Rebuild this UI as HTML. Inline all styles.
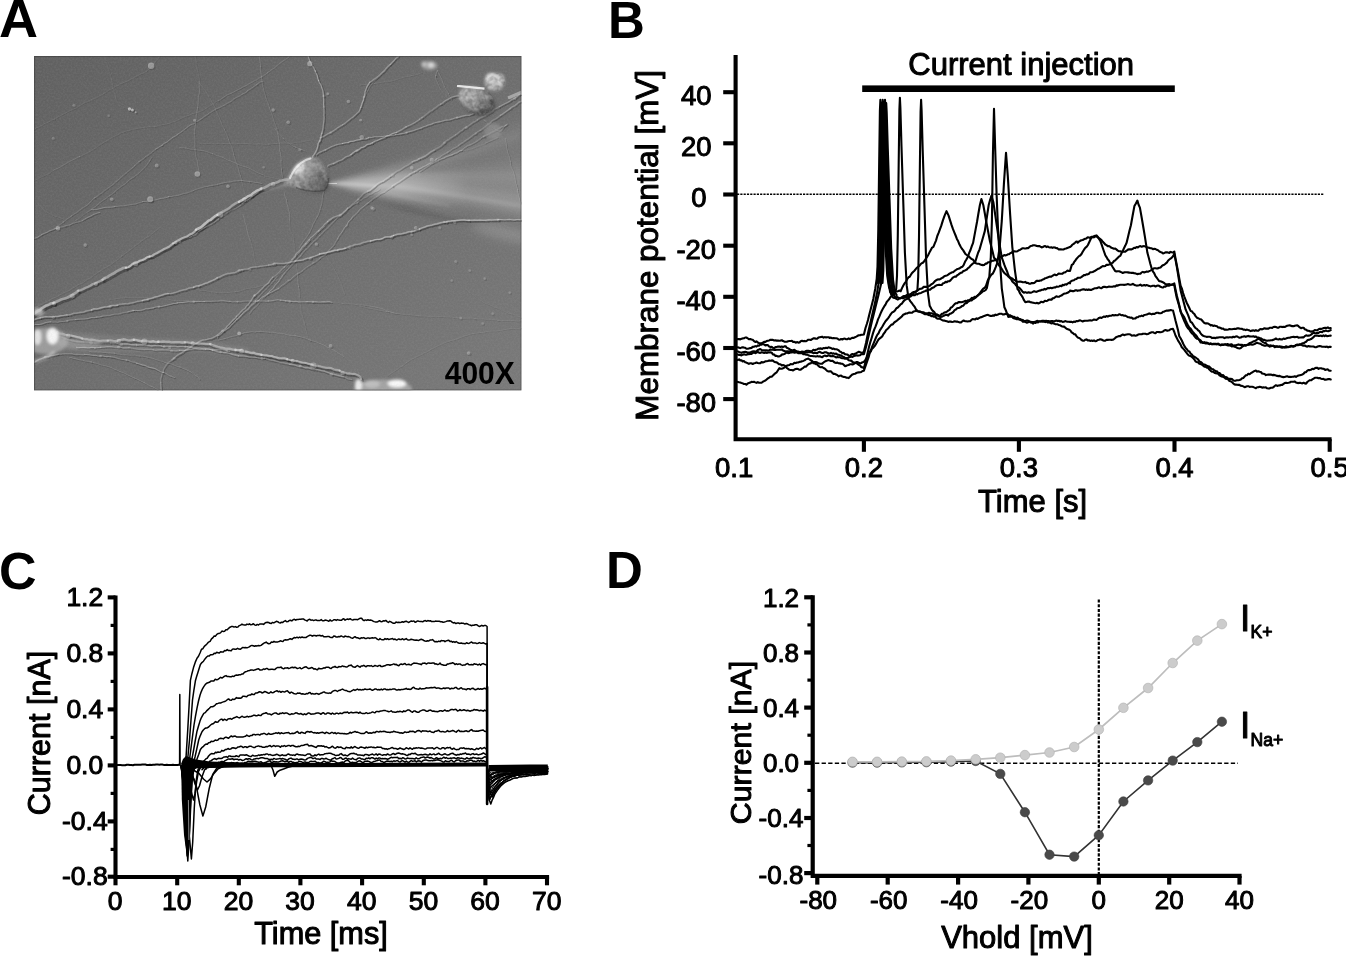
<!DOCTYPE html>
<html><head><meta charset="utf-8"><title>Figure</title>
<style>
html,body{margin:0;padding:0;background:#fff;overflow:hidden}
svg{display:block}
text{font-family:"Liberation Sans",sans-serif;fill:#000;stroke:#000;stroke-width:1.0px;stroke-linejoin:round;opacity:0.999}
.b{font-weight:bold;stroke-width:0}
.ax{stroke:#000;fill:none;stroke-linecap:butt}
.tr{stroke:#000;fill:none;stroke-linejoin:round;stroke-linecap:round}
</style></head><body>
<svg width="1346" height="956" viewBox="0 0 1346 956">
<rect x="0" y="0" width="1346" height="956" fill="#fff"/>
<text class="b" x="-1" y="37" font-size="54">A</text>
<defs>
<linearGradient id="abg" gradientUnits="userSpaceOnUse" x1="34" y1="56" x2="383" y2="544"><stop offset="0" stop-color="#606060"/><stop offset="1" stop-color="#7b7b7b"/></linearGradient>
<filter id="bl05" x="-5%" y="-5%" width="110%" height="110%"><feGaussianBlur stdDeviation="0.45"/></filter>
<filter id="bl1" x="-5%" y="-5%" width="110%" height="110%"><feGaussianBlur stdDeviation="0.7"/></filter>
<filter id="bl2" x="-20%" y="-20%" width="140%" height="140%"><feGaussianBlur stdDeviation="1.5"/></filter>
<filter id="bl3" x="-30%" y="-30%" width="160%" height="160%"><feGaussianBlur stdDeviation="2.6"/></filter>
<filter id="bl5" x="-30%" y="-30%" width="160%" height="160%"><feGaussianBlur stdDeviation="5"/></filter>
<filter id="grain" x="0" y="0" width="100%" height="100%"><feTurbulence type="fractalNoise" baseFrequency="0.55" numOctaves="2" seed="7" result="n"/><feColorMatrix in="n" type="matrix" values="0 0 0 0 0.5  0 0 0 0 0.5  0 0 0 0 0.5  1.4 0 0 0 -0.45"/></filter>
<filter id="wob" x="-2%" y="-2%" width="104%" height="104%"><feTurbulence type="fractalNoise" baseFrequency="0.09" numOctaves="2" seed="3" result="t"/><feDisplacementMap in="SourceGraphic" in2="t" scale="3.2" xChannelSelector="R" yChannelSelector="G" result="d"/><feGaussianBlur in="d" stdDeviation="0.65"/></filter>
<linearGradient id="somag" gradientUnits="userSpaceOnUse" x1="292" y1="162" x2="326" y2="192"><stop offset="0" stop-color="#c4c4c4"/><stop offset="0.35" stop-color="#9a9a9a"/><stop offset="0.7" stop-color="#7c7c7c"/><stop offset="1" stop-color="#505050"/></linearGradient>
<linearGradient id="fadeR" gradientUnits="userSpaceOnUse" x1="330" y1="0" x2="470" y2="0"><stop offset="0" stop-color="#fff" stop-opacity="1"/><stop offset="0.5" stop-color="#fff" stop-opacity="0.75"/><stop offset="1" stop-color="#fff" stop-opacity="0"/></linearGradient>
<linearGradient id="fadeK" gradientUnits="userSpaceOnUse" x1="350" y1="0" x2="490" y2="0"><stop offset="0" stop-color="#000" stop-opacity="0.6"/><stop offset="0.4" stop-color="#000" stop-opacity="1"/><stop offset="1" stop-color="#000" stop-opacity="0"/></linearGradient>
<filter id="texw" x="0" y="0" width="100%" height="100%"><feTurbulence type="fractalNoise" baseFrequency="0.22" numOctaves="2" seed="23" result="n"/><feColorMatrix in="n" type="matrix" values="0 0 0 0 1  0 0 0 0 1  0 0 0 0 1  2.6 0 0 0 -0.95"/></filter>
<filter id="texk" x="0" y="0" width="100%" height="100%"><feTurbulence type="fractalNoise" baseFrequency="0.22" numOctaves="2" seed="5" result="n"/><feColorMatrix in="n" type="matrix" values="0 0 0 0 0  0 0 0 0 0  0 0 0 0 0  2.6 0 0 0 -0.95"/></filter>
<clipPath id="somaclip"><path d="M284 183.5 Q289 176 293 169 Q299 160.5 309 157.5 Q315 156.5 320 161 Q326 167 327.5 176 Q328.5 184 326 188 Q320 192.5 311 191.5 Q298 189.5 284 183.5 Z"/></clipPath>
<clipPath id="cellclip"><ellipse cx="476" cy="100" rx="18" ry="14" transform="rotate(20 476 100)"/><ellipse cx="494.5" cy="82" rx="10.5" ry="9.5"/></clipPath>
<clipPath id="aclip"><rect x="34" y="56" width="487.6" height="334.6"/></clipPath>
</defs>
<g clip-path="url(#aclip)">
<rect x="34" y="56" width="487.6" height="334.6" fill="url(#abg)"/>
<g filter="url(#bl5)">
<polygon points="338,183 530,118 530,178" fill="#fff" opacity="0.05"/>
<polygon points="345,184 530,162 530,222" fill="#fff" opacity="0.09"/>
<ellipse cx="506" cy="233" rx="36" ry="7" fill="#fff" opacity="0.16" transform="rotate(13 506 233)"/>
</g>
<g filter="url(#bl3)">
<polygon points="332,183 440,172 530,172 530,216 440,199" fill="#fff" opacity="0.07"/>
<polygon points="330,183 450,184 530,197 530,212 450,197" fill="#fff" opacity="0.08"/>
<polygon points="330,183 390,178 470,182 470,196 390,192" fill="url(#fadeR)" opacity="0.16"/>
<polygon points="330,182 400,167 470,148 520,130 520,139 470,157 400,174" fill="#fff" opacity="0.06"/>
<polygon points="352,190 400,201 445,212 490,223 490,229 445,221 400,209 352,193" fill="url(#fadeK)" opacity="0.16"/>
<polygon points="331,183 391,164 470,146 470,220 391,203 340,186.5" fill="url(#fadeR)" opacity="0.12"/>
<polygon points="328,183 354,176.5 391,172 470,172 470,206 391,198 354,191.5" fill="url(#fadeR)" opacity="0.22"/>
</g>
<g filter="url(#bl2)">
<polygon points="327,183 400,184 470,195 530,205 530,209 470,199.5 400,188.5" fill="#fff" opacity="0.10"/>
<polygon points="327,183.5 380,190 420,198 450,204 450,207 420,202 380,193.5" fill="#fff" opacity="0.10"/>
<polygon points="327,183 370,178.5 420,171 420,175.5 370,182" fill="#fff" opacity="0.08"/>
<path d="M327 183.3 L348 184 L376 186" stroke="#fff" stroke-width="2.4" opacity="0.30" fill="none"/>
</g>
<g filter="url(#bl1)" fill="none" stroke="#fff"><path d="M326.5 183.2 L337 183.5" stroke-width="2" opacity="0.5"/></g>
<g fill="none" stroke-linecap="round" stroke-linejoin="round" filter="url(#bl1)">
<g stroke="#181818"><path d="M290.1 181.7 L288.3 181.8 L283.8 182.8 L281.9 183.1 L279.8 184.3 L277.4 185.2 L274.7 185.8 L271.9 186.8 L269.2 188.5 L266.4 190 L263.3 190.7" stroke-width="2.6" opacity="0.3"/><path d="M263.2 190.6 L261.2 191.7 L258.9 192.7 L256.8 194.1 L254.7 195.5 L252.7 197.3 L250.2 198.3 L248 199.8 L245.6 201.1 L243.3 202.5 L240.9 203.9" stroke-width="2.4" opacity="0.5"/><path d="M240.9 203.9 L238.4 205 L236.2 206.2 L234.1 207.5 L232.2 209.2 L230.3 210.7 L228.1 212 L225.9 213.2 L223.5 214.3 L221.6 216 L219.1 217" stroke-width="2.3" opacity="0.3"/><path d="M219.2 217.1 L216.9 218.4 L214.8 220.2 L212.7 222 L210.4 223 L208.5 224.6 L206.6 226.2 L204.6 227.9 L202.7 229.7 L200.3 230.7 L198 231.9" stroke-width="2.5" opacity="0.5"/><path d="M197.8 231.7 L195.9 233.6 L193.8 235.4 L191.3 236.4 L189.1 238.1 L186.4 239 L183.8 240.1 L181.3 241.4 L179.1 242.5 L177 244 L174.8 245.3" stroke-width="2" opacity="0.5"/><path d="M174.8 245.3 L172.7 247 L170.7 248.7 L168.3 249.9 L165.8 251 L163.4 252.2 L161.1 253.6 L158.7 255 L156.2 256.1 L154 257.7 L151.4 258.5" stroke-width="2.1" opacity="0.5"/><path d="M151.3 258.4 L148.7 259.2 L146.5 260.8 L144.1 261.9 L141.5 262.6 L139.3 264 L136.8 264.9 L134.3 265.6 L132.2 267.4 L130.1 268.9 L127.5 269.6" stroke-width="2" opacity="0.5"/><path d="M127.7 269.9 L125.1 270.4 L122.8 271.6 L120.4 272.7 L118.1 273.9 L116 275.5 L113.7 276.6 L111.4 277.9 L109.2 279.4 L106.8 280.4 L104.6 281.9" stroke-width="2.6" opacity="0.4"/><path d="M104.4 281.7 L102.1 283 L99.6 284 L97.2 285.2 L94.6 286.1 L92.3 287.5 L89.9 288.8 L87.3 289.7 L85 291 L82.6 292.2 L79.9 292.8" stroke-width="2.2" opacity="0.4"/><path d="M80.1 292.9 L78.1 294.9 L75.9 296.2 L73.8 297.6 L71.6 298.6 L69.5 299.8 L66.7 300.7 L63.7 301.5 L61 302.8 L58.3 304 L55.6 305.2" stroke-width="2.6" opacity="0.4"/><path d="M55.6 305.2 L52.7 305.9 L50.3 307.3 L47.7 308.1 L45.6 309.5 L43.5 310.6 L42 312.4 L40.2 313.1 L38.9 314 L35 316.6 L34.1 316.2" stroke-width="2.6" opacity="0.5"/><path d="M262.6 191.2 L261 191.6 L259.4 192.7 L257.7 194.4 L255.6 195.9 L253.2 197.5 L251.1 199.6 L248.6 201.4 L246 203.1 L243.5 204.8 L241.3 206.5" stroke-width="1.1" opacity="0.3"/><path d="M241.2 206.4 L239 207.8 L236.7 209.2 L234.3 210.3 L232 211.4 L230 212.8 L227.8 213.9 L225.9 215.5 L223.7 216.8 L221.5 218.3 L219.4 219.9" stroke-width="0.9" opacity="0.2"/><path d="M219.5 220 L217.3 221.8 L215.3 223.3 L213 224.7 L210.4 226.1 L207.7 227.6 L205 229.1 L202.4 230.8 L199.9 232.4 L198 234.5 L196 236.2" stroke-width="1.1" opacity="0.3"/><path d="M196 236.2 L193.7 236.9 L192 238 L190.6 238.6" stroke-width="1" opacity="0.3"/><path d="M522.6 220.7 L521.2 221.1 L519.5 221.1 L517.6 220.9 L515.4 221.3 L513.1 221.1 L510.6 220.7 L507.9 221 L505.1 221.1 L502.2 220.9 L499.3 221" stroke-width="1.2" opacity="0.4"/><path d="M499.4 221.2 L496.3 221.4 L493.3 221.6 L490.2 221.4 L487.2 221.9 L484.2 221.8 L481.2 221.7 L478.4 221.8 L475.6 221.7 L473 221.9 L470.5 221.9" stroke-width="1.5" opacity="0.4"/><path d="M470.5 221.9 L468.2 221.9 L466.1 221.6 L462.7 221.6 L459.6 221.8 L456.9 222.2 L454.4 222.3 L452 222.7 L449.8 222.9 L447.7 223.4 L445.5 223.6" stroke-width="1.5" opacity="0.4"/><path d="M445.5 223.6 L443.3 224 L441 224.6 L438.6 225.3 L435.9 225.8 L433.6 226.5 L431.1 227 L428.6 227.5 L426 228.5 L423.4 229.5 L420.7 230.6" stroke-width="1.5" opacity="0.4"/><path d="M420.7 230.6 L418 231.4 L415.4 232.4 L412.6 233 L409.9 233.4 L407.4 234.3 L405 234.7 L402.7 235.5 L400.4 235.5 L398.5 235.9 L395 236.9" stroke-width="1.5" opacity="0.4"/><path d="M395 236.9 L392.4 238.1 L390.1 238.3 L388 238.3 L385.9 238.6 L383.7 239.9 L380.7 240.8 L378.6 240.9 L376.3 241.1 L374.1 241.8 L371.7 242.4" stroke-width="1.3" opacity="0.4"/><path d="M371.7 242.5 L369.2 242.8 L366.7 243.5 L364.1 244.2 L361.6 245.3 L359 245.9 L356.2 246.1 L353.8 247.3 L351.2 247.6 L348.8 248.8 L346.4 249.7" stroke-width="1.5" opacity="0.3"/><path d="M346.4 249.7 L344 250.5 L341.4 250.9 L338.8 251.5 L336.2 251.9 L333.7 252.6 L331.1 253.3 L328.6 254 L326.1 254.7 L323.5 255.1 L321 255.6" stroke-width="1.5" opacity="0.4"/><path d="M320.9 255.5 L318.5 256.5 L316.1 257.5 L313.7 258.2 L311.4 259.3 L308.9 259.7 L306.4 260.3 L304 261.3 L301.6 261.8 L299 262 L296.4 262.6" stroke-width="1.3" opacity="0.3"/><path d="M296.5 262.6 L293.9 263.2 L291.2 263.8 L288.7 264.2 L286.2 264.8 L283.5 265 L280.8 265 L278.1 264.9 L275.3 265.2 L272.7 266.2 L270 266.5" stroke-width="1.5" opacity="0.3"/><path d="M269.9 266.3 L267.3 266.9 L264.6 267.2 L262 267.5 L259.5 268 L257 268.2 L254.2 268.6 L251.3 269.1 L248.7 270.4 L245.8 270.6 L243.1 271.3" stroke-width="1.2" opacity="0.3"/><path d="M243.2 271.4 L240.5 271.8 L238.2 273.2 L235.8 274.3 L233.3 274.6 L230.9 275 L228.6 275.2 L225.6 276.2 L223.1 277.4 L220.8 278.6 L218.6 279.4" stroke-width="1.5" opacity="0.3"/><path d="M218.6 279.3 L216.4 280.7 L213.9 281.9 L210.9 283.3 L208.9 284.3 L206.7 284.8 L204.5 285.6 L202.4 286.7 L199.9 287.3 L197.3 287.6 L194.9 288.8" stroke-width="1.5" opacity="0.3"/><path d="M194.9 288.7 L192.2 289.2 L189.5 289.8 L186.9 291 L184.1 291.5 L181.3 292.2 L179.1 293.1 L176.8 293.8 L174.4 294.5 L171.9 295.1 L169.3 295.1" stroke-width="1.4" opacity="0.3"/><path d="M169.3 295.1 L166.7 295.4 L164.2 296.3 L161.7 297.1 L159.1 297.9 L156.5 298.5 L154 299.4 L151.4 300.1 L148.9 300.9 L146.3 301.4 L143.8 302.1" stroke-width="1.5" opacity="0.4"/><path d="M143.8 302 L141.2 302.4 L138.6 302.8 L136.2 303.6 L133.7 304.1 L131.2 304.6 L128.7 305.3 L126 305.1 L123.5 305.5 L120.9 305.6 L118.5 306.7" stroke-width="1.4" opacity="0.3"/><path d="M118.6 306.8 L116.1 307.1 L113.4 307 L111 307.9 L108.4 308.3 L105.9 308.6 L103.4 309.1 L100.8 309.9 L98.2 310.5 L95.4 310.4 L92.9 311.6" stroke-width="1.5" opacity="0.4"/><path d="M92.8 311.5 L90.1 312 L87.5 312.5 L84.9 313.5 L82.3 313.7 L79.8 314.2 L77.3 314.6 L74.8 314.8 L72.6 315.7 L70.5 316.2 L68.3 316.4" stroke-width="1.4" opacity="0.3"/><path d="M68.4 316.4 L65.1 316.9 L62.1 317.2 L59.3 318 L56.7 318 L54.2 318.4 L51.9 318.3 L49.7 318.4 L47.5 318.3 L45.5 318.4 L41.5 319.3" stroke-width="1.4" opacity="0.4"/><path d="M41.5 319.2 L38.1 320.1 L35.5 321 L33.7 321.7" stroke-width="1.3" opacity="0.4"/><path d="M522.4 322.2 L521 321.6 L519.3 322 L517.3 321.9 L515.2 321.6 L512.8 321.4 L510.2 321.6 L507.5 321.4 L504.7 321.4 L501.8 321.3 L498.8 321.3" stroke-width="0.7" opacity="0.1"/><path d="M498.8 321.2 L495.8 320.7 L492.7 320.4 L489.7 320.1 L486.7 320.2 L483.9 319.8 L481 319.7 L478.3 319.8 L475.8 319.6 L473.4 319.1 L470.6 318.9" stroke-width="0.7" opacity="0.1"/><path d="M470.6 319 L467.8 319.1 L465.2 319.2 L462.5 319.4 L460 319 L457.5 318.5 L455.1 318.7 L452.7 318 L450.3 317.8 L447.9 317.8 L445.5 317.7" stroke-width="0.7" opacity="0.1"/><path d="M445.5 317.7 L443.1 317.6 L440.7 317.5 L438.2 317.7 L435.7 317.8 L433.2 317.4 L430.6 317.2 L427.9 317.2 L425.2 316.9 L422.4 316.9 L419.7 316.8" stroke-width="0.7" opacity="0.1"/><path d="M419.7 316.8 L417 316.6 L414.4 316.1 L411.8 315.7 L409.2 315.6 L406.7 315.8 L404.4 315.6 L402.2 315 L400.1 314.5 L398.2 314.5 L394.6 313.9" stroke-width="0.7" opacity="0.1"/><path d="M394.5 313.8 L391.6 313.1 L389.1 312.3 L386.9 311.5 L384.9 310.4 L382.9 309.3 L380.4 308.9 L378 308.4 L375.6 307.9 L373.4 307.3 L371 307.1" stroke-width="0.7" opacity="0.1"/><path d="M371 307.1 L368.5 306.5 L365.7 306.1 L362.5 305.8 L360.3 305.8 L357.8 305.7 L355 305.2 L352.2 304.8 L349.2 304.6 L346.2 304.2 L343.3 304.5" stroke-width="0.7" opacity="0.1"/><path d="M343.3 304.5 L340.5 303.9 L338 303.3 L335.7 302.9 L333.7 303.1 L332.2 303.3" stroke-width="0.7" opacity="0.1"/><path d="M332.4 303.5 L331 303.1 L329.2 303.1 L327.2 303.1 L324.9 303.1 L322.4 303.3 L319.7 303.3 L316.9 303 L314 303.2 L311.1 302.9 L308.1 303" stroke-width="1.2" opacity="0.3"/><path d="M308.1 302.9 L305.2 303 L302.4 303 L299.6 303.2 L297.1 302.6 L294.7 302.9 L291.9 302.5 L289.2 302.2 L286.6 302.1 L284 301.6 L281.5 301.4" stroke-width="1.1" opacity="0.2"/><path d="M281.4 301.4 L278.9 300.8 L276.5 301.2 L274 301.7 L271.6 302.1 L269.3 302 L266.9 302.4 L264.6 302 L261.8 302.2 L259.1 302 L256.4 302.1" stroke-width="0.9" opacity="0.2"/><path d="M256.5 302.2 L253.9 302.4 L251.2 302.2 L248.6 302.1 L246.1 302.2 L243.5 302.4 L240.9 303 L238.3 302.9 L235.8 302.8 L233.4 303 L230.9 302.6" stroke-width="1" opacity="0.2"/><path d="M231 302.7 L228.5 302.6 L226 302.1 L223.5 301.8 L220.9 302 L218.3 302.3 L215.8 302.4 L213.2 302.6 L210.6 302.7 L208 302.4 L205.4 302.7" stroke-width="1.2" opacity="0.2"/><path d="M205.4 302.6 L202.7 302.6 L200.1 302.5 L197.4 302.7 L194.7 302.8 L192 303 L189.3 302.8 L186.6 303.2 L183.9 303.7 L181.2 303.7 L178.8 303.9" stroke-width="1" opacity="0.2"/><path d="M178.7 303.9 L176.4 304.7 L174 304.6 L171.8 305.4 L169.5 305.7 L167.2 306.6 L164.8 306.9 L162.4 307.6 L159.7 307.8 L156.9 308 L154.2 308.9" stroke-width="0.9" opacity="0.3"/><path d="M154.2 309 L151.2 309.6 L149 310 L146.7 309.9 L144.4 310.9 L142 311.4 L139.5 311.8 L136.9 311.6 L134.2 311.7 L131.6 312.4 L129 313" stroke-width="1" opacity="0.3"/><path d="M129 313 L126.3 313.5 L123.6 314 L121.1 314.9 L118.4 315.2 L115.7 315.3 L113.2 315.9 L110.8 316.6 L108.3 316.7 L105.9 317 L103.2 317.3" stroke-width="1" opacity="0.2"/><path d="M103.1 317.3 L100.4 318.1 L97.6 318.2 L94.8 318.7 L92 318.7 L89.4 319.5 L86.8 319.9 L84.1 320.1 L81.6 320.2 L79.1 320.4 L76.7 320.7" stroke-width="0.9" opacity="0.3"/><path d="M76.7 320.7 L74.4 320.9 L72.2 321 L70.1 321.2 L68.2 321.9 L64.5 322.6 L61.4 322.6 L58.7 323.4 L56.2 323.1 L53.9 323.2 L51.6 323" stroke-width="1" opacity="0.2"/><path d="M51.6 323 L49.2 323.2 L46.3 323.9 L43.3 325 L40.3 325.7 L37.5 325.7 L35.1 325.7 L33.6 326.6" stroke-width="1" opacity="0.3"/><path d="M59.2 334.1 L60.4 335.5 L62.1 335.9 L64.4 336 L66.8 336.9 L69.6 337.5 L72.8 337.8 L76.2 338.5 L80.1 339.5 L81.9 339.9 L84 340.7" stroke-width="2.3" opacity="0.5"/><path d="M83.9 340.6 L86.1 341.4 L88.5 341.1 L90.9 342 L93.4 341.6 L96 342.1 L98.7 342.7 L101.4 343.1 L104.1 342.6 L106.9 342.6 L109.6 342.7" stroke-width="2.2" opacity="0.4"/><path d="M109.7 342.8 L112.4 342.6 L115.1 343.1 L117.7 343.4 L120.3 342.6 L122.8 342.1 L125.1 341.5 L127.9 341.9 L130.5 342.8 L133.1 342.4 L135.7 341.8" stroke-width="2.4" opacity="0.4"/><path d="M135.7 341.8 L138.2 342.4 L140.7 342.8 L143.2 343.4 L145.7 343.1 L148.1 343.3 L150.5 343.8 L152.9 343.9 L155.4 343.5 L157.8 344.3 L160.3 343.9" stroke-width="2.4" opacity="0.4"/><path d="M160.4 344 L162.9 344.4 L165.5 343.9 L168.1 344.3 L170.8 344 L173.4 344.8 L176.2 344.5 L178.9 344.6 L181.6 344.6 L184.2 345 L186.9 344.6" stroke-width="2.6" opacity="0.4"/><path d="M186.8 344.4 L189.3 344.5 L191.8 344.9 L194.2 344.8 L196.4 345.5 L198.5 345.8 L200.5 345.6 L204.2 345.7 L207.1 346.2 L209.7 346.2 L212.1 346.3" stroke-width="2.3" opacity="0.4"/><path d="M212.2 346.4 L214.4 347.7 L216.9 348.3 L219.9 349.3 L222.1 349.9 L224.5 350.2 L226.9 350.9 L229.5 351.2 L232.2 351.2 L234.8 352 L237.5 352.2" stroke-width="2.6" opacity="0.4"/><path d="M237.5 352.2 L240.2 352.5 L243 352.5 L245.6 353.7 L248.2 354.1 L250.7 354.7 L253.2 355.3 L255.8 355.1 L258.3 356.3 L260.8 356.5 L263.3 357" stroke-width="2.5" opacity="0.4"/><path d="M263.3 356.9 L265.8 357.4 L268.4 357.4 L270.9 358.2 L273.6 358.2 L276.2 359.3 L278.6 359.7 L281.1 360.4 L283.7 360.4 L286.4 360.4 L288.9 361.3" stroke-width="2.3" opacity="0.5"/><path d="M288.8 361.2 L291.3 362 L294 362.1 L296.5 362.9 L299.1 363.1 L301.5 364.1 L303.9 364.5 L306.4 364.8 L309.2 365.5 L312 366.2 L314.6 367" stroke-width="2.1" opacity="0.5"/><path d="M314.7 367.1 L317.4 367.8 L320.2 368.2 L322.8 368.8 L325.4 369.4 L328 370 L330.6 370.1 L333.2 370.4 L335.7 371.7 L338.6 372.1 L341.4 372.7" stroke-width="2.3" opacity="0.4"/><path d="M341.4 372.6 L343.9 374.3 L346.6 374.7 L349.1 375.6 L351.6 375.4 L353.7 376 L355.9 375.9 L360 377.4 L362.2 379.1 L363 381.1" stroke-width="2.1" opacity="0.4"/><path d="M60.7 337.8 L62 338.4 L63.7 338.8 L65.5 340 L67.8 340.7 L70.6 341.3 L73.5 342.2 L76.9 342.9 L80.7 343.2 L82.7 343.3 L84.9 343.2" stroke-width="1.4" opacity="0.2"/><path d="M84.9 343.2 L87.2 343.6 L89.6 343.5 L92.2 343.9 L94.8 344.1 L97.5 344.2 L100.3 344.4 L103.1 344.3 L106 344 L108.8 344 L111.6 344.4" stroke-width="1.6" opacity="0.2"/><path d="M111.6 344.3 L114.4 344.2 L117.1 344.4 L119.8 345 L122.3 345.5 L124.8 345.4 L127.5 345.5 L130.1 345.6 L132.7 346.1 L135.3 346.1 L137.8 346.4" stroke-width="1.4" opacity="0.3"/><path d="M137.8 346.4 L140.3 346.2 L142.8 346.1 L145.2 346.4 L147.7 346.7 L150.1 346.9 L152.5 347.5 L155 347 L157.5 347.1 L160 347 L162.5 347.3" stroke-width="1.3" opacity="0.3"/><path d="M162.4 347.3 L165 347.6 L167.6 347.3 L170.3 347.5 L173 347.4 L175.7 347.2 L178.4 347.9 L181.1 347.7 L183.8 347.8 L186.4 347.9 L188.9 348.2" stroke-width="1.2" opacity="0.2"/><path d="M189 348.2 L191.4 348.5 L193.8 349.1 L196 349.4 L198.1 349.4 L200.1 349.3 L203.7 349.9 L206.7 349.9 L209.3 350.2 L211.5 350.9 L213.8 351.8" stroke-width="1.2" opacity="0.2"/><path d="M213.8 351.9 L216.4 352.4 L219.4 353.2 L221.7 353.4 L224.1 353.8 L226.6 354 L229.1 354.4 L231.7 355.1 L234.3 356.1 L237 356.5 L239.7 357.3" stroke-width="1.4" opacity="0.2"/><path d="M239.6 357.2 L242.4 357.2 L245.1 357.3 L247.7 357.7 L250.2 358.3 L252.8 358.3 L255.4 358.4 L258 358.8 L260.5 359.1 L263.1 359.4 L265.7 359.5" stroke-width="1.2" opacity="0.3"/><path d="M265.7 359.6 L268.3 360.3 L270.8 361.2 L273.4 361.6 L276 362.2 L278.5 362.7 L280.8 364 L283.4 364 L285.9 364.7 L288.6 365 L291.1 365.8" stroke-width="1.4" opacity="0.2"/><path d="M291.1 365.8 L293.7 366 L296.3 366.6 L298.7 367.6 L301.3 367.5 L303.7 368.3 L306 369.2 L309 369.2 L311.7 370 L314.5 370.8 L317.4 370.9" stroke-width="1.4" opacity="0.3"/><path d="M317.4 370.9 L320.1 371.5 L322.8 372.2 L325.5 372.5 L327.8 373.8 L330.3 374.5 L332.5 375.4 L335.6 376 L338.5 376.8 L341.5 377.5 L344.4 378.1" stroke-width="1.5" opacity="0.3"/><path d="M344.3 377.9 L346.8 379.1 L349 380.2 L351.1 380.5 L352.6 380.7" stroke-width="1.2" opacity="0.2"/><path d="M77.6 348.7 L79.1 349 L80.8 348.8 L82.9 348.8 L85.1 348.7 L87.6 348.9 L90.2 349 L93 348.6 L95.8 349 L98.8 348.8 L101.9 348.5" stroke-width="1.1" opacity="0.3"/><path d="M101.9 348.5 L104.9 348.4 L108 348 L111 347.9 L114 348.2 L116.9 348.4 L119.7 348.2 L122.3 348.8 L124.7 349.2 L127.5 349.2 L130.1 349" stroke-width="1.2" opacity="0.3"/><path d="M130.2 349.1 L132.7 349.4 L135.2 349.9 L137.6 350.3 L139.9 350.5 L142.3 350.6 L144.6 350.8 L147 350.6 L149.4 350.7 L151.9 350.7 L154.4 351.1" stroke-width="1.2" opacity="0.2"/><path d="M154.4 351.1 L157 351.7 L159.7 351.1 L162.5 351.3 L164.8 351.2 L167.3 351.3 L169.8 351.5 L172.4 351.9 L175.2 352.1 L177.9 352.3 L180.7 351.8" stroke-width="1.4" opacity="0.2"/><path d="M180.6 351.7 L183.4 351.6 L186.2 351.8 L189 351.2 L191.8 350.6 L194.5 350.1 L197.1 350.1 L199.7 350.5 L202.1 350.5 L204.5 350.8 L206.7 350.7" stroke-width="1.1" opacity="0.3"/><path d="M206.7 350.7 L208.7 350.5 L210.6 350.6 L214.6 351.2 L218 351.1 L221.1 351.1 L223.7 351.1 L225.9 351.4 L227.7 351.9 L229.2 352.7 L230.6 352.7" stroke-width="1.1" opacity="0.3"/><path d="M34.6 363.7 L36.2 363.1 L38.2 361.9 L40.6 360.6 L43.5 359.6 L46.3 358.3 L49.4 358.1 L51.7 357 L54.2 356.6 L56.8 356.2 L59.3 355.4" stroke-width="1.2" opacity="0.3"/><path d="M59.4 355.5 L62.2 355.4 L65.1 354.8 L68.4 355 L70.6 354.9 L72.9 355.1 L75.3 355.7 L77.9 355.8 L80.5 355.7 L83.1 356 L85.9 355.7" stroke-width="1.2" opacity="0.2"/><path d="M85.8 355.7 L88.5 355.8 L91.2 356.1 L93.8 356.5 L96.4 356.6 L99 357.2 L101.6 357.1 L104.2 357.2 L106.7 357.8 L109.3 357.7 L111.9 358" stroke-width="1" opacity="0.3"/><path d="M111.9 358.1 L114.5 358.4 L117.1 359.1 L119.6 359.7 L122.1 360.4 L124.7 360.8 L127.4 361.2 L130 361.8 L132.6 363 L135.3 363.4 L137.9 364.5" stroke-width="1.1" opacity="0.2"/><path d="M137.9 364.5 L140.5 365.4 L143.1 366.2 L145.8 366.6 L148.2 368 L150.7 368.6 L153.1 369.2 L156.1 370 L158.9 371.5 L161.7 373 L164.7 373.9" stroke-width="1.2" opacity="0.3"/><path d="M164.7 373.9 L167.5 375.1 L169.8 376.7 L172.2 377.4 L174.1 378.2 L175.6 378.7" stroke-width="1.1" opacity="0.2"/><path d="M70.5 358.6 L72 358.6 L73.7 359.3 L75.8 359.7 L78.1 360.3 L80.6 360.8 L83.3 361.3 L86.1 362 L89 362.4 L92 363 L94.8 363.9" stroke-width="0.8" opacity="0.2"/><path d="M94.8 363.8 L97.7 364.3 L100.3 365.5 L103 366.1 L105.5 366.5 L108.2 367.4 L110.9 368.1 L113.4 369.3 L115.9 370.5 L118.4 371.5 L120.9 372.7" stroke-width="0.7" opacity="0.2"/><path d="M120.9 372.7 L123.5 373.5 L125.9 374.6 L128.2 375.9 L130.6 377 L133 378.1 L135.3 379.1 L137.9 380.2 L140.5 381.4 L143.1 382.9 L145.8 384.1" stroke-width="0.8" opacity="0.2"/><path d="M145.8 384.1 L148.3 385.7 L150.8 387 L153.4 387.8 L155.6 389 L157.4 390.2 L159 391.2 L160.5 391.6" stroke-width="0.8" opacity="0.2"/><path d="M90.5 352.6 L91.9 353 L93.8 352.9 L95.9 352.9 L98.3 353 L100.9 353.1 L103.6 353.3 L106.5 353.7 L109.4 353.8 L112.3 354 L115.1 354.2" stroke-width="0.8" opacity="0.2"/><path d="M115.1 354.1 L117.8 354.9 L120.4 355.1 L122.9 355.8 L125.4 355.9 L127.9 355.8 L130.4 356.2 L132.9 356.2 L135.5 356 L137.9 356.8 L140.4 357.1" stroke-width="0.7" opacity="0.2"/><path d="M140.4 357.1 L143 357.2 L145.5 357.5 L148 358.1 L150.4 358.8 L153 359.2 L155.5 360.2 L158.1 361.1 L160.7 361.8 L163.4 362.4 L165.9 363.7" stroke-width="0.7" opacity="0.2"/><path d="M165.9 363.7 L168.6 364.4 L171.3 364.8 L173.8 365.7 L176.1 366.7 L178.4 367.6 L180.7 368.1 L183.5 369.4 L186.5 370.5 L189.2 371.9 L191.9 373.3" stroke-width="0.8" opacity="0.2"/><path d="M191.9 373.3 L194.3 374.8 L196.1 376.8 L198.2 377.7 L199.8 378.9 L200.5 380.6" stroke-width="0.8" opacity="0.2"/><path d="M522.6 95.2 L521.1 95.5 L519.5 96.5 L517.9 98.1 L515.8 99.5 L513.4 100.6 L511 102.2 L508.5 103.7 L505.8 105.1 L503.1 106.5 L500.4 108" stroke-width="1.1" opacity="0.3"/><path d="M500.5 108 L498 109.5 L495.3 110.5 L493.6 112.4 L491.5 113.8 L489.4 114.9 L487.3 116.2 L485.3 117.7 L482.9 118.4 L480.7 119.6 L478.6 121.1" stroke-width="1.2" opacity="0.2"/><path d="M478.6 121.1 L476.5 122.5 L474.1 123.7 L471.9 125.4 L469.6 127 L467.2 128.6 L465.1 129.7 L463.3 131.5 L461 132.7 L459.1 134.4 L456.9 136.1" stroke-width="1.2" opacity="0.2"/><path d="M457 136.1 L454.6 137.6 L452.3 139.1 L450.1 140.8 L447.6 142 L445.6 144 L443.7 146 L441.7 147.8 L439.5 149.1 L437.2 150.1 L435.3 151.4" stroke-width="1.3" opacity="0.2"/><path d="M435.3 151.5 L433.4 152.5 L431.6 153.5 L428.9 155.7 L426.5 157.4 L424.2 158.5 L422.1 159.5 L420.1 160.2 L418.2 161.5 L415.9 162.1 L413.4 163.3" stroke-width="1.4" opacity="0.3"/><path d="M413.3 163.2 L410.7 165 L408.9 166.2 L406.8 167.2 L404.7 168.5 L402.5 170 L400.2 171.4 L397.6 172.5 L395.4 174.2 L393.1 176 L390.8 177.5" stroke-width="1.1" opacity="0.2"/><path d="M390.9 177.6 L388.7 179.3 L386.4 180.7 L384.3 182.3 L382 183.2 L380 184.3 L378.2 185.5 L375.6 187.8 L373.2 189.8 L371.1 191.6 L368.7 192.5" stroke-width="1.3" opacity="0.3"/><path d="M368.6 192.5 L366.5 193.6 L364.4 194.8 L362.7 196.6 L360.9 198.6 L359.2 200.5 L357.1 202.3 L355.1 204.2 L353 206 L350.9 207.8 L348.7 209.4" stroke-width="1.1" opacity="0.2"/><path d="M348.8 209.6 L347.3 211.7 L345.6 213.4 L344 214.8 L341.4 216.5 L339.2 217.1 L337.2 217.8 L334.9 218.6 L332.2 220.3 L330.4 221.4 L328.9 222.9" stroke-width="1.4" opacity="0.3"/><path d="M328.8 222.8 L327 224.2 L325.3 225.9 L323.8 228.1 L321.6 229.7 L319.9 231.8 L317.7 233.6 L315.7 235.7 L313.6 237.6 L311.7 239.1 L310.3 241.1" stroke-width="1.1" opacity="0.3"/><path d="M310.4 241.2 L308.7 243 L307 245 L305.2 246.9 L303.2 248.7 L301.7 251 L300 253.1 L297.9 254.8 L296.5 257.1 L294.9 259.1 L293.2 260.9" stroke-width="1.3" opacity="0.3"/><path d="M293.1 260.8 L291.6 262.6 L289.3 264.4 L287.4 266.4 L285.4 268.1 L283.5 269.7 L281.8 271.5 L280.3 273.5 L278.3 275.2 L276.2 276.9 L273.8 278.4" stroke-width="1.1" opacity="0.2"/><path d="M273.8 278.4 L271.8 280.6 L270.5 282.6 L269.2 284.6 L267.1 286 L265.1 287.6 L263.4 289.5 L261.5 291.3 L259.7 293.3 L257.7 295 L255.5 296.7" stroke-width="1.1" opacity="0.3"/><path d="M255.5 296.7 L253.9 298.8 L252.6 301.2 L251 303.3 L249.6 305.6 L247.6 307.2 L246.1 309.5 L243.7 311.2 L241.7 313.2 L239.8 315.5 L237.7 317.5" stroke-width="1.1" opacity="0.3"/><path d="M237.7 317.5 L235.9 319.8 L233.7 321.6 L231.9 323.7 L230.1 325.7 L228.3 327.5 L226.8 329.4 L225.2 330.9 L223.5 332.1 L220.7 334.6 L218.4 336.6" stroke-width="1.2" opacity="0.3"/><path d="M218.4 336.6 L216.3 337.9 L214.4 339 L212.5 339.8 L210.4 340.1 L208.3 340.7 L206.5 341.1 L204.1 341.3 L200.1 343 L198.6 344.2 L196.6 345.1" stroke-width="1.3" opacity="0.3"/><path d="M196.6 345.1 L194.6 346.5 L192.3 347.9 L190 349.6 L187.3 351 L184.9 352.8 L182.4 354.6 L179.7 355.9 L177.3 357.6 L175.2 359.5 L173.3 361.2" stroke-width="1.3" opacity="0.3"/><path d="M173.2 361.1 L171.3 362.3 L169.7 363.5 L167.3 366.4 L165.6 368.8 L164.4 370.8 L164.3 373 L163.1 374.8 L162.7 377 L161.8 380 L161.9 383.4" stroke-width="1.1" opacity="0.2"/><path d="M161.9 383.4 L162 386.8 L162.2 389.6 L162.4 391.7" stroke-width="1.1" opacity="0.3"/><path d="M522.6 102.3 L521.3 103 L519.5 103.7 L518 105.4 L516 106.9 L513.5 108 L511.2 109.8 L508.9 111.6 L506.3 113.2 L503.9 115 L501.5 116.6" stroke-width="1.2" opacity="0.2"/><path d="M501.5 116.6 L499.3 118.3 L497.4 119.8 L495.2 120.9 L493 122 L491.4 123.9 L489.3 125.3 L487.4 126.9 L485.4 128.4 L483.4 130 L481.3 131.6" stroke-width="1.1" opacity="0.2"/><path d="M481.3 131.6 L478.9 132.7 L476.8 134.6 L474.3 136 L472.6 137.6 L470.6 139 L468.6 140.5 L466.4 141.8 L464.4 143.4 L462.1 144.7 L460 146.3" stroke-width="1.1" opacity="0.2"/><path d="M459.9 146.3 L457.8 147.9 L455.4 149.1 L453 150.3 L450.9 151.9 L448.6 153.2 L446.5 154.6 L444.2 155.7 L442.2 157 L440.1 158.9 L437.7 160.1" stroke-width="1" opacity="0.2"/><path d="M437.7 160.2 L435.7 161.9 L433.6 163.6 L431.1 164.6 L428.8 165.7 L426.6 167.1 L424.2 168 L422.1 169.5 L419.8 170.4 L417.8 171.9 L415.5 173" stroke-width="1.2" opacity="0.2"/><path d="M415.5 173 L413.2 174.1 L410.9 175.4 L408.8 177 L406.5 178.5 L404.3 180.1 L402.1 181.6 L400 183.1 L397.7 184.3 L395.5 185.7 L393.4 187.2" stroke-width="1.2" opacity="0.2"/><path d="M393.4 187.1 L391.4 188.7 L389.3 190 L387.3 191.2 L385.3 193.2 L382.7 194.2 L380.3 195.4 L378.5 197.3 L376.3 198.6 L374.2 199.8 L372.3 201.4" stroke-width="1" opacity="0.2"/><path d="M372.2 201.3 L370.5 203 L368.5 204.3 L366.7 205.8 L364.6 207.6 L362.5 209.1 L360.6 210.7 L359.2 212.7 L357.4 214.4 L355.4 216.1 L353.4 218.3" stroke-width="0.9" opacity="0.2"/><path d="M353.4 218.3 L351.5 220.9 L349.7 222.3 L348.6 224.4 L347.7 226.7 L345.7 228.5 L344.3 230.7 L343 233.1 L341.3 235.3 L339.6 237.5 L338.5 240" stroke-width="0.9" opacity="0.2"/><path d="M338.5 240 L336.9 242.2 L335.7 244.7 L334.2 247 L332.3 248.8 L330.5 250.6 L328.9 252.7 L327.2 254.8 L325.2 256.5 L322.7 257.7 L320.6 259.4" stroke-width="0.9" opacity="0.2"/><path d="M320.6 259.4 L318.6 261.1 L316.6 262.8 L314.2 263.9 L312.1 265.4 L309.9 266.8 L307.8 268.1 L305.8 269.4 L303.9 271.5 L301.7 273 L299.4 274.2" stroke-width="0.9" opacity="0.2"/><path d="M299.5 274.3 L297.2 275.5 L295.5 277.3 L293.5 278.8 L291.8 280.7 L289.4 281.6 L287.5 283.2 L285.5 285 L283.3 286.4 L281.2 287.8 L279.4 289.8" stroke-width="1" opacity="0.2"/><path d="M279.4 289.8 L277 290.8 L274.6 292 L272.3 293.4 L269.9 294.5 L267.6 295.9 L265.3 297.3 L263 298.6 L261.2 300.5 L259.1 302 L256.8 303.1" stroke-width="1" opacity="0.2"/><path d="M256.8 303.1 L254.8 304.9 L252.7 306.6 L250.9 308.4 L249.3 310.6 L247.1 312.1 L245.1 313.7 L243.3 315.5 L241.6 317.4 L239.9 319.1 L238 320.6" stroke-width="1.2" opacity="0.2"/><path d="M237.9 320.6 L236.2 322.3 L234.2 324.4 L232 326.6 L229.9 329 L227.2 330.6 L224.8 332.3 L223 334.4 L221 335.9 L219.2 336.9 L218.6 338.6" stroke-width="1" opacity="0.3"/><path d="M508.2 125.4 L507 126.4 L505.2 127.3 L502.9 127.9 L500.7 129.2 L498.2 130.7 L495.6 132.2 L492.8 133.4 L490.2 135 L487.5 136.3 L485 137.5" stroke-width="1.1" opacity="0.2"/><path d="M484.9 137.4 L482.6 138.6 L480.5 140.3 L478.3 142 L475.9 143.4 L473.5 144.7 L471 145.9 L468.4 146.9 L466.2 148.3 L464.2 149.9 L462.4 151.5" stroke-width="1" opacity="0.2"/><path d="M462.4 151.5 L460.2 152.2 L457.7 153.9 L455.3 154.7 L453.2 155.7 L451.3 156.5 L449.1 157.1 L446.8 158 L444.3 159.4 L441.9 160.1 L439.4 161.3" stroke-width="0.9" opacity="0.3"/><path d="M439.3 161.3 L436.7 162.8 L433.9 164.3 L431.1 165.9 L428.5 167.6 L426 169.1 L423.8 170.6 L422 171.9 L420.5 172.6" stroke-width="0.9" opacity="0.2"/><path d="M380.5 189.9 L379.3 190.9 L377.4 192 L374.9 192.9 L372.7 194.7 L369.9 195.9 L367.5 197.9 L364.6 199 L362.3 200.9 L360 202 L358.1 203.7" stroke-width="0.8" opacity="0.2"/><path d="M358.1 203.7 L355.7 204.8 L353.5 206.2 L351.4 207.8 L349.1 209.1 L347.3 211 L345 212.1 L343.5 214.2 L341.5 215.9 L339.8 217.8 L337.8 219.1" stroke-width="0.8" opacity="0.2"/><path d="M337.8 219.1 L336.2 220.9 L334.6 222.7 L332.9 224.5 L331.1 226.3 L329.2 228.3 L327.6 229.9 L325.7 231.4 L324 233.2 L322.4 235.2 L320.4 236.8" stroke-width="0.9" opacity="0.2"/><path d="M320.4 236.8 L318.7 238.7 L317 240.8 L314.7 242.2 L312.9 244.2 L311.1 246.1 L309.5 247.9 L308 249.7 L305.9 251.1 L304.4 253 L302.8 254.9" stroke-width="0.9" opacity="0.2"/><path d="M302.8 254.9 L301.5 256.9 L299.5 258.5 L297.7 260.4 L296.1 262.4 L294.2 264.4 L292.4 266.5 L290.5 268.1 L289 270.1 L287.2 271.9 L285.6 274" stroke-width="0.9" opacity="0.2"/><path d="M285.6 274 L283.9 276.1 L282.4 278.4 L280.8 280.6 L279.4 283 L277.4 284.9 L275.7 286.9 L274.4 289.3 L272.4 290.9 L270.5 292.6 L268.7 294.9" stroke-width="0.9" opacity="0.2"/><path d="M268.6 294.9 L266.3 296.9 L264.2 299.3 L261.9 301.4 L260 303.9 L258.1 306.2 L256.1 308.2 L254.1 309.9 L252.5 311.6 L251.4 313.2 L250.5 314.5" stroke-width="0.8" opacity="0.2"/><path d="M313.7 159.2 L314 157.6 L315.3 155.8 L316.7 153.6 L317.9 150.9 L318.9 148 L319.4 144.9 L320.8 142.1 L322 139.4 L322.3 137 L323 134.6" stroke-width="1.3" opacity="0.3"/><path d="M323 134.6 L323.7 132.1 L324.2 129.6 L324.4 127.1 L324.7 124.5 L325.1 121.9 L325.4 119.3 L325.1 116.7 L325.2 114 L325.3 111.2 L325.1 108.3" stroke-width="1.3" opacity="0.3"/><path d="M325.1 108.3 L324.8 105.4 L324.9 102.6 L324.9 99.7 L324.6 97 L324.3 94.4 L324.1 91.9 L323 89.2 L322.3 86.5 L320.8 84.2 L319.8 81.9" stroke-width="1.2" opacity="0.3"/><path d="M319.8 81.9 L319 79.6 L318.7 77.2 L317.8 75.1 L316.5 72.2 L315.2 69.3 L313.4 66.9 L312.2 64.4 L311.1 62.4 L309.6 58.2 L308.7 55.8" stroke-width="1.3" opacity="0.4"/><path d="M321.1 139.2 L322.6 138.5 L324.5 137.8 L326.6 136.6 L328.9 135 L331.5 133.8 L334.2 132.3 L336.8 130.7 L339.1 128.7 L341.5 127.4 L343.8 126.1" stroke-width="1.2" opacity="0.2"/><path d="M343.8 126.1 L346 124.6 L348 122.9 L350 121.3 L352 119.7 L354.1 118.3 L355.9 116.6 L357.6 114.9 L359.5 113.2 L360.8 111.1 L361.9 108.7" stroke-width="1.1" opacity="0.3"/><path d="M361.9 108.7 L362.8 106.2 L363.6 103.5 L364.8 100.9 L365 98 L365.9 95.4 L366.2 92.7 L367.1 90.4 L367.9 88.2 L369.4 85.6 L370.8 83.5" stroke-width="1.1" opacity="0.3"/><path d="M370.8 83.5 L372.9 82.3 L374.8 80.8 L377.1 79.3 L379.7 77.3 L381.3 75.7 L383 73.9 L385.2 72.1 L387 69.8 L389 67.6 L391.3 65.6" stroke-width="1.2" opacity="0.3"/><path d="M391.3 65.6 L393.3 63.5 L395.3 61.7 L396.8 59.8 L398.6 58.8 L399.6 57.7" stroke-width="1.2" opacity="0.3"/><path d="M317.3 156.1 L318.7 154.8 L320.8 153.5 L323.5 152.4 L326.4 151 L329.4 149.5 L332.2 148 L334.8 147 L337.5 146 L340.5 145.3 L343.6 144.8" stroke-width="1.1" opacity="0.3"/><path d="M343.6 144.8 L346.3 144 L349 143.8 L351.1 142.7 L354.7 142.3 L357.1 141.5 L360.5 140.9 L362.5 140.3 L364.8 140.2 L367.2 140.1 L369.6 138.9" stroke-width="1.1" opacity="0.3"/><path d="M369.6 138.9 L372.4 138.7 L375.2 137.9 L378.4 138 L380.7 137.8 L383.2 137.7 L385.8 137.4 L388.5 137.2 L391.2 136.9 L394 136.5 L396.8 135.7" stroke-width="1" opacity="0.3"/><path d="M396.8 135.7 L399.7 135.6 L402.4 134.9 L405.2 134.6 L407.6 133.8 L410 133.1 L412.4 132.4 L414.9 131.8 L417.2 130.8 L419.6 130 L422.1 129.2" stroke-width="1.1" opacity="0.3"/><path d="M422.1 129.2 L424.4 128 L426.9 127.3 L429.3 126.3 L431.8 125.7 L434.2 124.4 L436.9 123.8 L439.7 123.2 L442.5 122.5 L445.3 121.7 L448.1 121.3" stroke-width="1.1" opacity="0.3"/><path d="M448.1 121.3 L450.9 121 L453.5 120.1 L455.9 119.3 L458.1 118.7 L460.2 118.4 L464.2 117.2 L467.6 116.6 L470.6 116.3 L472.8 115.6 L474.4 114.7" stroke-width="1.1" opacity="0.3"/><path d="M328.6 167.4 L330 166.4 L332.1 165.6 L334.7 164.8 L337.4 163.5 L340.2 162.1 L343.1 161 L345.4 159.4 L347.5 157.9 L350.2 157.1 L352.2 155.8" stroke-width="1.2" opacity="0.3"/><path d="M352.2 155.8 L353.9 154.4 L355.7 153 L358 151.9 L360.7 150.5 L362.3 149 L364.5 148.5 L366.5 147.2 L368.5 145.7 L371.1 145.3 L373.5 144.2" stroke-width="1.2" opacity="0.4"/><path d="M373.4 144.2 L375.7 142.6 L378.3 141.6 L380.9 140.5 L383.6 139.4 L385.9 138.7 L387.9 137.2 L390.3 136.5 L392.7 135.3 L395.2 134.3 L397.8 133.5" stroke-width="1.1" opacity="0.4"/><path d="M397.8 133.6 L400.2 132.2 L402.7 131.1 L404.9 129.6 L407.1 128.1 L409.4 127.1 L411.7 126.1 L413.7 125 L416.2 123.6 L418.6 122.1 L420.9 120.5" stroke-width="1.2" opacity="0.2"/><path d="M420.9 120.5 L423.1 118.9 L425.2 117.5 L427.1 115.8 L429.2 114.4 L430.9 112.7 L433.1 111.9 L434.7 110.3 L437.2 108.7 L439.3 106.8 L441.7 105.5" stroke-width="1.3" opacity="0.2"/><path d="M441.7 105.5 L443.9 104.2 L445.7 102.6 L447.6 101.4 L449.5 100.4 L452.6 98.7 L455.7 97.7 L458.3 97.1 L460.2 96.9" stroke-width="1.2" opacity="0.3"/><path d="M275.8 129.6 L276.7 131.1 L278 132.9 L280.1 134.7 L282 137 L284.1 139.3 L286.3 141.5 L288.5 143.4 L290.7 144.9 L293.2 146.9 L296.3 148.2" stroke-width="0.7" opacity="0.2"/><path d="M296.3 148.2 L299.3 149.5 L302 150.6 L304.3 151.3 L305.9 152.2" stroke-width="0.7" opacity="0.2"/><path d="M260.7 55.5 L260.5 57.1 L260.4 59.2 L260.7 61.6 L261.2 64.4 L261.3 67.3 L261.1 70.4 L261.7 73.6 L262.2 76.7 L262.4 79.7 L263.1 82.4" stroke-width="0.7" opacity="0.1"/><path d="M263.1 82.4 L263.2 85.2 L263.9 87.9 L264.7 90.6 L265.2 93.4 L266.1 96.1 L266.8 98.8 L267.7 101.4 L268.9 103.9 L269.6 106.4 L270.5 108.8" stroke-width="0.7" opacity="0.2"/><path d="M270.5 108.8 L271.4 111.6 L272.4 114.2 L273.3 116.7 L274 119.3 L274.8 121.8 L275.7 124.3 L276.7 126.8 L277.7 129.6 L278.1 132 L278.7 134.6" stroke-width="0.7" opacity="0.2"/><path d="M278.7 134.6 L279.2 137.2 L279.6 139.9 L279.9 142.6 L280.5 145.4 L280.6 148.1 L280.5 150.8 L281.1 153.4 L281.3 155.9 L281.8 158.7 L281.9 161.6" stroke-width="0.7" opacity="0.1"/><path d="M281.9 161.6 L281.9 164.6 L281.9 167.5 L282.5 170.2 L282.4 172.8 L282.8 175.1 L283.2 177 L283.3 178.5" stroke-width="0.7" opacity="0.2"/><path d="M200.5 84.4 L201.5 85.6 L202.9 87.2 L204.4 89.3 L206.1 91.6 L207.7 94.3 L209.5 97 L211.3 99.7 L212.3 101.7 L213.3 103.9 L214.6 106.1" stroke-width="0.7" opacity="0.2"/><path d="M214.6 106 L215.8 108.4 L216.5 111 L217.7 113.5 L218.9 116 L220.2 118.5 L221.1 121 L222.1 123.4 L223 125.7 L224.5 128.2 L225.5 130.7" stroke-width="0.7" opacity="0.2"/><path d="M225.5 130.8 L226.6 133.2 L227.7 135.5 L228.6 138 L229.5 140.4 L230.2 143 L231.6 145.5 L232.9 148.2 L233.3 150.7 L234.1 153.1 L234.6 155.7" stroke-width="0.7" opacity="0.2"/><path d="M234.6 155.6 L235.4 158.2 L236.2 160.9 L237.1 163.5 L238 166.1 L239 168.7 L239.7 171.3 L240.1 173.9 L241.1 176.2 L241.8 178.5 L242.5 181.5" stroke-width="0.7" opacity="0.2"/><path d="M242.5 181.4 L243.1 184.5 L243.6 187.5 L244.6 190.3 L245.5 193 L246.1 195.5 L246.6 197.7 L247.1 199.6 L247.5 201" stroke-width="0.7" opacity="0.1"/><path d="M200.4 112.5 L201.7 111.9 L203.3 111.1 L205.1 110 L207.2 108.8 L209.2 107.2 L211.7 106 L214.1 104.4 L216.4 102.6 L219 101.3 L221.6 99.9" stroke-width="0.7" opacity="0.1"/><path d="M221.6 99.9 L224 98.4 L226.3 96.8 L228.5 95.4 L231.1 94.4 L233.6 93.2 L236.1 92 L238.5 90.6 L241 89.4 L243.4 87.9 L245.9 86.8" stroke-width="0.7" opacity="0.2"/><path d="M245.9 86.8 L248.2 85.5 L250.5 84.1 L252.8 83 L254.9 81.7 L257 80.8 L259.4 79 L262 77.7 L264.3 76.4 L266.5 75 L268.4 73.4" stroke-width="0.7" opacity="0.1"/><path d="M268.4 73.4 L270.4 72 L272.2 70.5 L274.3 69.4 L276.1 68 L278.3 65.9 L280.7 63.9 L283.2 62.2 L285.6 60.6 L287.7 59.2 L289.4 57.8" stroke-width="0.7" opacity="0.1"/><path d="M289.5 57.9 L290.4 56.5" stroke-width="0.7" opacity="0.1"/><path d="M200.4 144.5 L201.8 144 L203.5 144.2 L205.5 144.3 L207.7 144.5 L210 144.4 L212.6 144.2 L215.3 144.1 L218.1 144.2 L220.9 144.2 L223.9 144.4" stroke-width="0.7" opacity="0.1"/><path d="M223.9 144.4 L226.8 144.4 L229.7 144.3 L232.6 144.3 L235.4 144.6 L238.1 144.6 L240.6 144.4 L243.2 144.6 L245.8 144.4 L248.4 144.6 L251 144.8" stroke-width="0.7" opacity="0.1"/><path d="M251 144.8 L253.7 145.1 L256.4 145 L259.1 144.7 L261.7 144.8 L264.4 145.2 L267 145.1 L269.6 144.9 L272.2 144.7 L274.7 144.6 L277.1 144.2" stroke-width="0.7" opacity="0.1"/><path d="M277.1 144.2 L279.5 144.2 L282.4 144 L285.5 144 L288.6 144.1 L291.7 144.2 L294.7 143.7 L297.6 143.1 L300.5 143.1 L303.3 142.6 L305.8 142" stroke-width="0.7" opacity="0.1"/><path d="M305.7 141.9 L308 141.5 L310.1 141.1 L311.9 140.7 L313.4 140.8" stroke-width="0.7" opacity="0.1"/><path d="M285.1 193.5 L285.3 195.3 L286 197.8 L287.2 200.6 L287.5 204 L288.6 207.2 L289.3 210.4 L289.8 212.8 L290.3 215.4 L290.2 218.2 L290.4 220.9" stroke-width="0.7" opacity="0.1"/><path d="M290.4 220.9 L290.5 223.6 L290.6 226.1 L290.7 228.4 L290.9 230.4 L291.8 233.2 L293.3 234.5 L294.4 239.3 L294.4 241 L294.6 242.9 L295 245" stroke-width="0.7" opacity="0.1"/><path d="M295 245 L295 247.3 L295.1 249.8 L295.7 252.3 L296.1 255 L296.7 257.7 L296.8 260.5 L297.1 263.3 L297.3 266.2 L297.4 269 L297.9 271.7" stroke-width="0.7" opacity="0.1"/><path d="M298 271.7 L298.5 274.4 L298.4 277 L298.8 279.5 L298.7 282.1 L299 284.7 L299.4 287.3 L299.9 289.9 L300.1 292.6 L300.2 295.2 L300.2 297.8" stroke-width="0.7" opacity="0.2"/><path d="M300.1 297.8 L300.8 300.3 L301 302.8 L300.9 305.3 L301.6 307.7 L301.6 310.1 L301.8 312.4 L302.7 314.5 L303.5 317.6 L304.3 320.8 L305.1 323.9" stroke-width="0.7" opacity="0.1"/><path d="M305.1 323.9 L306 327 L306.4 330 L307.2 332.8 L307.8 335.3 L308.3 337.6 L309.1 339.5 L309.6 341" stroke-width="0.7" opacity="0.1"/><path d="M324.7 191.7 L324.2 193.3 L323.7 195.6 L323.2 198.3 L322.9 201.3 L322.6 204.5 L321.6 207.5 L320.7 210.4 L320 212.9 L319.1 215.5 L317.7 217.9" stroke-width="0.7" opacity="0.2"/><path d="M317.7 217.9 L316.4 220.4 L315 222.9 L313.7 225.4 L312.8 228.1 L311.6 230.5 L310.4 233.1 L308.8 235.6 L307.1 238.2 L305.3 240.7 L303.6 243" stroke-width="0.7" opacity="0.2"/><path d="M303.6 242.9 L302.1 245.1 L300.9 246.8 L300.4 248.5" stroke-width="0.7" opacity="0.2"/><path d="M399.6 55.5 L398.4 56.8 L397 58.6 L395.6 60.9 L393.7 63.2 L391.4 65.5 L389.2 67.8 L387.3 70.2 L385.5 71.8 L383.8 73.7 L381.9 75.3" stroke-width="0.7" opacity="0.2"/><path d="M381.9 75.3 L380 77.1 L378.2 79 L376.4 80.9 L374.4 82.5 L372.9 84.4 L371.3 86.2 L369.8 88.8 L368.5 91.6 L366.9 94.2 L365.9 97.1" stroke-width="0.7" opacity="0.2"/><path d="M366 97.1 L364.5 99.6 L363.7 102 L362.7 104 L361.4 107.9 L360.9 110.8 L360.5 112.8" stroke-width="0.8" opacity="0.2"/><path d="M360.4 86 L362 85.6 L364.2 85.5 L367.1 85.2 L371.1 85 L373 84.8 L375.1 84.4 L377.4 83.9 L379.9 83.6 L382.5 83 L385.2 82.7" stroke-width="0.7" opacity="0.1"/><path d="M385.2 82.7 L388 82.7 L390.8 82.2 L393.4 81.4 L396 80.8 L398.4 79.9 L401.1 79.2 L403.7 78.2 L406.6 77.6 L409.5 77.2 L412.2 76.4" stroke-width="0.7" opacity="0.1"/><path d="M412.2 76.4 L414.9 75.9 L417.3 75.4 L419.4 74.5 L421.2 74 L422.6 73.5" stroke-width="0.7" opacity="0.1"/><path d="M34.4 130.5 L35.7 129.8 L37 128.7 L38.8 127.9 L40.8 127.2 L42.8 126 L44.9 124.6 L47.3 123.6 L49.8 122.4 L52.2 120.9 L55 119.9" stroke-width="0.7" opacity="0.1"/><path d="M55 119.9 L57.5 118.3 L60.2 116.9 L62.9 115.6 L65.5 114 L68.2 112.6 L70.8 111.4 L73.4 110.2 L76 109.1 L78.4 107.9 L80.4 106.5" stroke-width="0.7" opacity="0.1"/><path d="M80.5 106.5 L82.7 105 L85 103.6 L87.6 102.8 L90.1 101.7 L92.5 100.6 L94.9 99.4 L97.4 98.4 L99.6 97 L102 96 L104.1 94.6" stroke-width="0.7" opacity="0.1"/><path d="M104.1 94.6 L106.3 93.4 L108.3 91.8 L110.3 90.5 L112.6 89.8 L114.5 88.4 L116.3 87 L118.5 86.3 L120.2 85.1 L123.1 84 L125.8 82.8" stroke-width="0.7" opacity="0.1"/><path d="M125.8 82.7 L128.5 81.7 L130.9 80.4 L133.2 79.1 L135.3 77.7 L137.6 76.8 L139.7 75.7 L141.7 74.6 L143.8 73.9 L145.8 72.9 L147.5 71.6" stroke-width="0.7" opacity="0.1"/><path d="M147.5 71.6 L150.3 69.5 L152.9 67.2 L154.8 64.4 L156.5 61.9 L158.4 59.9 L159.7 58.1 L160.4 56.5" stroke-width="0.7" opacity="0.1"/><path d="M34.4 181.4 L35.7 180.9 L37.3 180.4 L38.9 179.4 L40.8 178.4 L42.8 177.2 L45 176.3 L47.3 175.1 L49.9 174.2 L52.1 172.4 L54.6 170.8" stroke-width="0.7" opacity="0.1"/><path d="M54.6 170.8 L57.2 169.5 L60 168.4 L62.6 166.8 L65.2 165.2 L67.8 163.7 L70.3 162.1 L73 160.9 L75.5 159.7 L77.9 158.4 L80.4 157.4" stroke-width="0.7" opacity="0.1"/><path d="M80.4 157.4 L82.7 156.3 L85 155.1 L87.3 154 L89.7 152.8 L91.9 151.4 L94.1 150 L96.5 148.8 L98.4 147 L100.7 145.7 L102.8 144.2" stroke-width="0.7" opacity="0.1"/><path d="M102.9 144.2 L105.1 142.9 L107.3 141.7 L109.4 140.3 L111.5 138.9 L113.7 137.8 L115.8 136.6 L118.1 135.8 L120.1 134.6 L122.1 133.5 L124.3 132.9" stroke-width="0.7" opacity="0.1"/><path d="M124.3 132.9 L126.9 131.8 L129.7 131.3 L132.2 130.3 L134.9 130.1 L137.4 129.5 L139.9 128.8 L142.4 128.6 L144.9 128.2 L147.3 127.7 L149.8 127.6" stroke-width="0.7" opacity="0.1"/><path d="M149.7 127.6 L152.2 127.6 L154.7 127.5 L157.2 127 L159.7 126.3 L162.2 125.7 L164.7 125.2 L167.3 124.6 L170.1 124 L172.8 123 L175.6 122.2" stroke-width="0.7" opacity="0.1"/><path d="M175.6 122.2 L178.3 120.9 L181 119.7 L183.5 118.3 L186.1 117.2 L188.7 116.3 L191.1 115.4 L193.3 114.4 L195.5 114 L197.4 113.3 L199 112.9" stroke-width="0.7" opacity="0.1"/><path d="M199 112.9 L200.4 112.4" stroke-width="0.7" opacity="0.1"/><path d="M55 229.4 L56.2 228.8 L57.4 227.7 L58.7 226.4 L60.6 225.6 L62.4 224.4 L64.2 222.8 L66.1 221.2 L68.1 219.6 L70.5 218.2 L72.6 216.4" stroke-width="0.7" opacity="0.2"/><path d="M72.7 216.5 L75 214.9 L77.6 213.4 L79.9 211.5 L82.3 209.7 L84.8 208 L87.4 206.5 L89.6 204.5 L91.5 202.3 L93.6 200.3 L95.8 198.5" stroke-width="0.7" opacity="0.2"/><path d="M95.8 198.5 L98.1 197.2 L100 195.5 L102.2 194.3 L103.8 192.7 L105.5 191.4 L108.3 189.5 L110.7 187.5 L113.4 185.9 L115.4 183.8 L117.6 182" stroke-width="0.7" opacity="0.2"/><path d="M117.6 182 L119.7 180.4 L121.6 178.6 L123.5 176.9 L125.4 175.4 L127 173.7 L128.9 172.3 L130.5 170.8 L132.3 169.6 L133.9 168.1 L135.4 166.7" stroke-width="0.8" opacity="0.2"/><path d="M135.5 166.7 L137.9 164.5 L140 162.5 L142.3 161.1 L144.3 159.7 L146 158 L148 156.7 L150.2 155.5 L152 153.5 L154.5 151.8 L156.3 150.2" stroke-width="0.8" opacity="0.2"/><path d="M156.3 150.2 L158.4 148.9 L160.6 147.5 L162.9 146.3 L164.9 144.4 L167.4 143.2 L169.6 141.5 L171.8 139.7 L174.1 138.1 L176.6 136.7 L178.8 135" stroke-width="0.8" opacity="0.2"/><path d="M178.8 135 L181.2 133.5 L183.2 131.9 L185.3 130.3 L187.4 128.6 L189.6 127 L191.8 125.6 L194.4 124.6 L196.6 123 L199 121.8 L201.2 120.2" stroke-width="0.7" opacity="0.2"/><path d="M201.3 120.3 L203.6 118.8 L205.7 117 L208.1 115.8 L210.2 114 L212.5 112.6 L214.8 111.1 L217.3 109.8 L219.9 108.8 L222.4 107.4 L225 106.3" stroke-width="0.8" opacity="0.2"/><path d="M225 106.3 L227.3 104.8 L229.7 103.5 L232.1 102.2 L234.2 100.5 L236.2 99 L238.5 97.8 L240.6 96.8 L243.2 95.1 L246.2 93.9 L248.5 91.8" stroke-width="0.8" opacity="0.2"/><path d="M248.5 91.7 L251 90 L253.5 88.6 L255.6 86.9 L257.6 85.4 L259.4 84 L261 83 L262.5 82.6" stroke-width="0.8" opacity="0.2"/><path d="M70.4 226.5 L71.3 225.3 L72.7 224.5 L74.2 223.3 L75.6 221.7 L77.6 220.6 L79.7 219.3 L81.7 217.7 L83.7 215.8 L85.9 214.2 L88.3 212.7" stroke-width="0.7" opacity="0.1"/><path d="M88.4 212.7 L90.9 211.2 L93.1 209.3 L95.7 207.8 L97.9 205.9 L100 203.9 L102.2 202.3 L104.4 200.7 L106.7 199.5 L108.4 197.7 L110.5 196.5" stroke-width="0.7" opacity="0.2"/><path d="M110.5 196.5 L112.9 194.8 L115.1 192.9 L117.1 190.8 L119.5 189.2 L121.6 187.4 L124 185.9 L126.3 184.5 L128 182.4 L130 180.8 L132 179.3" stroke-width="0.7" opacity="0.2"/><path d="M132 179.3 L134.2 178.3 L135.9 176.7 L137.7 175.5 L139.3 174.2 L140.8 172.9 L143.4 170.1 L145.9 167.6 L147.9 165.4 L149.3 163.2 L150.6 161.3" stroke-width="0.7" opacity="0.2"/><path d="M150.6 161.3 L151.4 159.6 L152.4 158.5" stroke-width="0.7" opacity="0.2"/><path d="M92.5 210.6 L94 210.7 L95.6 210.4 L97.6 210.5 L99.7 209.9 L102 209.4 L104.5 208.7 L107.1 208.3 L109.9 208.2 L112.8 208.1 L115.7 207.6" stroke-width="0.8" opacity="0.2"/><path d="M115.7 207.6 L118.7 207.3 L121.7 206.9 L124.7 206.9 L127.7 206.2 L130.6 205.7 L133.4 205.4 L136.2 205.1 L138.7 204 L141.2 203.4 L143.4 202.6" stroke-width="0.8" opacity="0.2"/><path d="M143.4 202.6 L146.3 202.4 L149.2 202.1 L152 201.9 L154.7 201.2 L157.3 200.6 L159.8 199.8 L162.3 199.3 L164.8 198.9 L167.2 198.5 L169.5 197.6" stroke-width="0.7" opacity="0.2"/><path d="M169.5 197.6 L171.9 197.5 L174.2 196.8 L176.6 196.6 L178.9 196.3 L181.1 195.6 L183.8 194.7 L186.5 194.2 L189.1 193.5 L191.5 192.5 L193.9 191.6" stroke-width="0.7" opacity="0.2"/><path d="M193.9 191.6 L196.1 190.4 L198.6 189.7 L200.9 189 L203.3 188.2 L205.7 187.6 L208.2 187.4 L210.6 186.6 L213.1 186.2 L215.7 185.8 L218.3 185.3" stroke-width="0.7" opacity="0.2"/><path d="M218.3 185.4 L220.9 184.7 L223.5 184.1 L226.1 183.5 L228.6 183.1 L231.2 182.9 L233.6 182.3 L236 181.9 L238.3 181.9 L240.5 181.5 L243.8 181.7" stroke-width="0.8" opacity="0.2"/><path d="M243.7 181.7 L247 182.2 L250.2 182.6 L253.3 182.8 L256.1 183.4 L258.8 183.5 L260.8 184.4 L262.5 184.5" stroke-width="0.7" opacity="0.2"/><path d="M196.1 56.4 L196 58 L196.5 59.8 L196.7 62 L196.8 64.5 L197.1 67.2 L197.9 70 L198.7 72.9 L199.4 75.9 L200.1 79 L200 82.1" stroke-width="0.7" opacity="0.1"/><path d="M200.1 82.1 L199.8 85.2 L200 88.1 L200.4 90.5 L200.2 93 L199.7 95.5 L198.9 98 L199 100.7 L198.9 103.3 L198.7 106 L198.4 108.6" stroke-width="0.7" opacity="0.1"/><path d="M198.4 108.7 L197.8 111.3 L197.6 113.9 L197 116.4 L196.8 118.9 L196.6 121.3 L196.2 123.6 L196.2 125.8 L195.7 128.9 L195.2 131.8 L195.1 134.6" stroke-width="0.7" opacity="0.1"/><path d="M195 134.6 L195.6 137.3 L195.7 139.8 L195.7 142.4 L195.7 144.8 L195.7 147.3 L196 149.7 L196 152.2 L196.2 155 L196.9 158 L197.9 160.9" stroke-width="0.7" opacity="0.2"/><path d="M197.9 160.9 L198.2 163.9 L198.6 166.8 L199.2 169.5 L199.6 171.9 L199.9 173.9 L200.4 175.4" stroke-width="0.7" opacity="0.1"/><path d="M34.5 239.4 L36.2 239.2 L38.1 238.6 L40.1 237.3 L42.4 235.8 L45 234.5 L47.8 233.4 L50.5 231.8 L53.4 230.9 L56.1 229.9 L58.8 229.3" stroke-width="0.9" opacity="0.3"/><path d="M58.8 229.3 L61.3 228.3 L64 227.9 L66.5 226.9 L69.2 226.3 L71.7 225.5 L74.1 224.3 L76.6 223.5 L79.1 223 L81.4 222.4 L83.5 221.4" stroke-width="0.9" opacity="0.2"/><path d="M83.5 221.4 L86.3 219.7 L89.1 218.2 L92 217 L94.5 215.5 L96.9 214.6 L98.9 213.8 L100.5 213.6" stroke-width="0.8" opacity="0.3"/><path d="M34.4 309 L35.7 308.5 L37.3 307.7 L39 306.8 L40.9 305.7 L43 304.8 L45.3 303.6 L47.7 302.5 L50 301 L52.5 299.6 L55.3 298.6" stroke-width="0.7" opacity="0.1"/><path d="M55.3 298.6 L57.9 297.2 L60.4 295.7 L63 294.4 L65.6 293.2 L68.2 292.1 L70.3 290.9 L72.4 289.6 L74.6 288.3 L76.8 287 L79 285.6" stroke-width="0.7" opacity="0.1"/><path d="M79 285.5 L81.5 284.6 L83.8 283.4 L86 281.7 L88.1 280.1 L90.6 279.1 L92.8 277.5 L94.8 275.8 L97 274.4 L99.1 272.9 L101.2 271.5" stroke-width="0.7" opacity="0.1"/><path d="M101.1 271.4 L103.3 270.2 L105.3 268.9 L107.7 267.6 L110 266.2 L112.3 264.9 L114.1 263 L116.5 261.7 L118.5 260.1 L120.4 258.5 L122.3 256.8" stroke-width="0.7" opacity="0.1"/><path d="M122.3 256.8 L124.4 255.4 L126.3 253.9 L128.3 252.5 L130.1 250.9 L132.2 249.7 L133.9 248.1 L135.7 246.6 L138.1 245 L140.4 243.2 L142.8 241.3" stroke-width="0.7" opacity="0.1"/><path d="M142.7 241.3 L145.1 239.4 L147.8 238.1 L150.3 236.6 L152.3 234.8 L154.2 233.1 L156.1 231.6 L157.7 230.3 L159.1 229.2 L160.4 228.4" stroke-width="0.7" opacity="0.1"/><path d="M243.7 215.5 L244 217 L244.8 218.8 L245.6 221.1 L245.8 223.7 L247 226.3 L247.4 229.4 L248.3 232.4 L248.9 235.5 L250 238.4 L251 241.2" stroke-width="0.7" opacity="0.1"/><path d="M250.9 241.2 L251.9 243.8 L252.7 246.3 L253 248.6 L254.1 251.9 L254.5 255.2 L254.8 258.3 L255.4 261.1 L256.2 263.7 L256.7 265.9 L256.8 267.9" stroke-width="0.7" opacity="0.1"/><path d="M256.8 267.9 L256.9 269.4" stroke-width="0.7" opacity="0.1"/><path d="M506.2 139.4 L506.6 141 L506.9 143.2 L507.2 145.8 L507.3 148.7 L508.2 151.6 L508.9 154.5 L510.1 157.1 L510.5 159.7 L511.1 162.3 L511.5 165" stroke-width="0.7" opacity="0.2"/><path d="M511.5 165 L512 167.7 L513.3 170 L514.3 172.5 L515 175 L515.7 177.6 L516 180.3 L516.4 183 L517.1 185.6 L517.9 188.1 L518.5 190.5" stroke-width="0.7" opacity="0.2"/><path d="M518.5 190.5 L518.6 192.9 L519.4 195.9 L520.3 198.9 L520.8 201.7 L521.7 204 L522.5 205.5" stroke-width="0.7" opacity="0.2"/><path d="M438.5 71.6 L439.4 73.1 L440.3 75.3 L441.6 77.8 L442.9 80.7 L443.8 83.7 L445.1 86.4 L446 88.8 L447.8 91.5 L449.2 94.3 L450.4 97" stroke-width="0.8" opacity="0.2"/><path d="M450.4 96.9 L451.7 98.9 L452.5 100.5" stroke-width="0.7" opacity="0.2"/><path d="M219.2 341 L220.7 340.5 L222.7 340.2 L225 339.6 L227.6 338.9 L230.3 338 L233.2 337.2 L236.3 336.7 L239.2 335.5 L242.1 334.7 L244.8 333.8" stroke-width="0.7" opacity="0.2"/><path d="M244.9 333.8 L247.6 333.5 L250.1 333 L252.6 332.5 L255.2 333 L257.7 332.5 L260.3 332.4 L262.8 332.4 L265.4 332.7 L267.9 333 L270.5 333.2" stroke-width="0.7" opacity="0.2"/><path d="M270.5 333.1 L273.1 333.2 L275.7 333.4 L278.1 334.1 L280.7 334.1 L283.2 334.3 L285.7 335 L288.2 335.8 L290.8 336 L293.4 336.4 L296 336.6" stroke-width="0.7" opacity="0.1"/><path d="M296 336.7 L298.5 337.2 L301.1 337.6 L303.4 338.6 L305.9 339 L308.4 340 L310.9 341.1 L313.5 341.9 L316.1 342.6 L318.6 343.7 L321 344.8" stroke-width="0.7" opacity="0.2"/><path d="M321 344.7 L323.5 345.5 L325.8 346.7 L327.9 348.1 L330.3 348.9 L332.4 350.1 L334.9 351.4 L337.4 352.8 L339.6 354.5 L342 355.7 L344 357.3" stroke-width="0.7" opacity="0.1"/><path d="M344.1 357.4 L346.2 358.8 L348.1 360.3 L349.8 361.8 L351.4 363.2 L354 365.8 L356.3 368.4 L358.3 370.7 L359.7 372.8 L360.5 374.5" stroke-width="0.7" opacity="0.1"/><path d="M200.4 291.4 L201.9 291.5 L203.8 291.6 L206.1 291.4 L208.6 292.1 L211.2 292.6 L214.1 292.9 L217.1 293.1 L220 293.6 L222.9 293.4 L225.7 293.3" stroke-width="0.7" opacity="0.1"/><path d="M225.8 293.3 L228.4 293.4 L231 293.1 L233.6 292.9 L236.2 292.5 L238.9 292.3 L241.4 291.5 L243.9 290.6 L246.5 289.8 L249 289.2 L251.6 288.8" stroke-width="0.7" opacity="0.1"/><path d="M251.5 288.7 L254.1 288.5 L256.6 288.2 L259.2 287.3 L262 286.5 L264.8 285.4 L267.6 284.6 L270.4 283.7 L272.8 282.4 L275.2 281.5 L277.3 280.8" stroke-width="0.7" opacity="0.1"/><path d="M277.3 280.8 L279.1 280.1 L280.4 279.5" stroke-width="0.7" opacity="0.1"/><path d="M360.4 307 L361.9 307.3 L363.8 307.6 L366.1 308.1 L368.7 309 L371.5 309.3 L374.5 309.9 L377.6 310.6 L380.8 311.3 L383.9 311.9 L386.9 312.3" stroke-width="0.7" opacity="0.1"/><path d="M386.9 312.3 L389.8 312.6 L392.4 313.1 L394.7 313.9 L396.6 314.3 L398.1 314.5" stroke-width="0.7" opacity="0.1"/><path d="M420.4 240.4 L421.3 241.6 L422.3 242.9 L423.9 244.2 L425.3 245.8 L426.6 247.8 L428.5 249.6 L430.4 251.5 L432 253.9 L433.7 256.2 L435.7 258.4" stroke-width="0.7" opacity="0.1"/><path d="M435.7 258.4 L437.5 260.8 L439.7 262.8 L441.6 265.2 L443.2 267.6 L445 269.8 L447 271.7 L449.1 273.3 L450.9 274.9 L452.7 277.1 L454.8 278.9" stroke-width="0.7" opacity="0.1"/><path d="M454.8 278.8 L456.8 280.5 L458.6 282.4 L460.5 284.2 L462.1 286.2 L463.6 288.2 L465.6 289.7 L467.8 291.1 L469.6 292.9 L471.7 294.3 L473.8 295.8" stroke-width="0.7" opacity="0.1"/><path d="M473.8 295.8 L476 297.3 L478.1 299 L480.2 300.7 L482.2 302.1 L484.4 303.5 L487 304.5 L489.6 305.4 L492.3 306.6 L494.8 308.1 L497.8 308.8" stroke-width="0.7" opacity="0.1"/><path d="M497.8 308.8 L500.4 310.1 L503 311.5 L505.7 312.6 L508.3 313.7 L510.8 314.6 L513.4 315 L515.6 315.7 L517.5 316.9 L519.5 317.3 L521 318" stroke-width="0.7" opacity="0.1"/><path d="M521 318 L522.4 318.4" stroke-width="0.7" opacity="0.1"/><path d="M388.4 376.4 L389.5 375.5 L390.8 374.6 L392.4 373.5 L394.2 372.3 L396 371 L398.2 369.8 L400.2 368.1 L402.7 366.9 L404.9 365 L407.2 363.2" stroke-width="0.7" opacity="0.1"/><path d="M407.2 363.2 L409.8 361.6 L412.3 359.9 L415.1 358.5 L417.9 357.2 L420.6 355.9 L422.6 354.9 L424.5 353.7 L426.8 352.9 L428.8 351.6 L431 350.3" stroke-width="0.7" opacity="0.1"/><path d="M431 350.4 L433.3 349.1 L435.6 348 L438 347 L440.3 345.7 L442.7 344.7 L445.2 343.5 L447.7 342.7 L450.3 341.8 L452.9 341 L455.5 340.3" stroke-width="0.7" opacity="0.1"/><path d="M455.5 340.3 L458.1 339.6 L460.5 338.4 L463 337.6 L465.4 336.5 L467.9 336 L470.3 335.1 L472.9 334.5 L475.7 334 L478.6 333.8 L481.5 333.3" stroke-width="0.7" opacity="0.1"/><path d="M481.5 333.3 L484.5 333.1 L487.5 332.3 L490.5 332 L493.6 332 L496.6 331.9 L499.6 331.5 L502.5 330.9 L505.3 330.5 L507.9 329.9 L510.5 329.6" stroke-width="0.7" opacity="0.1"/><path d="M510.5 329.6 L513 329.4 L515.3 329.6 L517.4 329.5 L519.3 329.2 L521 329 L522.4 328.4" stroke-width="0.7" opacity="0.1"/><path d="M332.3 220.6 L330.8 221.5 L329.3 223.2 L327.4 225.2 L325.4 227.5 L323.1 229.8 L320.4 231.8 L318.2 234.3 L316.8 236.2 L315.4 238.1 L313.5 239.7" stroke-width="0.8" opacity="0.2"/><path d="M313.5 239.7 L311.6 241.3 L309.7 243.1 L308.2 245.3 L306.2 247.1 L304.4 249 L302.8 251.1 L301 253 L299.3 255.1 L297.2 256.7 L295.5 258.7" stroke-width="0.9" opacity="0.1"/><path d="M295.5 258.7 L293.7 260.7 L292 262.7 L290.4 264.8 L288.8 267.1 L286.8 268.9 L284.8 270.9 L282.9 272.9 L280.7 274.3 L279.2 276.5 L277.1 278.1" stroke-width="0.7" opacity="0.2"/><path d="M277.2 278.1 L275.6 280.2 L274.1 282.3 L272.3 284.3 L270.3 286 L268.7 288.2 L266.7 290 L264.8 292 L262.9 294 L261.2 295.9 L259.5 298" stroke-width="0.8" opacity="0.2"/><path d="M259.5 298 L257.7 300.1 L255.8 302.2 L253.4 303.7 L251.6 305.8 L249.8 308 L247.9 310 L245.8 311.6 L244 313.4 L242.5 315.3 L240.9 316.9" stroke-width="0.8" opacity="0.2"/><path d="M240.9 316.9 L238.4 319.1 L236.5 321.6 L234.3 323.6 L232.4 325.7 L230.5 327.5 L229 329.2 L227.3 330.2 L226.5 331.6" stroke-width="0.8" opacity="0.2"/><path d="M200.4 302.4 L199 302 L197.2 302.2 L195.1 301.8 L192.7 301.2 L190.1 301.2 L187.3 301.3 L184.4 301.5 L181.5 301.3 L178.6 301.3 L175.7 301.3" stroke-width="0.7" opacity="0.1"/><path d="M175.7 301.3 L173 301.2 L170.4 300.5 L167.9 300 L165.4 300.1 L162.9 299.8 L160.4 299.7 L157.9 299.3 L155.4 299.1 L152.9 299.1 L150.4 299" stroke-width="0.7" opacity="0.1"/><path d="M150.4 298.9 L147.9 298.5 L145.4 298.3 L142.9 298.4 L140.4 298.4 L137.8 298.2 L135 298.3 L132.2 298.3 L129.2 298.4 L126.3 298.5 L123.5 298.7" stroke-width="0.7" opacity="0.1"/><path d="M123.5 298.7 L120.7 298.8 L118.1 299.3 L115.8 299.7 L113.6 299.9 L111.8 300.1 L110.4 300.4" stroke-width="0.7" opacity="0.1"/><path d="M289.4 181.4 L287.7 181.4 L285.4 180.8 L282.6 180.9 L279.6 180.1 L276.5 179.4 L273.4 178.7 L270.5 178 L268.1 177.4 L265.5 176.9 L263.2 175.5" stroke-width="0.7" opacity="0.1"/><path d="M263.2 175.6 L260.8 174.6 L258.2 173.6 L255.8 172.3 L253.3 171.1 L250.8 169.6 L248.5 168.6 L246 167.7 L243.4 167.1 L240.8 166.1 L238.3 165.2" stroke-width="0.7" opacity="0.2"/><path d="M238.2 165.1 L235.9 163.7 L233.3 162.7 L230.8 161.8 L228.2 160.9 L225.8 159.7 L223.4 158.4 L220.9 157.3 L218.4 156.5 L215.7 155.8 L213.3 154.5" stroke-width="0.7" opacity="0.2"/><path d="M213.3 154.6 L210.7 153.8 L208.2 152.8 L205.5 152 L203 151.4 L200.2 151.2 L197.3 150.8 L194.4 150.2 L191.5 150.2 L188.7 149.5 L186.2 148.9" stroke-width="0.7" opacity="0.2"/><path d="M186.2 149 L183.9 148.6 L181.9 148.8 L180.4 148.5" stroke-width="0.7" opacity="0.2"/><path d="M345.4 295.5 L345 293.9 L344.3 291.9 L343.7 289.5 L342.8 286.9 L341.9 284 L340.5 281.2 L339.2 278.3 L338 275.5 L336.5 272.9 L335.3 270.5" stroke-width="0.7" opacity="0.1"/><path d="M335.3 270.5 L334.2 267.8 L332.6 265.4 L331 262.9 L329.3 260.5 L327.8 258.1 L326.3 255.8 L324.7 253.9 L323.1 252.3 L322 250.8 L319.4 247.8" stroke-width="0.7" opacity="0.1"/><path d="M319.4 247.8 L318.1 246 L317.1 245" stroke-width="0.7" opacity="0.1"/><path d="M449.3 100.3 L448.1 98.6 L446.5 96.1 L444.1 93.8 L441.9 91.1 L440.4 88.5 L439.4 85.9 L438.2 83.4 L437 80.9 L436.4 78.5 L436.6 76.5" stroke-width="0.7" opacity="0.2"/><path d="M436.6 76.5 L437.4 73.3 L438.5 71.5" stroke-width="0.7" opacity="0.2"/><path d="M485 121.6 L486.9 122.4 L488.5 124.6 L490.8 126.5 L492.7 128.3 L495.4 130.2 L498.1 131.6 L500.5 132.3 L502.5 131.2 L504.4 128.8 L506.5 126.6" stroke-width="0.9" opacity="0.2"/><path d="M506.4 126.6 L508.1 125.3" stroke-width="0.8" opacity="0.2"/><path d="M460.1 151.9 L461.8 151.8 L464.3 151.5 L467.2 151 L470.4 150.3 L472.9 149.7 L475.5 148.5 L478.4 147.3 L481.4 146.2 L484.3 145.3 L486.6 143.9" stroke-width="0.7" opacity="0.1"/><path d="M486.6 143.9 L489.4 142.6 L492.2 141.3 L494.8 140.1 L496.9 139.2 L498.5 138.5" stroke-width="0.7" opacity="0.2"/><path d="M34.4 200.4 L35.3 201.9 L37 203.4 L38.9 205.4 L41.2 207.4 L43.5 209.5 L45.8 211.5 L48.1 213.3 L50.4 214.5 L53.1 216 L56 217" stroke-width="0.7" opacity="0.1"/><path d="M56 217 L58.8 218 L61.3 218.9 L63.5 219.5 L64.9 220.4" stroke-width="0.7" opacity="0.1"/><path d="M105.4 56.4 L105.6 57.9 L106 59.8 L106.5 62 L107.5 64.3 L108.1 67 L109 69.7 L110 72.5 L111 75.2 L111.7 77.9 L112.5 80.4" stroke-width="0.7" opacity="0.1"/><path d="M112.6 80.4 L112.8 83.3 L113.4 86.2 L113.6 89.2 L114.8 92.1 L115.7 95 L116.3 97.7 L116.9 100.3 L117.7 102.5 L118.7 104.2 L120.8 106.5" stroke-width="0.7" opacity="0.1"/><path d="M120.8 106.5 L123.4 107.8 L126.1 108.6 L128.5 109.3 L130.2 109.7" stroke-width="0.7" opacity="0.1"/></g>
<g stroke="#f2f2f2"><path d="M288.1 179.4 L286.2 179.5 L281.8 180.5 L279.8 180.8 L277.8 182 L275.4 182.9 L272.6 183.5 L269.8 184.5 L267.2 186.2 L264.4 187.7 L261.3 188.4" stroke-width="2.6" opacity="0.4"/><path d="M261.3 188.5 L259.3 189.5 L257 190.5 L254.9 191.9 L252.8 193.3 L250.8 195.1 L248.3 196.1 L246.1 197.6 L243.7 198.9 L241.4 200.4 L239 201.8" stroke-width="2.4" opacity="0.6"/><path d="M239 201.8 L236.5 202.8 L234.4 204.1 L232.2 205.4 L230.4 207 L228.4 208.6 L226.2 209.8 L224 211.1 L221.7 212.1 L219.7 213.9 L217.2 214.9" stroke-width="2.3" opacity="0.4"/><path d="M217.2 214.8 L214.9 216.2 L212.8 217.9 L210.7 219.8 L208.4 220.7 L206.5 222.4 L204.6 224 L202.7 225.7 L200.7 227.4 L198.4 228.5 L196 229.6" stroke-width="2.5" opacity="0.6"/><path d="M196.1 229.8 L194.2 231.7 L192.2 233.5 L189.6 234.5 L187.4 236.2 L184.8 237.1 L182.2 238.2 L179.7 239.5 L177.4 240.6 L175.3 242 L173.1 243.4" stroke-width="2" opacity="0.5"/><path d="M173.1 243.3 L171 245 L168.9 246.7 L166.5 247.9 L164 249 L161.7 250.3 L159.3 251.6 L157 253 L154.5 254.1 L152.3 255.7 L149.6 256.5" stroke-width="2.1" opacity="0.5"/><path d="M149.6 256.5 L147 257.3 L144.8 258.9 L142.4 260 L139.8 260.7 L137.6 262.1 L135.2 263 L132.6 263.7 L130.6 265.6 L128.4 267.1 L125.9 267.8" stroke-width="2" opacity="0.6"/><path d="M125.7 267.6 L123.1 268 L120.8 269.3 L118.4 270.4 L116.1 271.6 L114 273.2 L111.6 274.3 L109.3 275.6 L107.2 277.1 L104.7 278 L102.5 279.5" stroke-width="2.6" opacity="0.4"/><path d="M102.7 279.7 L100.3 281 L97.8 282 L95.4 283.2 L92.8 284 L90.5 285.5 L88.1 286.8 L85.6 287.7 L83.2 289 L80.8 290.1 L78.2 290.8" stroke-width="2.2" opacity="0.4"/><path d="M78.1 290.6 L76.1 292.5 L73.9 293.9 L71.8 295.3 L69.6 296.3 L67.5 297.5 L64.6 298.4 L61.7 299.2 L59 300.5 L56.2 301.7 L53.5 302.9" stroke-width="2.6" opacity="0.4"/><path d="M53.5 302.9 L50.6 303.5 L48.2 305 L45.6 305.8 L43.5 307.2 L41.5 308.3 L40 310.1 L38.2 310.7 L36.8 311.6 L32.9 314.3 L32.1 313.9" stroke-width="2.6" opacity="0.5"/><path d="M261.5 189.9 L259.9 190.3 L258.3 191.5 L256.6 193.2 L254.5 194.7 L252.1 196.2 L249.9 198.4 L247.4 200.1 L244.9 201.9 L242.4 203.5 L240.2 205.2" stroke-width="1.1" opacity="0.3"/><path d="M240.2 205.3 L238 206.7 L235.7 208.1 L233.3 209.2 L231.1 210.3 L229 211.6 L226.8 212.8 L224.9 214.4 L222.7 215.7 L220.6 217.1 L218.4 218.8" stroke-width="0.9" opacity="0.2"/><path d="M218.4 218.7 L216.2 220.5 L214.3 222.1 L211.9 223.5 L209.3 224.9 L206.6 226.4 L203.9 227.9 L201.3 229.6 L198.8 231.1 L196.9 233.2 L194.9 235" stroke-width="1.1" opacity="0.3"/><path d="M194.9 235 L192.6 235.7 L191 236.8 L189.5 237.4" stroke-width="1" opacity="0.3"/><path d="M521.5 219.4 L520 219.7 L518.3 219.7 L516.4 219.6 L514.3 219.9 L511.9 219.8 L509.4 219.3 L506.7 219.7 L503.9 219.8 L501 219.6 L498.1 219.7" stroke-width="1.2" opacity="0.4"/><path d="M498 219.6 L494.9 219.8 L491.9 220 L488.8 219.8 L485.8 220.3 L482.8 220.2 L479.8 220.1 L477 220.3 L474.2 220.1 L471.6 220.3 L469.1 220.3" stroke-width="1.5" opacity="0.4"/><path d="M469.1 220.3 L466.9 220.3 L464.7 220 L461.3 220 L458.2 220.2 L455.5 220.6 L453 220.7 L450.6 221.1 L448.4 221.3 L446.3 221.8 L444.1 222" stroke-width="1.5" opacity="0.5"/><path d="M444.1 222 L441.9 222.4 L439.6 223 L437.2 223.7 L434.5 224.2 L432.2 224.9 L429.8 225.4 L427.2 226 L424.6 227 L422 227.9 L419.4 229" stroke-width="1.5" opacity="0.4"/><path d="M419.4 229 L416.6 229.9 L414 230.9 L411.3 231.5 L408.5 231.8 L406.1 232.7 L403.6 233.2 L401.3 233.9 L399.1 234 L397.1 234.3 L393.7 235.4" stroke-width="1.5" opacity="0.4"/><path d="M393.7 235.4 L391.1 236.6 L388.9 236.9 L386.7 236.8 L384.6 237.2 L382.4 238.5 L379.5 239.3 L377.3 239.4 L375.1 239.7 L372.8 240.4 L370.4 241" stroke-width="1.3" opacity="0.5"/><path d="M370.4 240.9 L367.8 241.2 L365.3 242 L362.7 242.6 L360.2 243.7 L357.6 244.4 L354.9 244.5 L352.4 245.7 L349.9 246.1 L347.5 247.2 L345.1 248.2" stroke-width="1.5" opacity="0.3"/><path d="M345.1 248.2 L342.6 248.9 L340 249.3 L337.4 250 L334.8 250.3 L332.3 251 L329.7 251.7 L327.2 252.4 L324.7 253.1 L322.1 253.5 L319.6 254" stroke-width="1.5" opacity="0.5"/><path d="M319.6 254 L317.3 255.1 L314.9 256 L312.4 256.8 L310.1 257.9 L307.6 258.2 L305.2 258.8 L302.8 259.8 L300.3 260.4 L297.7 260.5 L295.1 261.1" stroke-width="1.3" opacity="0.4"/><path d="M295.1 261.1 L292.5 261.6 L289.9 262.2 L287.4 262.7 L284.8 263.2 L282.2 263.4 L279.4 263.4 L276.7 263.3 L274 263.6 L271.4 264.6 L268.7 264.9" stroke-width="1.5" opacity="0.3"/><path d="M268.7 265 L266.1 265.5 L263.5 265.9 L260.9 266.2 L258.3 266.6 L255.8 266.8 L253 267.2 L250.1 267.7 L247.5 269 L244.6 269.2 L241.9 269.9" stroke-width="1.2" opacity="0.3"/><path d="M241.9 269.8 L239.1 270.2 L236.8 271.6 L234.4 272.8 L231.9 273 L229.5 273.4 L227.2 273.6 L224.2 274.7 L221.7 275.8 L219.4 277 L217.2 277.8" stroke-width="1.5" opacity="0.3"/><path d="M217.2 277.8 L215 279.2 L212.5 280.4 L209.5 281.7 L207.6 282.7 L205.4 283.2 L203.2 284.1 L201 285.1 L198.6 285.7 L196 286.1 L193.5 287.2" stroke-width="1.5" opacity="0.4"/><path d="M193.6 287.3 L190.9 287.8 L188.2 288.3 L185.6 289.5 L182.8 290 L180 290.7 L177.8 291.6 L175.5 292.3 L173.1 293 L170.6 293.6 L168 293.6" stroke-width="1.4" opacity="0.3"/><path d="M168 293.6 L165.3 293.9 L162.8 294.8 L160.3 295.6 L157.8 296.4 L155.1 296.9 L152.6 297.9 L150.1 298.6 L147.5 299.3 L144.9 299.8 L142.4 300.5" stroke-width="1.5" opacity="0.4"/><path d="M142.5 300.6 L139.9 301 L137.4 301.3 L134.9 302.1 L132.4 302.7 L129.9 303.1 L127.4 303.9 L124.8 303.7 L122.2 304 L119.6 304.1 L117.3 305.2" stroke-width="1.4" opacity="0.3"/><path d="M117.2 305.2 L114.7 305.5 L112 305.5 L109.6 306.3 L107.1 306.7 L104.5 307 L102 307.5 L99.4 308.3 L96.8 308.9 L94 308.8 L91.5 310" stroke-width="1.5" opacity="0.4"/><path d="M91.5 310 L88.8 310.5 L86.2 311 L83.6 312 L81 312.2 L78.4 312.7 L76 313.1 L73.5 313.3 L71.3 314.2 L69.1 314.7 L67 314.9" stroke-width="1.4" opacity="0.3"/><path d="M67 314.9 L63.8 315.4 L60.8 315.7 L58 316.5 L55.4 316.5 L52.9 316.9 L50.6 316.8 L48.4 316.9 L46.2 316.8 L44.2 316.9 L40.2 317.8" stroke-width="1.4" opacity="0.4"/><path d="M40.2 317.8 L36.9 318.7 L34.3 319.6 L32.4 320.3" stroke-width="1.3" opacity="0.4"/><path d="M521.6 321.3 L520.2 320.7 L518.5 321.1 L516.5 321 L514.3 320.7 L512 320.5 L509.4 320.7 L506.7 320.5 L503.9 320.5 L500.9 320.4 L498 320.3" stroke-width="0.7" opacity="0.1"/><path d="M498 320.3 L495 319.8 L492 319.5 L489 319.2 L486 319.4 L483.1 318.9 L480.3 318.8 L477.6 318.9 L475 318.7 L472.7 318.2 L469.8 318" stroke-width="0.7" opacity="0.1"/><path d="M469.8 318 L467 318.1 L464.4 318.3 L461.7 318.5 L459.2 318.1 L456.7 317.6 L454.3 317.7 L451.9 317.1 L449.5 316.9 L447.1 316.9 L444.7 316.8" stroke-width="0.7" opacity="0.1"/><path d="M444.7 316.8 L442.3 316.7 L439.9 316.6 L437.4 316.8 L434.9 316.9 L432.4 316.5 L429.8 316.3 L427.1 316.4 L424.4 316 L421.7 316 L418.9 315.9" stroke-width="0.7" opacity="0.1"/><path d="M418.9 315.8 L416.2 315.6 L413.5 315.1 L410.9 314.8 L408.4 314.6 L405.9 314.8 L403.5 314.6 L401.3 314.1 L399.3 313.5 L397.3 313.5 L393.8 312.9" stroke-width="0.7" opacity="0.1"/><path d="M393.8 313 L390.9 312.2 L388.4 311.5 L386.1 310.6 L384.2 309.6 L382.1 308.5 L379.7 308.1 L377.2 307.5 L374.9 307 L372.6 306.5 L370.3 306.2" stroke-width="0.7" opacity="0.2"/><path d="M370.2 306.2 L367.7 305.6 L364.9 305.1 L361.7 304.9 L359.5 304.9 L357 304.7 L354.3 304.3 L351.4 303.9 L348.4 303.7 L345.4 303.3 L342.5 303.6" stroke-width="0.7" opacity="0.1"/><path d="M342.5 303.6 L339.7 303 L337.2 302.4 L334.9 302 L333 302.3 L331.5 302.4" stroke-width="0.7" opacity="0.1"/><path d="M331.3 302.2 L329.8 301.7 L328.1 301.7 L326 301.8 L323.7 301.7 L321.2 301.9 L318.5 302 L315.7 301.6 L312.8 301.8 L309.9 301.6 L307 301.6" stroke-width="1.2" opacity="0.3"/><path d="M307 301.6 L304.1 301.7 L301.2 301.7 L298.5 301.9 L296 301.3 L293.6 301.6 L290.8 301.2 L288.1 300.9 L285.4 300.8 L282.9 300.3 L280.3 300.1" stroke-width="1.1" opacity="0.3"/><path d="M280.4 300.2 L277.9 299.6 L275.4 300 L273 300.5 L270.6 300.9 L268.2 300.9 L265.9 301.2 L263.5 300.9 L260.8 301 L258.1 300.8 L255.4 301" stroke-width="0.9" opacity="0.3"/><path d="M255.4 301 L252.8 301.1 L250.2 301 L247.6 300.9 L245 301 L242.5 301.2 L239.9 301.7 L237.2 301.6 L234.8 301.6 L232.3 301.8 L229.8 301.4" stroke-width="1" opacity="0.2"/><path d="M229.8 301.4 L227.3 301.3 L224.8 300.8 L222.3 300.4 L219.7 300.7 L217.2 301 L214.6 301 L212 301.2 L209.5 301.3 L206.9 301.1 L204.3 301.4" stroke-width="1.2" opacity="0.2"/><path d="M204.3 301.5 L201.7 301.4 L199 301.4 L196.4 301.5 L193.7 301.6 L191 301.8 L188.3 301.6 L185.6 302 L182.9 302.5 L180.2 302.5 L177.7 302.8" stroke-width="1" opacity="0.3"/><path d="M177.7 302.8 L175.4 303.5 L173 303.5 L170.8 304.3 L168.5 304.6 L166.2 305.4 L163.8 305.8 L161.4 306.5 L158.7 306.7 L155.9 306.9 L153.2 307.8" stroke-width="0.9" opacity="0.3"/><path d="M153.1 307.7 L150.1 308.3 L147.9 308.8 L145.6 308.7 L143.4 309.7 L140.9 310.2 L138.4 310.5 L135.8 310.4 L133.1 310.5 L130.5 311.1 L127.9 311.8" stroke-width="1" opacity="0.3"/><path d="M127.9 311.8 L125.2 312.3 L122.6 312.7 L120 313.6 L117.3 314 L114.7 314 L112.1 314.6 L109.7 315.4 L107.2 315.5 L104.9 315.8 L102.1 316.1" stroke-width="1" opacity="0.2"/><path d="M102.1 316.1 L99.4 316.9 L96.6 317 L93.8 317.6 L91 317.5 L88.4 318.4 L85.8 318.8 L83.1 319 L80.5 319.1 L78.1 319.2 L75.7 319.5" stroke-width="0.9" opacity="0.3"/><path d="M75.7 319.5 L73.4 319.7 L71.1 319.8 L69.1 320.1 L67.2 320.8 L63.5 321.4 L60.3 321.4 L57.7 322.2 L55.2 321.9 L52.9 322.1 L50.6 321.8" stroke-width="1" opacity="0.2"/><path d="M50.6 321.8 L48.2 322 L45.2 322.7 L42.2 323.8 L39.3 324.5 L36.5 324.5 L34.1 324.6 L32.5 325.4" stroke-width="1" opacity="0.3"/><path d="M57.3 332 L58.5 333.3 L60.3 333.7 L62.5 333.9 L64.9 334.8 L67.7 335.3 L70.9 335.7 L74.3 336.4 L78.2 337.3 L80.1 337.7 L82.1 338.5" stroke-width="2.3" opacity="0.5"/><path d="M82.1 338.6 L84.3 339.4 L86.7 339.1 L89.1 340 L91.7 339.6 L94.3 340.1 L96.9 340.7 L99.6 341 L102.4 340.6 L105.1 340.5 L107.9 340.7" stroke-width="2.2" opacity="0.4"/><path d="M107.8 340.6 L110.5 340.4 L113.2 340.9 L115.8 341.2 L118.4 340.4 L120.8 339.9 L123.2 339.3 L125.9 339.8 L128.6 340.6 L131.2 340.2 L133.8 339.7" stroke-width="2.4" opacity="0.4"/><path d="M133.8 339.7 L136.3 340.2 L138.8 340.7 L141.3 341.2 L143.7 341 L146.2 341.1 L148.6 341.6 L151 341.8 L153.5 341.3 L155.9 342.1 L158.4 341.7" stroke-width="2.4" opacity="0.5"/><path d="M158.3 341.7 L160.8 342 L163.4 341.5 L166 342 L168.7 341.7 L171.4 342.5 L174.1 342.2 L176.8 342.2 L179.5 342.3 L182.2 342.6 L184.8 342.2" stroke-width="2.6" opacity="0.4"/><path d="M184.9 342.3 L187.5 342.3 L189.9 342.8 L192.3 342.6 L194.5 343.4 L196.6 343.7 L198.6 343.4 L202.3 343.6 L205.3 344.1 L207.9 344.1 L210.3 344.1" stroke-width="2.3" opacity="0.4"/><path d="M210.2 344 L212.3 345.3 L214.9 346 L217.8 347 L220 347.6 L222.4 347.9 L224.9 348.6 L227.4 348.9 L230.1 348.9 L232.8 349.7 L235.5 349.9" stroke-width="2.6" opacity="0.4"/><path d="M235.5 349.9 L238.2 350.2 L241 350.2 L243.5 351.4 L246.2 351.8 L248.7 352.4 L251.2 353 L253.8 352.8 L256.2 354 L258.8 354.2 L261.3 354.7" stroke-width="2.5" opacity="0.5"/><path d="M261.4 354.8 L263.9 355.3 L266.6 355.3 L269.1 356.1 L271.8 356.1 L274.3 357.2 L276.8 357.6 L279.2 358.3 L281.9 358.3 L284.5 358.3 L287 359.2" stroke-width="2.3" opacity="0.5"/><path d="M287.1 359.3 L289.6 360 L292.2 360.2 L294.7 361 L297.4 361.1 L299.7 362.1 L302.2 362.6 L304.7 362.8 L307.5 363.6 L310.2 364.2 L312.9 365.1" stroke-width="2.1" opacity="0.5"/><path d="M312.8 365 L315.6 365.6 L318.3 366 L320.9 366.7 L323.5 367.3 L326.1 367.9 L328.7 367.9 L331.3 368.2 L333.9 369.6 L336.7 370 L339.6 370.6" stroke-width="2.3" opacity="0.4"/><path d="M339.6 370.6 L342.1 372.3 L344.9 372.7 L347.3 373.6 L349.9 373.4 L352 374 L354.1 373.8 L358.2 375.4 L360.4 377.1 L361.2 379" stroke-width="2.1" opacity="0.4"/><path d="M59.4 336.3 L60.7 336.9 L62.4 337.3 L64.2 338.5 L66.5 339.2 L69.2 339.8 L72.2 340.7 L75.6 341.4 L79.4 341.7 L81.4 341.8 L83.6 341.7" stroke-width="1.4" opacity="0.2"/><path d="M83.5 341.6 L85.8 342 L88.2 341.9 L90.8 342.2 L93.4 342.5 L96.1 342.6 L98.9 342.8 L101.7 342.7 L104.6 342.4 L107.4 342.4 L110.2 342.8" stroke-width="1.6" opacity="0.2"/><path d="M110.3 342.9 L113.1 342.7 L115.8 342.9 L118.5 343.6 L121 344 L123.5 343.9 L126.2 344 L128.9 344.1 L131.4 344.7 L134 344.6 L136.5 344.9" stroke-width="1.4" opacity="0.3"/><path d="M136.5 345 L139.1 344.8 L141.6 344.6 L144 345 L146.4 345.3 L148.9 345.5 L151.3 346 L153.8 345.5 L156.2 345.7 L158.7 345.6 L161.2 345.9" stroke-width="1.3" opacity="0.3"/><path d="M161.3 345.9 L163.8 346.3 L166.4 346 L169.1 346.1 L171.8 346.1 L174.5 345.9 L177.2 346.6 L179.9 346.4 L182.6 346.4 L185.2 346.5 L187.8 346.9" stroke-width="1.2" opacity="0.3"/><path d="M187.7 346.9 L190.2 347.2 L192.6 347.7 L194.8 348 L196.9 348 L198.9 348 L202.5 348.5 L205.5 348.5 L208.1 348.8 L210.3 349.5 L212.6 350.4" stroke-width="1.2" opacity="0.3"/><path d="M212.5 350.3 L215.1 350.9 L218.1 351.7 L220.4 351.9 L222.8 352.3 L225.3 352.5 L227.8 352.9 L230.4 353.6 L233 354.6 L235.7 355 L238.4 355.7" stroke-width="1.4" opacity="0.3"/><path d="M238.4 355.8 L241.2 355.9 L243.9 356 L246.5 356.3 L249 357 L251.7 357 L254.2 357.1 L256.8 357.5 L259.3 357.8 L261.9 358 L264.5 358.2" stroke-width="1.2" opacity="0.3"/><path d="M264.4 358.1 L267 358.8 L269.5 359.7 L272.1 360.1 L274.7 360.7 L277.1 361.2 L279.5 362.5 L282.1 362.5 L284.6 363.2 L287.2 363.5 L289.8 364.3" stroke-width="1.4" opacity="0.2"/><path d="M289.8 364.3 L292.4 364.5 L295 365.1 L297.4 366.1 L300 366 L302.4 366.8 L304.7 367.7 L307.7 367.7 L310.4 368.5 L313.2 369.3 L316.1 369.4" stroke-width="1.4" opacity="0.3"/><path d="M316 369.4 L318.8 369.9 L321.4 370.7 L324.1 371 L326.5 372.2 L328.9 372.9 L331.2 373.9 L334.2 374.4 L337.2 375.3 L340.2 375.9 L343.1 376.5" stroke-width="1.5" opacity="0.3"/><path d="M343.2 376.6 L345.7 377.8 L347.9 378.9 L349.9 379.2 L351.5 379.4" stroke-width="1.2" opacity="0.2"/><path d="M76.5 347.4 L77.9 347.7 L79.7 347.5 L81.7 347.5 L84 347.4 L86.4 347.6 L89 347.7 L91.8 347.3 L94.7 347.7 L97.7 347.5 L100.7 347.2" stroke-width="1.1" opacity="0.4"/><path d="M100.7 347.2 L103.8 347 L106.8 346.7 L109.9 346.6 L112.8 346.9 L115.7 347.1 L118.5 346.9 L121.1 347.5 L123.6 347.9 L126.3 347.8 L129 347.7" stroke-width="1.2" opacity="0.3"/><path d="M129 347.7 L131.5 348 L134 348.5 L136.4 348.9 L138.7 349.2 L141.1 349.2 L143.4 349.4 L145.8 349.2 L148.2 349.4 L150.7 349.3 L153.2 349.7" stroke-width="1.2" opacity="0.2"/><path d="M153.1 349.7 L155.7 350.2 L158.4 349.6 L161.2 349.8 L163.5 349.7 L166 349.8 L168.5 350 L171.2 350.4 L173.9 350.6 L176.6 350.8 L179.4 350.3" stroke-width="1.4" opacity="0.2"/><path d="M179.5 350.4 L182.3 350.3 L185.1 350.5 L187.9 349.9 L190.6 349.3 L193.3 348.8 L196 348.8 L198.5 349.1 L201 349.2 L203.3 349.5 L205.5 349.4" stroke-width="1.1" opacity="0.3"/><path d="M205.6 349.4 L207.6 349.3 L209.5 349.3 L213.5 349.9 L216.9 349.8 L220 349.8 L222.6 349.8 L224.8 350.1 L226.6 350.7 L228.1 351.4 L229.5 351.4" stroke-width="1.1" opacity="0.3"/><path d="M33.5 362.4 L35.1 361.8 L37 360.6 L39.4 359.2 L42.3 358.3 L45.1 356.9 L48.2 356.7 L50.5 355.6 L53 355.3 L55.6 354.9 L58.2 354.1" stroke-width="1.2" opacity="0.3"/><path d="M58.2 354.1 L61 354 L63.9 353.4 L67.2 353.6 L69.4 353.6 L71.7 353.7 L74.1 354.3 L76.7 354.4 L79.3 354.3 L81.9 354.6 L84.6 354.4" stroke-width="1.2" opacity="0.2"/><path d="M84.7 354.4 L87.4 354.6 L90.1 354.9 L92.8 355.3 L95.4 355.3 L97.9 356 L100.5 355.9 L103.1 356 L105.6 356.6 L108.3 356.5 L110.8 356.8" stroke-width="1" opacity="0.3"/><path d="M110.8 356.8 L113.4 357.1 L115.9 357.8 L118.5 358.5 L121 359.2 L123.6 359.5 L126.3 359.9 L128.9 360.5 L131.5 361.7 L134.2 362.1 L136.8 363.2" stroke-width="1.1" opacity="0.2"/><path d="M136.7 363.2 L139.4 364 L142 364.9 L144.7 365.3 L147 366.6 L149.5 367.3 L151.9 367.9 L154.9 368.6 L157.7 370.2 L160.6 371.7 L163.6 372.6" stroke-width="1.2" opacity="0.3"/><path d="M163.6 372.6 L166.3 373.8 L168.6 375.4 L171 376.1 L172.9 376.9 L174.5 377.4" stroke-width="1.1" opacity="0.2"/><path d="M69.6 357.5 L71.1 357.5 L72.8 358.2 L74.8 358.6 L77.1 359.2 L79.7 359.8 L82.4 360.2 L85.1 361 L88.1 361.3 L91 361.9 L93.9 362.8" stroke-width="0.8" opacity="0.2"/><path d="M93.9 362.8 L96.8 363.3 L99.5 364.5 L102.1 365.1 L104.6 365.6 L107.3 366.4 L110 367.1 L112.6 368.3 L115 369.5 L117.6 370.6 L120 371.7" stroke-width="0.7" opacity="0.2"/><path d="M120 371.7 L122.6 372.5 L125 373.5 L127.3 374.9 L129.7 375.9 L132 377 L134.3 378 L136.9 379.1 L139.6 380.4 L142.2 381.8 L144.9 383" stroke-width="0.8" opacity="0.2"/><path d="M144.9 383 L147.4 384.7 L149.9 385.9 L152.5 386.8 L154.6 388 L156.5 389.2 L158.1 390.1 L159.6 390.5" stroke-width="0.8" opacity="0.2"/><path d="M89.6 351.5 L91 351.9 L92.8 351.9 L95 351.9 L97.4 352 L100 352 L102.7 352.3 L105.5 352.6 L108.5 352.8 L111.4 353 L114.2 353.1" stroke-width="0.8" opacity="0.2"/><path d="M114.2 353.1 L117 353.9 L119.5 354.2 L122 354.8 L124.5 354.9 L127 354.8 L129.5 355.2 L132.1 355.2 L134.6 355 L137 355.8 L139.5 356.1" stroke-width="0.7" opacity="0.2"/><path d="M139.5 356.1 L142.1 356.1 L144.6 356.5 L147.1 357 L149.5 357.7 L152.1 358.1 L154.6 359.1 L157.2 360 L159.8 360.8 L162.5 361.3 L165 362.7" stroke-width="0.7" opacity="0.2"/><path d="M165 362.6 L167.6 363.3 L170.3 363.7 L172.8 364.6 L175.2 365.6 L177.4 366.5 L179.8 367 L182.6 368.3 L185.5 369.4 L188.3 370.8 L190.9 372.2" stroke-width="0.8" opacity="0.2"/><path d="M191 372.3 L193.3 373.8 L195.2 375.7 L197.3 376.6 L198.9 377.8 L199.6 379.5" stroke-width="0.8" opacity="0.2"/><path d="M521.5 93.9 L519.9 94.2 L518.4 95.2 L516.7 96.8 L514.7 98.2 L512.3 99.3 L509.9 100.9 L507.3 102.4 L504.6 103.8 L501.9 105.2 L499.3 106.7" stroke-width="1.1" opacity="0.3"/><path d="M499.3 106.6 L496.8 108.1 L494.1 109.2 L492.4 111 L490.3 112.4 L488.2 113.6 L486.1 114.8 L484.1 116.3 L481.7 117.1 L479.5 118.3 L477.4 119.8" stroke-width="1.2" opacity="0.2"/><path d="M477.4 119.8 L475.3 121.2 L472.9 122.4 L470.7 124 L468.4 125.7 L466 127.3 L463.9 128.4 L462.2 130.2 L459.9 131.3 L457.9 133.1 L455.7 134.7" stroke-width="1.2" opacity="0.2"/><path d="M455.7 134.7 L453.4 136.2 L451 137.6 L448.8 139.3 L446.3 140.6 L444.3 142.5 L442.4 144.5 L440.5 146.3 L438.2 147.6 L436 148.7 L434 150" stroke-width="1.3" opacity="0.2"/><path d="M434 150 L432.1 151.1 L430.3 152.1 L427.6 154.2 L425.2 156 L422.9 157 L420.9 158 L418.8 158.7 L416.9 160.1 L414.6 160.7 L412.1 161.8" stroke-width="1.4" opacity="0.3"/><path d="M412.2 161.9 L409.6 163.7 L407.8 164.9 L405.6 165.9 L403.5 167.2 L401.4 168.7 L399.1 170.1 L396.5 171.2 L394.2 173 L392 174.7 L389.7 176.2" stroke-width="1.1" opacity="0.2"/><path d="M389.6 176.2 L387.5 177.9 L385.2 179.3 L383.1 180.9 L380.8 181.8 L378.8 182.9 L377 184.1 L374.4 186.4 L371.9 188.4 L369.9 190.2 L367.5 191.1" stroke-width="1.3" opacity="0.3"/><path d="M367.5 191.2 L365.4 192.3 L363.3 193.5 L361.6 195.4 L359.8 197.3 L358.1 199.3 L356 201 L354 202.9 L351.9 204.7 L349.7 206.6 L347.6 208.2" stroke-width="1.1" opacity="0.2"/><path d="M347.5 208.1 L346 210.2 L344.3 211.9 L342.7 213.3 L340.1 215 L337.9 215.6 L335.9 216.3 L333.6 217.1 L330.9 218.8 L329.1 219.9 L327.6 221.4" stroke-width="1.4" opacity="0.3"/><path d="M327.7 221.5 L325.9 223 L324.1 224.7 L322.7 226.8 L320.5 228.4 L318.8 230.5 L316.6 232.3 L314.6 234.4 L312.5 236.4 L310.6 237.8 L309.2 239.8" stroke-width="1.1" opacity="0.3"/><path d="M309.1 239.7 L307.4 241.6 L305.7 243.5 L303.9 245.5 L301.9 247.3 L300.4 249.6 L298.7 251.7 L296.6 253.3 L295.2 255.6 L293.6 257.6 L291.9 259.4" stroke-width="1.3" opacity="0.3"/><path d="M292 259.5 L290.5 261.4 L288.2 263.2 L286.3 265.1 L284.3 266.8 L282.4 268.5 L280.7 270.3 L279.1 272.2 L277.2 273.9 L275.1 275.6 L272.7 277.2" stroke-width="1.1" opacity="0.2"/><path d="M272.7 277.2 L270.7 279.4 L269.4 281.3 L268.1 283.3 L266 284.8 L264 286.3 L262.3 288.3 L260.4 290.1 L258.6 292 L256.6 293.8 L254.4 295.4" stroke-width="1.1" opacity="0.3"/><path d="M254.4 295.4 L252.8 297.5 L251.5 299.9 L249.9 302 L248.5 304.3 L246.5 305.9 L245 308.3 L242.6 309.9 L240.6 312 L238.7 314.2 L236.6 316.2" stroke-width="1.1" opacity="0.3"/><path d="M236.6 316.2 L234.8 318.5 L232.6 320.3 L230.8 322.4 L229 324.4 L227.1 326.1 L225.7 328.1 L224 329.6 L222.3 330.8 L219.6 333.3 L217.2 335.2" stroke-width="1.2" opacity="0.3"/><path d="M217.2 335.2 L215 336.5 L213.1 337.5 L211.2 338.4 L209.2 338.7 L207 339.3 L205.3 339.6 L202.8 339.8 L198.9 341.6 L197.4 342.8 L195.4 343.7" stroke-width="1.3" opacity="0.3"/><path d="M195.4 343.7 L193.4 345.1 L191.1 346.5 L188.8 348.2 L186.1 349.5 L183.6 351.4 L181.1 353.2 L178.4 354.5 L176 356.2 L174 358.1 L172 359.7" stroke-width="1.3" opacity="0.3"/><path d="M172.1 359.8 L170.2 361.1 L168.5 362.2 L166.2 365.2 L164.5 367.5 L163.3 369.5 L163.2 371.7 L161.9 373.5 L161.6 375.7 L160.7 378.8 L160.8 382.2" stroke-width="1.1" opacity="0.2"/><path d="M160.8 382.2 L160.9 385.5 L161 388.4 L161.3 390.4" stroke-width="1.1" opacity="0.3"/><path d="M521.5 101 L520.1 101.6 L518.4 102.4 L516.8 104.1 L514.8 105.6 L512.3 106.7 L510 108.5 L507.7 110.3 L505.2 111.9 L502.8 113.7 L500.4 115.3" stroke-width="1.2" opacity="0.3"/><path d="M500.4 115.3 L498.2 117 L496.3 118.5 L494.1 119.6 L491.9 120.7 L490.3 122.7 L488.2 124 L486.3 125.6 L484.3 127.1 L482.3 128.7 L480.2 130.3" stroke-width="1.1" opacity="0.2"/><path d="M480.2 130.3 L477.8 131.4 L475.7 133.4 L473.2 134.7 L471.5 136.3 L469.5 137.8 L467.5 139.2 L465.3 140.5 L463.3 142.1 L461 143.5 L458.9 145.1" stroke-width="1.1" opacity="0.2"/><path d="M458.9 145.1 L456.7 146.7 L454.3 147.9 L452 149.1 L449.8 150.7 L447.6 152 L445.4 153.4 L443.2 154.5 L441.1 155.8 L439 157.6 L436.6 158.9" stroke-width="1" opacity="0.2"/><path d="M436.6 158.8 L434.5 160.6 L432.4 162.2 L430 163.3 L427.6 164.4 L425.5 165.8 L423 166.7 L421 168.1 L418.6 169.1 L416.6 170.6 L414.4 171.7" stroke-width="1.2" opacity="0.3"/><path d="M414.3 171.7 L412.1 172.7 L409.7 174 L407.6 175.7 L405.3 177.1 L403.1 178.7 L400.9 180.2 L398.8 181.7 L396.5 183 L394.3 184.4 L392.2 185.8" stroke-width="1.2" opacity="0.3"/><path d="M392.3 185.9 L390.4 187.5 L388.3 188.7 L386.3 190 L384.2 191.9 L381.7 193 L379.3 194.2 L377.4 196 L375.2 197.3 L373.1 198.6 L371.2 200.2" stroke-width="1" opacity="0.2"/><path d="M371.2 200.2 L369.5 201.9 L367.5 203.2 L365.7 204.6 L363.6 206.4 L361.5 208 L359.6 209.5 L358.2 211.6 L356.4 213.3 L354.4 215 L352.4 217.1" stroke-width="0.9" opacity="0.3"/><path d="M352.4 217.1 L350.5 219.8 L348.7 221.1 L347.6 223.2 L346.7 225.5 L344.7 227.3 L343.3 229.6 L342 231.9 L340.3 234.1 L338.6 236.3 L337.5 238.9" stroke-width="0.9" opacity="0.3"/><path d="M337.5 238.9 L335.9 241.1 L334.7 243.6 L333.2 245.8 L331.3 247.6 L329.5 249.4 L327.9 251.6 L326.2 253.7 L324.2 255.4 L321.7 256.6 L319.6 258.2" stroke-width="0.9" opacity="0.2"/><path d="M319.6 258.2 L317.6 260 L315.6 261.7 L313.2 262.8 L311.1 264.3 L308.9 265.6 L306.8 267 L304.8 268.3 L302.9 270.3 L300.7 271.8 L298.4 273.1" stroke-width="0.9" opacity="0.2"/><path d="M298.4 273.1 L296.1 274.2 L294.4 276.1 L292.4 277.5 L290.7 279.4 L288.3 280.4 L286.4 282 L284.5 283.7 L282.2 285.1 L280.1 286.6 L278.3 288.5" stroke-width="1" opacity="0.2"/><path d="M278.4 288.5 L275.9 289.6 L273.6 290.8 L271.3 292.1 L268.8 293.3 L266.5 294.7 L264.3 296 L261.9 297.3 L260.1 299.2 L258 300.8 L255.7 301.8" stroke-width="1" opacity="0.3"/><path d="M255.7 301.8 L253.6 303.5 L251.5 305.2 L249.7 307.1 L248.1 309.3 L245.9 310.7 L243.9 312.4 L242.2 314.2 L240.4 316 L238.7 317.8 L236.8 319.3" stroke-width="1.2" opacity="0.3"/><path d="M236.8 319.4 L235.2 321.1 L233.1 323.2 L230.9 325.4 L228.8 327.8 L226.2 329.4 L223.7 331.1 L221.9 333.2 L220 334.7 L218.1 335.7 L217.5 337.4" stroke-width="1" opacity="0.3"/><path d="M507.1 124.1 L505.8 125.1 L504.1 126 L501.8 126.6 L499.5 127.9 L497.1 129.4 L494.5 130.9 L491.7 132.1 L489.1 133.7 L486.4 135 L483.8 136.2" stroke-width="1.1" opacity="0.2"/><path d="M483.9 136.2 L481.6 137.4 L479.5 139.1 L477.3 140.8 L474.9 142.2 L472.5 143.6 L470 144.8 L467.4 145.7 L465.2 147.1 L463.2 148.7 L461.4 150.4" stroke-width="1" opacity="0.2"/><path d="M461.4 150.4 L459.2 151 L456.7 152.7 L454.3 153.5 L452.2 154.5 L450.2 155.3 L448.1 156 L445.8 156.8 L443.3 158.2 L440.9 158.9 L438.3 160.1" stroke-width="0.9" opacity="0.3"/><path d="M438.4 160.1 L435.7 161.7 L432.9 163.1 L430.1 164.8 L427.5 166.5 L425 168 L422.8 169.4 L421 170.7 L419.5 171.5" stroke-width="0.9" opacity="0.3"/><path d="M379.6 188.8 L378.3 189.9 L376.5 191 L374 191.9 L371.8 193.7 L368.9 194.8 L366.5 196.8 L363.6 198 L361.4 199.9 L359.1 200.9 L357.2 202.6" stroke-width="0.8" opacity="0.2"/><path d="M357.2 202.6 L354.8 203.8 L352.5 205.1 L350.4 206.7 L348.2 208.1 L346.4 210 L344.1 211.1 L342.6 213.1 L340.6 214.9 L338.9 216.7 L336.9 218" stroke-width="0.8" opacity="0.2"/><path d="M336.8 218 L335.2 219.7 L333.6 221.5 L331.9 223.3 L330.1 225.2 L328.2 227.2 L326.6 228.8 L324.6 230.2 L323 232.1 L321.4 234 L319.4 235.6" stroke-width="0.9" opacity="0.2"/><path d="M319.4 235.6 L317.7 237.6 L316 239.7 L313.7 241.1 L311.9 243.1 L310.1 245 L308.6 246.8 L307 248.6 L304.9 250 L303.4 251.9 L301.8 253.7" stroke-width="0.9" opacity="0.2"/><path d="M301.8 253.7 L300.5 255.8 L298.5 257.4 L296.7 259.3 L295.1 261.3 L293.3 263.3 L291.4 265.3 L289.5 266.9 L288.1 269 L286.2 270.8 L284.6 272.9" stroke-width="0.9" opacity="0.2"/><path d="M284.6 272.9 L282.8 274.9 L281.4 277.2 L279.8 279.4 L278.4 281.8 L276.4 283.7 L274.7 285.7 L273.4 288.1 L271.4 289.7 L269.5 291.4 L267.7 293.8" stroke-width="0.9" opacity="0.3"/><path d="M267.7 293.8 L265.4 295.9 L263.3 298.3 L260.9 300.4 L259.1 302.9 L257.2 305.2 L255.2 307.2 L253.2 308.9 L251.6 310.5 L250.5 312.2 L249.6 313.5" stroke-width="0.8" opacity="0.2"/><path d="M312.4 157.8 L312.7 156.2 L314.1 154.4 L315.5 152.2 L316.7 149.5 L317.7 146.6 L318.1 143.5 L319.6 140.7 L320.8 138.1 L321 135.6 L321.8 133.2" stroke-width="1.3" opacity="0.4"/><path d="M321.8 133.2 L322.5 130.7 L323 128.2 L323.2 125.7 L323.5 123.1 L323.9 120.5 L324.1 117.9 L323.9 115.3 L324 112.6 L324 109.8 L323.9 106.9" stroke-width="1.3" opacity="0.3"/><path d="M323.9 106.9 L323.6 104.1 L323.7 101.2 L323.7 98.4 L323.4 95.6 L323.1 93 L322.9 90.6 L321.8 87.8 L321.1 85.1 L319.6 82.8 L318.6 80.5" stroke-width="1.2" opacity="0.4"/><path d="M318.6 80.5 L317.8 78.2 L317.4 75.8 L316.5 73.7 L315.2 70.7 L313.9 67.9 L312.1 65.4 L310.9 63 L309.8 60.9 L308.4 56.8 L307.4 54.3" stroke-width="1.3" opacity="0.4"/><path d="M320 137.9 L321.4 137.2 L323.3 136.5 L325.4 135.2 L327.7 133.7 L330.4 132.5 L333 130.9 L335.6 129.3 L337.9 127.4 L340.4 126 L342.6 124.8" stroke-width="1.2" opacity="0.3"/><path d="M342.7 124.8 L344.9 123.3 L346.9 121.6 L348.9 120 L350.9 118.4 L352.9 117 L354.7 115.3 L356.5 113.6 L358.4 112 L359.7 109.8 L360.8 107.5" stroke-width="1.1" opacity="0.3"/><path d="M360.8 107.5 L361.7 105 L362.5 102.3 L363.7 99.7 L363.9 96.8 L364.8 94.1 L365.1 91.4 L366 89.1 L366.8 86.9 L368.3 84.4 L369.7 82.3" stroke-width="1.1" opacity="0.4"/><path d="M369.7 82.2 L371.7 81 L373.6 79.5 L375.9 78 L378.5 75.9 L380.1 74.4 L381.8 72.6 L384 70.8 L385.8 68.5 L387.9 66.2 L390.2 64.3" stroke-width="1.2" opacity="0.3"/><path d="M390.2 64.3 L392.1 62.2 L394.1 60.4 L395.6 58.5 L397.4 57.5 L398.5 56.4" stroke-width="1.2" opacity="0.3"/><path d="M316.2 154.8 L317.6 153.5 L319.7 152.2 L322.4 151.1 L325.3 149.8 L328.3 148.3 L331.1 146.7 L333.7 145.8 L336.4 144.7 L339.4 144 L342.5 143.5" stroke-width="1.1" opacity="0.3"/><path d="M342.5 143.6 L345.2 142.7 L347.9 142.5 L350 141.4 L353.6 141.1 L356 140.2 L359.4 139.6 L361.4 139.1 L363.7 139 L366.1 138.8 L368.5 137.7" stroke-width="1.1" opacity="0.4"/><path d="M368.5 137.7 L371.3 137.5 L374.2 136.7 L377.4 136.8 L379.7 136.6 L382.2 136.5 L384.7 136.1 L387.4 136 L390.2 135.7 L393 135.3 L395.7 134.5" stroke-width="1" opacity="0.3"/><path d="M395.7 134.4 L398.6 134.3 L401.3 133.6 L404 133.3 L406.4 132.5 L408.8 131.8 L411.2 131.1 L413.7 130.5 L416.1 129.5 L418.5 128.7 L420.9 127.9" stroke-width="1.1" opacity="0.3"/><path d="M421 127.9 L423.3 126.7 L425.8 126 L428.1 125 L430.7 124.4 L433.1 123.2 L435.8 122.5 L438.6 121.9 L441.4 121.3 L444.2 120.4 L447 120" stroke-width="1.1" opacity="0.3"/><path d="M447 120 L449.8 119.7 L452.4 118.9 L454.8 118 L457 117.5 L459.1 117.1 L463.1 115.9 L466.5 115.3 L469.5 115.1 L471.7 114.3 L473.3 113.4" stroke-width="1.1" opacity="0.3"/><path d="M327.5 166.1 L328.8 165 L330.9 164.2 L333.5 163.4 L336.2 162.1 L339 160.8 L341.9 159.7 L344.2 158 L346.3 156.5 L349 155.8 L351 154.5" stroke-width="1.2" opacity="0.3"/><path d="M351 154.5 L352.7 153 L354.5 151.6 L356.8 150.5 L359.5 149.1 L361.1 147.6 L363.3 147.1 L365.3 145.9 L367.3 144.3 L369.9 143.9 L372.3 142.8" stroke-width="1.2" opacity="0.4"/><path d="M372.3 142.9 L374.6 141.3 L377.2 140.4 L379.8 139.2 L382.5 138.1 L384.7 137.4 L386.7 135.9 L389.2 135.2 L391.6 134.1 L394.1 133 L396.7 132.2" stroke-width="1.1" opacity="0.4"/><path d="M396.6 132.2 L399 130.9 L401.5 129.7 L403.7 128.2 L405.9 126.7 L408.2 125.7 L410.5 124.7 L412.5 123.7 L415.1 122.2 L417.5 120.7 L419.7 119.2" stroke-width="1.2" opacity="0.3"/><path d="M419.7 119.1 L421.8 117.5 L424 116.1 L425.9 114.4 L427.9 113 L429.7 111.3 L431.9 110.5 L433.5 108.9 L436 107.3 L438.1 105.4 L440.5 104.1" stroke-width="1.3" opacity="0.2"/><path d="M440.5 104.2 L442.7 102.8 L444.5 101.3 L446.4 100.1 L448.3 99.1 L451.4 97.3 L454.5 96.3 L457.2 95.8 L459.1 95.6" stroke-width="1.2" opacity="0.3"/><path d="M274.9 128.6 L275.8 130.1 L277.1 132 L279.2 133.7 L281.1 136 L283.3 138.3 L285.5 140.5 L287.6 142.5 L289.8 143.9 L292.4 145.9 L295.5 147.2" stroke-width="0.7" opacity="0.2"/><path d="M295.5 147.2 L298.4 148.5 L301.1 149.6 L303.4 150.3 L305 151.2" stroke-width="0.7" opacity="0.2"/><path d="M259.9 54.6 L259.7 56.2 L259.6 58.3 L259.9 60.7 L260.4 63.4 L260.5 66.4 L260.3 69.5 L260.9 72.6 L261.3 75.7 L261.5 78.7 L262.3 81.5" stroke-width="0.7" opacity="0.2"/><path d="M262.3 81.4 L262.3 84.2 L263 86.9 L263.8 89.6 L264.3 92.4 L265.3 95.1 L265.9 97.8 L266.9 100.4 L268 102.9 L268.8 105.4 L269.6 107.8" stroke-width="0.7" opacity="0.2"/><path d="M269.7 107.8 L270.5 110.7 L271.6 113.3 L272.5 115.8 L273.2 118.4 L274 120.8 L274.9 123.3 L275.8 125.9 L276.9 128.6 L277.3 131.1 L277.9 133.6" stroke-width="0.7" opacity="0.2"/><path d="M277.9 133.6 L278.3 136.2 L278.7 138.9 L279.1 141.7 L279.7 144.4 L279.8 147.1 L279.6 149.9 L280.3 152.4 L280.5 155 L281 157.7 L281.1 160.7" stroke-width="0.7" opacity="0.2"/><path d="M281.1 160.7 L281 163.6 L281.1 166.5 L281.6 169.3 L281.6 171.8 L282 174.1 L282.3 176 L282.4 177.5" stroke-width="0.7" opacity="0.2"/><path d="M199.6 83.4 L200.7 84.7 L202.1 86.3 L203.6 88.3 L205.3 90.7 L206.9 93.3 L208.7 96 L210.5 98.8 L211.4 100.8 L212.4 103 L213.8 105.1" stroke-width="0.7" opacity="0.2"/><path d="M213.8 105.2 L215.1 107.5 L215.8 110.2 L217 112.7 L218.2 115.2 L219.4 117.6 L220.4 120.2 L221.3 122.6 L222.3 124.9 L223.8 127.4 L224.7 129.9" stroke-width="0.7" opacity="0.2"/><path d="M224.7 129.9 L225.8 132.3 L226.9 134.6 L227.7 137 L228.6 139.5 L229.4 142.1 L230.8 144.5 L232.1 147.3 L232.4 149.7 L233.3 152.1 L233.8 154.7" stroke-width="0.7" opacity="0.2"/><path d="M233.8 154.7 L234.6 157.3 L235.4 160 L236.3 162.6 L237.2 165.2 L238.2 167.8 L238.9 170.4 L239.3 173 L240.3 175.3 L241 177.6 L241.7 180.6" stroke-width="0.7" opacity="0.2"/><path d="M241.8 180.6 L242.3 183.7 L242.9 186.7 L243.9 189.5 L244.7 192.1 L245.3 194.6 L245.8 196.9 L246.4 198.7 L246.8 200.2" stroke-width="0.7" opacity="0.1"/><path d="M199.7 111.7 L201 111 L202.6 110.2 L204.4 109.2 L206.4 108 L208.4 106.3 L210.9 105.1 L213.3 103.6 L215.6 101.8 L218.3 100.4 L220.9 99.1" stroke-width="0.7" opacity="0.1"/><path d="M220.8 99.1 L223.3 97.5 L225.5 95.9 L227.7 94.5 L230.3 93.5 L232.8 92.4 L235.3 91.1 L237.7 89.7 L240.3 88.6 L242.6 87 L245.1 86" stroke-width="0.7" opacity="0.2"/><path d="M245.2 86 L247.5 84.6 L249.8 83.3 L252 82.1 L254.1 80.8 L256.3 79.9 L258.7 78.1 L261.2 76.9 L263.6 75.6 L265.7 74.1 L267.7 72.5" stroke-width="0.7" opacity="0.2"/><path d="M267.6 72.5 L269.7 71.2 L271.4 69.6 L273.5 68.5 L275.3 67.1 L277.5 65 L279.9 63.1 L282.5 61.4 L284.8 59.7 L287 58.3 L288.7 57" stroke-width="0.7" opacity="0.2"/><path d="M288.7 57 L289.6 55.6" stroke-width="0.7" opacity="0.1"/><path d="M199.7 143.7 L201.1 143.1 L202.8 143.4 L204.7 143.5 L206.9 143.7 L209.3 143.6 L211.9 143.3 L214.5 143.3 L217.3 143.3 L220.2 143.4 L223.1 143.5" stroke-width="0.7" opacity="0.1"/><path d="M223.1 143.5 L226.1 143.6 L229 143.5 L231.9 143.4 L234.7 143.8 L237.4 143.8 L239.9 143.6 L242.4 143.7 L245 143.5 L247.6 143.7 L250.3 143.9" stroke-width="0.7" opacity="0.1"/><path d="M250.3 143.9 L252.9 144.2 L255.6 144.2 L258.3 143.8 L261 143.9 L263.6 144.4 L266.2 144.2 L268.8 144.1 L271.4 143.8 L273.9 143.7 L276.3 143.4" stroke-width="0.7" opacity="0.1"/><path d="M276.3 143.3 L278.7 143.2 L281.7 143 L284.7 143.1 L287.8 143.2 L290.9 143.3 L293.9 142.8 L296.9 142.2 L299.8 142.2 L302.5 141.7 L305 141.1" stroke-width="0.7" opacity="0.1"/><path d="M305 141.1 L307.3 140.6 L309.4 140.3 L311.1 139.9 L312.7 140" stroke-width="0.7" opacity="0.1"/><path d="M284.3 192.6 L284.5 194.5 L285.2 196.9 L286.4 199.8 L286.7 203.1 L287.8 206.3 L288.5 209.5 L289.1 211.9 L289.6 214.6 L289.4 217.3 L289.6 220.1" stroke-width="0.7" opacity="0.2"/><path d="M289.6 220.1 L289.8 222.8 L289.9 225.3 L290 227.6 L290.2 229.6 L291.1 232.4 L292.5 233.7 L293.6 238.4 L293.7 240.1 L293.8 242 L294.3 244.1" stroke-width="0.7" opacity="0.1"/><path d="M294.2 244.1 L294.2 246.4 L294.3 248.9 L294.9 251.4 L295.3 254.1 L295.9 256.8 L296.1 259.6 L296.4 262.4 L296.5 265.3 L296.6 268.1 L297.1 270.8" stroke-width="0.7" opacity="0.1"/><path d="M297.1 270.8 L297.7 273.4 L297.6 276 L298 278.6 L297.9 281.2 L298.2 283.8 L298.6 286.4 L299.1 289 L299.2 291.6 L299.3 294.2 L299.3 296.8" stroke-width="0.7" opacity="0.2"/><path d="M299.4 296.9 L300 299.4 L300.2 301.9 L300.2 304.5 L300.8 306.8 L300.8 309.2 L301 311.5 L301.9 313.6 L302.7 316.7 L303.5 319.9 L304.3 323" stroke-width="0.7" opacity="0.1"/><path d="M304.3 323 L305.2 326.1 L305.6 329.1 L306.5 331.9 L307 334.4 L307.5 336.7 L308.3 338.6 L308.8 340.1" stroke-width="0.7" opacity="0.1"/><path d="M323.9 190.8 L323.4 192.4 L322.9 194.7 L322.4 197.4 L322.2 200.4 L321.8 203.6 L320.8 206.6 L320 209.5 L319.2 212 L318.3 214.6 L316.9 217" stroke-width="0.7" opacity="0.2"/><path d="M316.9 217 L315.6 219.5 L314.2 221.9 L312.8 224.4 L312 227.1 L310.8 229.6 L309.5 232.1 L308 234.7 L306.3 237.3 L304.4 239.7 L302.7 242" stroke-width="0.7" opacity="0.2"/><path d="M302.7 242 L301.3 244.1 L300.1 245.9 L299.6 247.6" stroke-width="0.7" opacity="0.2"/><path d="M398.7 54.5 L397.5 55.8 L396.2 57.6 L394.8 59.9 L392.8 62.3 L390.6 64.5 L388.4 66.9 L386.4 69.2 L384.6 70.8 L383 72.7 L381 74.4" stroke-width="0.7" opacity="0.2"/><path d="M381 74.4 L379.2 76.2 L377.3 78.1 L375.5 79.9 L373.6 81.6 L372 83.5 L370.4 85.2 L368.9 87.9 L367.6 90.7 L366.1 93.3 L365.1 96.1" stroke-width="0.7" opacity="0.2"/><path d="M365 96.1 L363.6 98.5 L362.7 100.9 L361.7 102.9 L360.5 106.8 L359.9 109.7 L359.6 111.7" stroke-width="0.8" opacity="0.2"/><path d="M359.7 85.2 L361.2 84.8 L363.4 84.7 L366.4 84.3 L370.4 84.2 L372.3 84 L374.4 83.6 L376.7 83.1 L379.2 82.8 L381.8 82.2 L384.5 81.9" stroke-width="0.7" opacity="0.1"/><path d="M384.5 81.8 L387.3 81.8 L390 81.3 L392.7 80.5 L395.3 79.9 L397.7 79.1 L400.3 78.3 L403 77.4 L405.8 76.8 L408.7 76.4 L411.4 75.5" stroke-width="0.7" opacity="0.1"/><path d="M411.5 75.6 L414.1 75 L416.6 74.6 L418.6 73.6 L420.5 73.2 L421.9 72.7" stroke-width="0.7" opacity="0.1"/><path d="M33.7 129.6 L34.9 128.9 L36.3 127.8 L38 127.1 L40 126.4 L42 125.1 L44.1 123.8 L46.5 122.8 L49 121.6 L51.4 120 L54.2 119.1" stroke-width="0.7" opacity="0.1"/><path d="M54.2 119.1 L56.8 117.5 L59.4 116.1 L62.2 114.7 L64.8 113.2 L67.4 111.8 L70.1 110.5 L72.7 109.4 L75.2 108.3 L77.6 107.1 L79.7 105.6" stroke-width="0.7" opacity="0.1"/><path d="M79.6 105.6 L81.9 104.1 L84.2 102.7 L86.8 101.8 L89.3 100.7 L91.7 99.6 L94.1 98.4 L96.6 97.5 L98.8 96.1 L101.1 95 L103.3 93.7" stroke-width="0.7" opacity="0.1"/><path d="M103.3 93.7 L105.5 92.5 L107.5 90.9 L109.5 89.6 L111.8 88.9 L113.8 87.6 L115.6 86.1 L117.7 85.5 L119.5 84.2 L122.4 83.1 L125.1 81.9" stroke-width="0.7" opacity="0.1"/><path d="M125.1 81.9 L127.7 80.8 L130.1 79.5 L132.4 78.3 L134.6 76.8 L136.9 75.9 L139 74.9 L141 73.8 L143.1 73 L145 72 L146.7 70.8" stroke-width="0.7" opacity="0.1"/><path d="M146.7 70.7 L149.5 68.6 L152.1 66.2 L154 63.5 L155.7 61 L157.5 59 L158.9 57.2 L159.6 55.6" stroke-width="0.7" opacity="0.1"/><path d="M33.7 180.6 L35 180.1 L36.6 179.6 L38.2 178.6 L40.1 177.6 L42 176.4 L44.3 175.5 L46.6 174.3 L49.2 173.3 L51.4 171.6 L53.9 170" stroke-width="0.7" opacity="0.1"/><path d="M53.8 170 L56.5 168.7 L59.3 167.6 L61.9 165.9 L64.5 164.4 L67.1 162.9 L69.6 161.3 L72.3 160.1 L74.8 158.9 L77.2 157.5 L79.6 156.5" stroke-width="0.7" opacity="0.2"/><path d="M79.6 156.5 L81.9 155.4 L84.2 154.2 L86.6 153.1 L88.9 151.9 L91.2 150.6 L93.4 149.1 L95.7 147.9 L97.7 146.1 L100 144.9 L102.1 143.3" stroke-width="0.7" opacity="0.1"/><path d="M102.1 143.3 L104.3 142 L106.6 140.8 L108.6 139.4 L110.8 138 L113 136.9 L115.1 135.7 L117.3 134.9 L119.3 133.7 L121.3 132.6 L123.5 132" stroke-width="0.7" opacity="0.1"/><path d="M123.5 132 L126.2 130.9 L128.9 130.4 L131.5 129.4 L134.1 129.2 L136.6 128.6 L139.1 128 L141.6 127.7 L144.1 127.3 L146.5 126.8 L149 126.8" stroke-width="0.7" opacity="0.1"/><path d="M149 126.8 L151.5 126.7 L154 126.7 L156.5 126.1 L158.9 125.5 L161.5 124.8 L164 124.4 L166.6 123.8 L169.4 123.2 L172 122.1 L174.9 121.3" stroke-width="0.7" opacity="0.1"/><path d="M174.9 121.3 L177.6 120.1 L180.2 118.8 L182.8 117.5 L185.4 116.3 L188 115.5 L190.4 114.5 L192.6 113.5 L194.8 113.1 L196.7 112.5 L198.3 112" stroke-width="0.7" opacity="0.1"/><path d="M198.3 112 L199.7 111.6" stroke-width="0.7" opacity="0.1"/><path d="M54.1 228.4 L55.4 227.8 L56.6 226.7 L57.9 225.5 L59.8 224.7 L61.6 223.4 L63.3 221.8 L65.3 220.3 L67.3 218.6 L69.6 217.3 L71.8 215.5" stroke-width="0.7" opacity="0.2"/><path d="M71.8 215.5 L74.2 213.9 L76.7 212.4 L79 210.5 L81.4 208.7 L83.9 207 L86.5 205.5 L88.7 203.5 L90.7 201.3 L92.7 199.2 L94.9 197.5" stroke-width="0.7" opacity="0.2"/><path d="M94.9 197.5 L97.2 196.2 L99.1 194.4 L101.3 193.2 L102.9 191.7 L104.6 190.3 L107.4 188.5 L109.8 186.5 L112.5 184.9 L114.5 182.7 L116.7 181" stroke-width="0.7" opacity="0.2"/><path d="M116.7 181 L118.8 179.3 L120.7 177.5 L122.5 175.8 L124.4 174.3 L126.1 172.7 L128 171.3 L129.6 169.8 L131.4 168.5 L133 167.1 L134.5 165.7" stroke-width="0.8" opacity="0.2"/><path d="M134.5 165.6 L136.9 163.4 L139.1 161.4 L141.3 160 L143.3 158.6 L145 156.9 L147 155.6 L149.2 154.4 L151.1 152.4 L153.6 150.8 L155.4 149.2" stroke-width="0.8" opacity="0.2"/><path d="M155.4 149.2 L157.5 147.9 L159.7 146.5 L162 145.2 L164 143.4 L166.5 142.2 L168.7 140.4 L170.9 138.7 L173.2 137 L175.7 135.7 L177.9 134" stroke-width="0.8" opacity="0.3"/><path d="M178 134 L180.3 132.5 L182.4 130.9 L184.5 129.3 L186.6 127.7 L188.7 126 L191 124.6 L193.6 123.7 L195.7 122 L198.2 120.8 L200.4 119.2" stroke-width="0.7" opacity="0.3"/><path d="M200.4 119.2 L202.7 117.7 L204.7 116 L207.1 114.7 L209.2 113 L211.6 111.6 L213.9 110 L216.3 108.7 L219 107.7 L221.5 106.4 L224 105.2" stroke-width="0.8" opacity="0.2"/><path d="M224 105.2 L226.4 103.7 L228.7 102.4 L231.2 101.2 L233.2 99.4 L235.3 97.9 L237.5 96.8 L239.7 95.7 L242.3 94 L245.2 92.8 L247.5 90.7" stroke-width="0.8" opacity="0.2"/><path d="M247.5 90.7 L250 89 L252.5 87.5 L254.7 85.8 L256.7 84.3 L258.5 83 L260.1 81.9 L261.6 81.5" stroke-width="0.8" opacity="0.2"/><path d="M69.6 225.6 L70.5 224.4 L71.9 223.6 L73.4 222.4 L74.8 220.9 L76.8 219.7 L78.9 218.4 L80.9 216.8 L82.9 215 L85.1 213.3 L87.6 211.8" stroke-width="0.7" opacity="0.1"/><path d="M87.6 211.8 L90 210.3 L92.3 208.4 L94.9 206.9 L97.1 205 L99.2 203 L101.4 201.4 L103.6 199.8 L105.9 198.5 L107.6 196.7 L109.7 195.6" stroke-width="0.7" opacity="0.2"/><path d="M109.7 195.6 L112.1 193.9 L114.3 192.1 L116.3 189.9 L118.7 188.3 L120.9 186.5 L123.2 185 L125.5 183.6 L127.2 181.5 L129.2 179.9 L131.2 178.4" stroke-width="0.7" opacity="0.2"/><path d="M131.2 178.4 L133.4 177.3 L135.1 175.8 L136.9 174.6 L138.5 173.3 L140 171.9 L142.6 169.1 L145 166.7 L147 164.4 L148.5 162.3 L149.8 160.4" stroke-width="0.7" opacity="0.2"/><path d="M149.8 160.4 L150.6 158.7 L151.6 157.6" stroke-width="0.7" opacity="0.2"/><path d="M91.6 209.5 L93 209.7 L94.7 209.4 L96.7 209.4 L98.8 208.8 L101.1 208.3 L103.5 207.6 L106.2 207.2 L109 207.2 L111.9 207 L114.8 206.5" stroke-width="0.8" opacity="0.3"/><path d="M114.8 206.5 L117.8 206.3 L120.8 205.8 L123.8 205.8 L126.8 205.1 L129.7 204.6 L132.5 204.3 L135.3 204 L137.8 203 L140.3 202.4 L142.5 201.6" stroke-width="0.8" opacity="0.2"/><path d="M142.5 201.6 L145.5 201.4 L148.4 201.1 L151.2 200.9 L153.8 200.2 L156.4 199.6 L159 198.8 L161.5 198.3 L164 198 L166.4 197.5 L168.7 196.6" stroke-width="0.7" opacity="0.3"/><path d="M168.7 196.6 L171.1 196.6 L173.4 195.8 L175.7 195.6 L178 195.3 L180.2 194.6 L182.9 193.7 L185.6 193.2 L188.2 192.5 L190.7 191.5 L193.1 190.6" stroke-width="0.7" opacity="0.2"/><path d="M193.1 190.6 L195.3 189.4 L197.7 188.8 L200.1 188 L202.4 187.3 L204.8 186.6 L207.4 186.4 L209.7 185.6 L212.3 185.2 L214.8 184.8 L217.4 184.3" stroke-width="0.7" opacity="0.2"/><path d="M217.4 184.3 L219.9 183.6 L222.5 183 L225.1 182.4 L227.7 182 L230.2 181.8 L232.6 181.2 L235 180.8 L237.4 180.8 L239.6 180.4 L242.8 180.6" stroke-width="0.8" opacity="0.2"/><path d="M242.9 180.7 L246.2 181.3 L249.4 181.6 L252.5 181.8 L255.3 182.5 L257.9 182.5 L259.9 183.4 L261.6 183.5" stroke-width="0.7" opacity="0.2"/><path d="M195.4 55.6 L195.3 57.2 L195.7 59 L196 61.2 L196.1 63.7 L196.4 66.4 L197.2 69.2 L198 72.1 L198.6 75.1 L199.3 78.2 L199.3 81.3" stroke-width="0.7" opacity="0.1"/><path d="M199.3 81.3 L199.1 84.3 L199.3 87.3 L199.6 89.7 L199.5 92.1 L198.9 94.6 L198.2 97.1 L198.3 99.8 L198.1 102.5 L197.9 105.1 L197.6 107.8" stroke-width="0.7" opacity="0.2"/><path d="M197.6 107.8 L197.1 110.4 L196.9 113 L196.2 115.5 L196.1 118 L195.8 120.4 L195.4 122.7 L195.4 124.9 L194.9 128 L194.4 130.9 L194.3 133.7" stroke-width="0.7" opacity="0.2"/><path d="M194.3 133.7 L194.8 136.4 L195 139 L195 141.5 L194.9 143.9 L194.9 146.4 L195.2 148.8 L195.2 151.3 L195.4 154.2 L196.1 157.1 L197.1 160.1" stroke-width="0.7" opacity="0.2"/><path d="M197.2 160.1 L197.5 163.1 L197.9 166 L198.5 168.7 L198.9 171.1 L199.2 173.1 L199.7 174.6" stroke-width="0.7" opacity="0.2"/><path d="M33.5 238.3 L35.2 238.1 L37.1 237.5 L39.1 236.2 L41.4 234.7 L44 233.4 L46.8 232.3 L49.5 230.7 L52.4 229.8 L55.1 228.7 L57.8 228.2" stroke-width="0.9" opacity="0.3"/><path d="M57.8 228.2 L60.3 227.2 L63 226.7 L65.5 225.7 L68.2 225.2 L70.7 224.3 L73.1 223.2 L75.6 222.4 L78.1 221.8 L80.4 221.3 L82.6 220.3" stroke-width="0.9" opacity="0.2"/><path d="M82.6 220.3 L85.4 218.6 L88.2 217.1 L91 215.9 L93.5 214.4 L95.9 213.5 L97.9 212.8 L99.6 212.5" stroke-width="0.8" opacity="0.3"/><path d="M33.6 308.1 L35 307.6 L36.5 306.8 L38.2 305.9 L40.1 304.9 L42.2 303.9 L44.5 302.7 L46.9 301.6 L49.3 300.1 L51.8 298.7 L54.5 297.7" stroke-width="0.7" opacity="0.1"/><path d="M54.5 297.7 L57.1 296.3 L59.7 294.8 L62.3 293.5 L64.8 292.3 L67.4 291.2 L69.5 290 L71.6 288.7 L73.8 287.4 L76.1 286.1 L78.2 284.7" stroke-width="0.7" opacity="0.1"/><path d="M78.2 284.7 L80.7 283.7 L83.1 282.5 L85.2 280.8 L87.4 279.2 L89.9 278.2 L92 276.6 L94.1 274.9 L96.3 273.6 L98.3 272 L100.4 270.6" stroke-width="0.7" opacity="0.1"/><path d="M100.4 270.6 L102.6 269.3 L104.6 268.1 L107 266.8 L109.3 265.4 L111.6 264.1 L113.4 262.1 L115.8 260.9 L117.8 259.3 L119.7 257.7 L121.6 256" stroke-width="0.7" opacity="0.1"/><path d="M121.6 256 L123.7 254.6 L125.6 253.1 L127.5 251.6 L129.4 250.1 L131.4 248.9 L133.1 247.2 L134.9 245.8 L137.3 244.2 L139.7 242.3 L142 240.5" stroke-width="0.7" opacity="0.1"/><path d="M142 240.5 L144.4 238.6 L147.1 237.2 L149.5 235.8 L151.6 234 L153.5 232.3 L155.4 230.8 L157 229.5 L158.4 228.4 L159.7 227.6" stroke-width="0.7" opacity="0.1"/><path d="M242.9 214.6 L243.3 216.1 L244.1 217.9 L244.8 220.2 L245 222.8 L246.3 225.5 L246.6 228.5 L247.5 231.5 L248.1 234.6 L249.2 237.5 L250.2 240.3" stroke-width="0.7" opacity="0.2"/><path d="M250.2 240.4 L251.2 243 L252 245.5 L252.3 247.8 L253.4 251.1 L253.8 254.4 L254.1 257.5 L254.7 260.3 L255.5 262.9 L256 265.1 L256.1 267.1" stroke-width="0.7" opacity="0.1"/><path d="M256.1 267 L256.2 268.6" stroke-width="0.7" opacity="0.2"/><path d="M505.4 138.5 L505.8 140.1 L506.1 142.3 L506.4 144.9 L506.5 147.8 L507.4 150.7 L508.1 153.6 L509.3 156.2 L509.7 158.8 L510.3 161.4 L510.7 164.1" stroke-width="0.7" opacity="0.2"/><path d="M510.7 164.1 L511.2 166.7 L512.5 169.1 L513.5 171.5 L514.2 174.1 L514.9 176.6 L515.1 179.3 L515.6 182 L516.3 184.6 L517.1 187.1 L517.6 189.5" stroke-width="0.7" opacity="0.2"/><path d="M517.6 189.5 L517.7 191.9 L518.5 194.9 L519.4 197.9 L519.9 200.7 L520.8 203 L521.6 204.5" stroke-width="0.7" opacity="0.2"/><path d="M437.6 70.5 L438.5 72 L439.3 74.3 L440.7 76.8 L442 79.6 L442.8 82.7 L444.1 85.3 L445.1 87.7 L446.9 90.5 L448.3 93.3 L449.5 95.9" stroke-width="0.8" opacity="0.2"/><path d="M449.5 95.9 L450.9 98 L451.6 99.5" stroke-width="0.7" opacity="0.2"/><path d="M218.4 340.1 L219.9 339.6 L221.9 339.3 L224.2 338.7 L226.8 338 L229.5 337.1 L232.4 336.3 L235.5 335.8 L238.3 334.6 L241.3 333.8 L244 332.8" stroke-width="0.7" opacity="0.2"/><path d="M244 332.8 L246.7 332.5 L249.2 332 L251.8 331.5 L254.4 332 L256.9 331.5 L259.4 331.4 L262 331.4 L264.5 331.8 L267.1 332 L269.7 332.2" stroke-width="0.7" opacity="0.2"/><path d="M269.7 332.2 L272.3 332.3 L274.9 332.5 L277.4 333.2 L279.9 333.2 L282.4 333.4 L284.9 334.1 L287.4 334.9 L290 335.1 L292.6 335.5 L295.2 335.7" stroke-width="0.7" opacity="0.2"/><path d="M295.2 335.7 L297.7 336.3 L300.2 336.7 L302.6 337.6 L305.1 338 L307.5 339.1 L310 340.1 L312.6 340.9 L315.2 341.7 L317.7 342.7 L320.2 343.8" stroke-width="0.7" opacity="0.2"/><path d="M320.2 343.8 L322.8 344.6 L325 345.8 L327.1 347.2 L329.5 348 L331.6 349.2 L334.1 350.5 L336.6 351.9 L338.8 353.6 L341.2 354.8 L343.3 356.4" stroke-width="0.7" opacity="0.2"/><path d="M343.2 356.4 L345.3 357.8 L347.2 359.3 L348.9 360.8 L350.5 362.2 L353.1 364.9 L355.4 367.4 L357.5 369.7 L358.8 371.8 L359.6 373.5" stroke-width="0.7" opacity="0.1"/><path d="M199.7 290.6 L201.2 290.7 L203.1 290.7 L205.4 290.6 L207.8 291.3 L210.5 291.7 L213.4 292.1 L216.3 292.3 L219.3 292.7 L222.2 292.5 L225 292.4" stroke-width="0.7" opacity="0.1"/><path d="M225 292.4 L227.6 292.5 L230.2 292.2 L232.8 292 L235.4 291.6 L238.1 291.4 L240.6 290.6 L243.1 289.7 L245.7 288.9 L248.2 288.3 L250.8 287.9" stroke-width="0.7" opacity="0.1"/><path d="M250.8 287.9 L253.4 287.7 L255.9 287.3 L258.5 286.5 L261.3 285.7 L264.1 284.6 L266.9 283.7 L269.6 282.8 L272.1 281.6 L274.4 280.7 L276.6 280" stroke-width="0.7" opacity="0.1"/><path d="M276.5 280 L278.3 279.2 L279.7 278.6" stroke-width="0.7" opacity="0.1"/><path d="M359.7 306.2 L361.2 306.4 L363.1 306.8 L365.4 307.3 L368 308.2 L370.8 308.5 L373.8 309.1 L376.9 309.7 L380.1 310.5 L383.2 311 L386.2 311.5" stroke-width="0.7" opacity="0.1"/><path d="M386.2 311.5 L389.1 311.8 L391.7 312.3 L393.9 313 L395.9 313.5 L397.4 313.7" stroke-width="0.7" opacity="0.1"/><path d="M419.7 239.6 L420.5 240.7 L421.6 242.1 L423.2 243.3 L424.6 245 L425.9 247 L427.8 248.8 L429.7 250.7 L431.3 253 L433 255.4 L434.9 257.6" stroke-width="0.7" opacity="0.1"/><path d="M434.9 257.6 L436.8 259.9 L439 262 L440.9 264.3 L442.5 266.8 L444.3 269 L446.3 270.8 L448.4 272.4 L450.2 274.1 L452 276.2 L454 278" stroke-width="0.7" opacity="0.1"/><path d="M454.1 278 L456.1 279.7 L457.9 281.6 L459.8 283.4 L461.4 285.4 L462.9 287.4 L464.9 288.9 L467.1 290.3 L468.9 292.1 L471 293.5 L473.1 295" stroke-width="0.7" opacity="0.1"/><path d="M473.1 295 L475.2 296.4 L477.3 298.1 L479.5 299.9 L481.5 301.2 L483.7 302.7 L486.3 303.7 L488.9 304.6 L491.6 305.8 L494.1 307.3 L497.1 308" stroke-width="0.7" opacity="0.1"/><path d="M497.1 308 L499.7 309.4 L502.3 310.8 L505 311.8 L507.6 312.9 L510.1 313.8 L512.7 314.3 L514.9 315 L516.8 316.1 L518.8 316.5 L520.3 317.3" stroke-width="0.7" opacity="0.1"/><path d="M520.3 317.3 L521.7 317.6" stroke-width="0.7" opacity="0.1"/><path d="M387.7 375.6 L388.8 374.8 L390.1 373.8 L391.7 372.7 L393.5 371.6 L395.4 370.2 L397.5 369 L399.6 367.3 L402 366.1 L404.2 364.2 L406.5 362.4" stroke-width="0.7" opacity="0.1"/><path d="M406.5 362.4 L409.1 360.8 L411.6 359.1 L414.4 357.8 L417.2 356.4 L419.9 355.1 L421.9 354.2 L423.8 352.9 L426.1 352.1 L428.1 350.8 L430.3 349.6" stroke-width="0.7" opacity="0.1"/><path d="M430.3 349.5 L432.5 348.3 L434.9 347.2 L437.2 346.1 L439.6 344.9 L442 343.9 L444.5 342.7 L447 341.8 L449.6 341 L452.2 340.2 L454.8 339.5" stroke-width="0.7" opacity="0.1"/><path d="M454.8 339.5 L457.3 338.7 L459.8 337.6 L462.3 336.8 L464.7 335.7 L467.2 335.2 L469.6 334.3 L472.2 333.7 L475 333.2 L477.9 333 L480.8 332.5" stroke-width="0.7" opacity="0.1"/><path d="M480.8 332.5 L483.8 332.3 L486.8 331.5 L489.8 331.2 L492.9 331.2 L495.9 331.1 L498.9 330.8 L501.8 330.1 L504.6 329.7 L507.3 329.2 L509.8 328.8" stroke-width="0.7" opacity="0.1"/><path d="M509.9 328.8 L512.3 328.7 L514.6 328.8 L516.7 328.8 L518.6 328.4 L520.3 328.2 L521.7 327.6" stroke-width="0.7" opacity="0.1"/><path d="M331.4 219.5 L329.9 220.5 L328.3 222.1 L326.4 224.1 L324.5 226.4 L322.2 228.7 L319.5 230.8 L317.3 233.2 L315.9 235.1 L314.5 237 L312.5 238.6" stroke-width="0.8" opacity="0.2"/><path d="M312.5 238.6 L310.6 240.2 L308.7 242 L307.2 244.2 L305.2 245.9 L303.4 247.9 L301.8 250 L300 251.9 L298.4 253.9 L296.3 255.6 L294.6 257.6" stroke-width="0.9" opacity="0.2"/><path d="M294.6 257.7 L292.9 259.7 L291.1 261.7 L289.5 263.8 L288 266.1 L285.9 267.9 L283.9 269.9 L282 271.9 L279.8 273.4 L278.3 275.5 L276.3 277.1" stroke-width="0.7" opacity="0.2"/><path d="M276.2 277 L274.7 279.1 L273.2 281.3 L271.4 283.2 L269.4 284.9 L267.7 287.1 L265.8 288.9 L263.9 290.9 L262 292.9 L260.3 294.8 L258.5 296.9" stroke-width="0.8" opacity="0.2"/><path d="M258.5 296.9 L256.8 299 L254.9 301.1 L252.5 302.7 L250.6 304.8 L248.8 306.9 L247 308.9 L244.8 310.5 L243.1 312.3 L241.6 314.3 L240 315.9" stroke-width="0.8" opacity="0.2"/><path d="M240 315.9 L237.5 318 L235.5 320.5 L233.3 322.6 L231.4 324.6 L229.6 326.5 L228 328.1 L226.4 329.2 L225.6 330.5" stroke-width="0.8" opacity="0.2"/><path d="M199.6 301.5 L198.2 301.1 L196.4 301.3 L194.3 300.9 L191.9 300.3 L189.3 300.3 L186.5 300.4 L183.6 300.6 L180.7 300.4 L177.8 300.4 L175 300.4" stroke-width="0.7" opacity="0.1"/><path d="M175 300.5 L172.2 300.4 L169.6 299.6 L167.2 299.1 L164.6 299.2 L162.2 298.9 L159.6 298.8 L157.2 298.5 L154.7 298.3 L152.1 298.2 L149.6 298.1" stroke-width="0.7" opacity="0.1"/><path d="M149.7 298.1 L147.2 297.6 L144.7 297.4 L142.2 297.6 L139.7 297.5 L137.1 297.3 L134.3 297.4 L131.4 297.5 L128.5 297.6 L125.6 297.7 L122.7 297.9" stroke-width="0.7" opacity="0.1"/><path d="M122.8 297.9 L120 298 L117.4 298.5 L115 298.9 L112.9 299.1 L111.1 299.2 L109.7 299.6" stroke-width="0.7" opacity="0.1"/><path d="M288.7 180.6 L286.9 180.6 L284.7 180 L281.9 180 L278.9 179.3 L275.8 178.5 L272.7 177.8 L269.8 177.2 L267.3 176.6 L264.8 176 L262.5 174.7" stroke-width="0.7" opacity="0.1"/><path d="M262.4 174.7 L260 173.7 L257.4 172.7 L255 171.4 L252.4 170.2 L250 168.7 L247.7 167.6 L245.2 166.8 L242.6 166.2 L240 165.2 L237.5 164.2" stroke-width="0.7" opacity="0.2"/><path d="M237.5 164.3 L235.2 162.9 L232.6 161.8 L230 161 L227.5 160.1 L225.1 158.9 L222.7 157.5 L220.2 156.5 L217.6 155.7 L215 155 L212.6 153.7" stroke-width="0.7" opacity="0.2"/><path d="M212.6 153.7 L209.9 152.9 L207.4 152 L204.8 151.1 L202.2 150.5 L199.4 150.3 L196.5 149.9 L193.6 149.3 L190.7 149.3 L188 148.6 L185.4 148" stroke-width="0.7" opacity="0.2"/><path d="M185.4 148 L183.1 147.7 L181.1 147.8 L179.6 147.6" stroke-width="0.7" opacity="0.2"/><path d="M344.6 294.6 L344.3 293 L343.6 291 L342.9 288.6 L342 286 L341.1 283.1 L339.7 280.3 L338.4 277.4 L337.2 274.6 L335.7 272 L334.5 269.7" stroke-width="0.7" opacity="0.1"/><path d="M334.5 269.7 L333.5 267 L331.8 264.5 L330.2 262 L328.5 259.6 L327 257.2 L325.6 255 L323.9 253.1 L322.4 251.4 L321.2 249.9 L318.6 246.9" stroke-width="0.7" opacity="0.1"/><path d="M318.6 246.9 L317.3 245.1 L316.3 244.1" stroke-width="0.7" opacity="0.1"/><path d="M448.5 99.4 L447.3 97.7 L445.7 95.2 L443.3 92.8 L441.1 90.2 L439.6 87.6 L438.6 85 L437.4 82.4 L436.2 80 L435.6 77.6 L435.8 75.6" stroke-width="0.7" opacity="0.2"/><path d="M435.8 75.5 L436.5 72.3 L437.6 70.5" stroke-width="0.7" opacity="0.2"/><path d="M484.1 120.5 L485.9 121.2 L487.5 123.5 L489.8 125.4 L491.7 127.2 L494.5 129.1 L497.1 130.5 L499.5 131.2 L501.5 130.1 L503.4 127.6 L505.5 125.5" stroke-width="0.9" opacity="0.2"/><path d="M505.5 125.5 L507.2 124.2" stroke-width="0.8" opacity="0.2"/><path d="M459.2 150.9 L460.9 150.8 L463.4 150.5 L466.3 150.1 L469.5 149.3 L472 148.7 L474.6 147.5 L477.5 146.3 L480.5 145.2 L483.4 144.3 L485.8 142.9" stroke-width="0.7" opacity="0.1"/><path d="M485.8 142.9 L488.6 141.6 L491.3 140.3 L493.9 139.1 L496.1 138.2 L497.6 137.5" stroke-width="0.7" opacity="0.2"/><path d="M33.7 199.6 L34.6 201.1 L36.3 202.6 L38.2 204.6 L40.5 206.5 L42.8 208.7 L45.1 210.7 L47.4 212.5 L49.7 213.6 L52.3 215.2 L55.3 216.2" stroke-width="0.7" opacity="0.1"/><path d="M55.2 216.2 L58 217.1 L60.6 218 L62.7 218.6 L64.2 219.6" stroke-width="0.7" opacity="0.1"/><path d="M104.7 55.6 L104.9 57.1 L105.3 59 L105.8 61.2 L106.8 63.6 L107.5 66.2 L108.4 69 L109.3 71.7 L110.3 74.4 L111 77.1 L111.9 79.6" stroke-width="0.7" opacity="0.1"/><path d="M111.9 79.6 L112.1 82.5 L112.7 85.4 L113 88.4 L114.1 91.3 L115 94.2 L115.6 96.9 L116.2 99.5 L117 101.7 L118 103.4 L120.1 105.7" stroke-width="0.7" opacity="0.1"/><path d="M120.1 105.7 L122.7 107 L125.4 107.8 L127.8 108.4 L129.5 108.9" stroke-width="0.7" opacity="0.1"/></g>
</g>
<g filter="url(#bl1)"><g fill="#181818"><circle cx="274.4" cy="185.5" r="2.2" opacity="0.2"/><circle cx="245.4" cy="200.9" r="2.2" opacity="0.2"/><circle cx="221.4" cy="215.8" r="3.1" opacity="0.2"/><circle cx="176.9" cy="243.9" r="1.8" opacity="0.2"/><circle cx="136.7" cy="264.8" r="2.6" opacity="0.2"/><circle cx="97" cy="285.1" r="2.1" opacity="0.2"/><circle cx="73.5" cy="297.3" r="2.4" opacity="0.2"/><circle cx="55.3" cy="304.9" r="2" opacity="0.2"/><circle cx="253.4" cy="197.7" r="0.8" opacity="0.1"/><circle cx="228.1" cy="214.3" r="1.3" opacity="0.1"/><circle cx="499.4" cy="221.2" r="1.5" opacity="0.2"/><circle cx="447.7" cy="223.5" r="1.2" opacity="0.2"/><circle cx="412.7" cy="233.1" r="1.2" opacity="0.2"/><circle cx="392.5" cy="238.2" r="1.7" opacity="0.2"/><circle cx="338.9" cy="251.6" r="1.1" opacity="0.2"/><circle cx="311.5" cy="259.5" r="1.7" opacity="0.2"/><circle cx="275.4" cy="265.2" r="1.7" opacity="0.2"/><circle cx="240.6" cy="271.8" r="1.6" opacity="0.2"/><circle cx="200" cy="287.4" r="1.2" opacity="0.2"/><circle cx="148.9" cy="301" r="1.4" opacity="0.2"/><circle cx="111" cy="308" r="1.6" opacity="0.2"/><circle cx="54.3" cy="318.5" r="1.7" opacity="0.2"/><circle cx="499.1" cy="321.7" r="0.6" opacity="0.1"/><circle cx="476.2" cy="320" r="0.7" opacity="0.1"/><circle cx="420.1" cy="317.2" r="0.4" opacity="0.1"/><circle cx="389.5" cy="312.8" r="0.6" opacity="0.1"/><circle cx="366.1" cy="306.5" r="0.6" opacity="0.1"/><circle cx="314.2" cy="303.3" r="1.3" opacity="0.1"/><circle cx="286.8" cy="302.3" r="0.9" opacity="0.1"/><circle cx="269.5" cy="302.3" r="0.9" opacity="0.1"/><circle cx="238.5" cy="303.1" r="1" opacity="0.1"/><circle cx="194.9" cy="303.1" r="1.3" opacity="0.1"/><circle cx="160" cy="308.1" r="1.3" opacity="0.1"/><circle cx="134.4" cy="311.9" r="1" opacity="0.1"/><circle cx="97.8" cy="318.5" r="0.8" opacity="0.1"/><circle cx="68.5" cy="322.2" r="1.1" opacity="0.1"/><circle cx="69.4" cy="337.2" r="2.3" opacity="0.2"/><circle cx="120" cy="342.3" r="2.2" opacity="0.2"/><circle cx="145.4" cy="342.9" r="3.1" opacity="0.2"/><circle cx="193.9" cy="344.5" r="2" opacity="0.2"/><circle cx="242.7" cy="352.2" r="2.4" opacity="0.2"/><circle cx="293.8" cy="362" r="2" opacity="0.2"/><circle cx="314.5" cy="366.9" r="3.2" opacity="0.2"/><circle cx="343.7" cy="374.2" r="2.2" opacity="0.2"/><circle cx="65.6" cy="340.1" r="1.5" opacity="0.1"/><circle cx="92.2" cy="343.9" r="1.9" opacity="0.1"/><circle cx="122.4" cy="345.6" r="1.8" opacity="0.1"/><circle cx="165.1" cy="347.8" r="1.6" opacity="0.1"/><circle cx="186.6" cy="348.1" r="1.2" opacity="0.1"/><circle cx="221.8" cy="353.5" r="1.2" opacity="0.1"/><circle cx="263.2" cy="359.6" r="1.6" opacity="0.1"/><circle cx="301.4" cy="367.6" r="1.5" opacity="0.1"/><circle cx="332.6" cy="375.5" r="1.7" opacity="0.1"/><circle cx="96" cy="349.2" r="1" opacity="0.1"/><circle cx="119.8" cy="348.4" r="1.7" opacity="0.1"/><circle cx="172.6" cy="352" r="1.5" opacity="0.1"/><circle cx="227.9" cy="352.2" r="1.4" opacity="0.1"/><circle cx="46.5" cy="358.5" r="1.4" opacity="0.1"/><circle cx="101.8" cy="357.4" r="1.3" opacity="0.1"/><circle cx="127.6" cy="361.4" r="0.9" opacity="0.1"/><circle cx="92.3" cy="363.3" r="1" opacity="0.1"/><circle cx="116.2" cy="370.9" r="0.6" opacity="0.1"/><circle cx="135.6" cy="379.4" r="0.6" opacity="0.1"/><circle cx="115.4" cy="354.5" r="0.7" opacity="0.1"/><circle cx="148.3" cy="358.4" r="0.7" opacity="0.1"/><circle cx="181" cy="368.4" r="0.8" opacity="0.1"/><circle cx="516" cy="99.7" r="1.6" opacity="0.1"/><circle cx="467.3" cy="128.8" r="1.5" opacity="0.1"/><circle cx="445.7" cy="144.1" r="1.3" opacity="0.1"/><circle cx="420.2" cy="160.3" r="0.9" opacity="0.1"/><circle cx="393.3" cy="176.2" r="1.7" opacity="0.1"/><circle cx="359.4" cy="200.8" r="1.2" opacity="0.1"/><circle cx="341.5" cy="216.6" r="1.6" opacity="0.1"/><circle cx="320.1" cy="232" r="1" opacity="0.1"/><circle cx="307.1" cy="245.1" r="1.1" opacity="0.1"/><circle cx="285.6" cy="268.3" r="0.9" opacity="0.1"/><circle cx="255.7" cy="296.9" r="1.7" opacity="0.1"/><circle cx="223.7" cy="332.3" r="1.5" opacity="0.1"/><circle cx="175.4" cy="359.7" r="1.4" opacity="0.1"/><circle cx="511.4" cy="110" r="1.2" opacity="0.1"/><circle cx="477" cy="134.8" r="1.4" opacity="0.1"/><circle cx="448.9" cy="153.5" r="0.9" opacity="0.1"/><circle cx="411.1" cy="175.6" r="1" opacity="0.1"/><circle cx="393.6" cy="187.4" r="1.2" opacity="0.1"/><circle cx="368.8" cy="204.6" r="1" opacity="0.1"/><circle cx="347.9" cy="227" r="1.4" opacity="0.1"/><circle cx="314.4" cy="264.2" r="1.4" opacity="0.1"/><circle cx="289.6" cy="281.9" r="1.2" opacity="0.1"/><circle cx="259.3" cy="302.2" r="1.4" opacity="0.1"/><circle cx="225" cy="332.6" r="1.1" opacity="0.1"/><circle cx="485.1" cy="137.7" r="1.3" opacity="0.1"/><circle cx="453.5" cy="155.9" r="0.8" opacity="0.1"/><circle cx="358.4" cy="204" r="1.2" opacity="0.1"/><circle cx="340.1" cy="218.1" r="0.8" opacity="0.1"/><circle cx="301.7" cy="257.3" r="0.9" opacity="0.1"/><circle cx="268.9" cy="295.2" r="0.7" opacity="0.1"/><circle cx="321" cy="142.3" r="1.3" opacity="0.2"/><circle cx="324.8" cy="97.2" r="1.3" opacity="0.2"/><circle cx="316.6" cy="72.3" r="1" opacity="0.2"/><circle cx="331.7" cy="134" r="1.3" opacity="0.1"/><circle cx="365.2" cy="98.3" r="1.3" opacity="0.1"/><circle cx="326.6" cy="151.3" r="1.1" opacity="0.1"/><circle cx="349.2" cy="144" r="0.8" opacity="0.1"/><circle cx="407.8" cy="134" r="1.2" opacity="0.1"/><circle cx="458.3" cy="119" r="1.4" opacity="0.1"/><circle cx="334.9" cy="165" r="0.9" opacity="0.1"/><circle cx="358.2" cy="152" r="1.6" opacity="0.1"/><circle cx="407.2" cy="128.2" r="1" opacity="0.1"/><circle cx="423.2" cy="119.1" r="1" opacity="0.1"/><circle cx="284.4" cy="139.7" r="0.9" opacity="0.1"/><circle cx="302.3" cy="151" r="0.6" opacity="0.1"/><circle cx="261.7" cy="67.7" r="0.7" opacity="0.1"/><circle cx="267.1" cy="99.2" r="0.5" opacity="0.1"/><circle cx="278.1" cy="130" r="0.8" opacity="0.1"/><circle cx="280.8" cy="151.2" r="0.5" opacity="0.1"/><circle cx="282.8" cy="170.6" r="0.5" opacity="0.1"/><circle cx="209.8" cy="97.4" r="0.7" opacity="0.1"/><circle cx="229.8" cy="140.8" r="0.5" opacity="0.1"/><circle cx="241.5" cy="176.7" r="0.7" opacity="0.1"/><circle cx="219.4" cy="101.7" r="0.7" opacity="0.1"/><circle cx="262.4" cy="78.2" r="0.7" opacity="0.1"/><circle cx="281.1" cy="64.4" r="0.5" opacity="0.1"/><circle cx="218.5" cy="144.6" r="0.5" opacity="0.1"/><circle cx="238.5" cy="145.1" r="0.6" opacity="0.1"/><circle cx="270" cy="145.4" r="0.7" opacity="0.1"/><circle cx="287.6" cy="201.1" r="0.7" opacity="0.1"/><circle cx="296.5" cy="255.4" r="0.5" opacity="0.1"/><circle cx="299.8" cy="287.7" r="0.7" opacity="0.1"/><circle cx="307.6" cy="333.2" r="0.4" opacity="0.1"/><circle cx="321.1" cy="210.8" r="0.7" opacity="0.1"/><circle cx="310.7" cy="233.5" r="0.5" opacity="0.1"/><circle cx="384.2" cy="74.1" r="0.7" opacity="0.1"/><circle cx="368.8" cy="92" r="0.8" opacity="0.1"/><circle cx="375.5" cy="84.9" r="0.5" opacity="0.1"/><circle cx="55.4" cy="120.4" r="0.6" opacity="0.1"/><circle cx="92.9" cy="101" r="0.5" opacity="0.1"/><circle cx="138" cy="77.2" r="0.5" opacity="0.1"/><circle cx="153.3" cy="67.6" r="0.6" opacity="0.1"/><circle cx="50.3" cy="174.6" r="0.5" opacity="0.1"/><circle cx="80.8" cy="157.8" r="0.6" opacity="0.1"/><circle cx="107.7" cy="142.1" r="0.5" opacity="0.1"/><circle cx="155.1" cy="128" r="0.6" opacity="0.1"/><circle cx="181.4" cy="120.1" r="0.4" opacity="0.1"/><circle cx="64.5" cy="223.2" r="1" opacity="0.1"/><circle cx="96.1" cy="198.9" r="1" opacity="0.1"/><circle cx="140.3" cy="162.8" r="0.9" opacity="0.1"/><circle cx="163.2" cy="146.6" r="1" opacity="0.1"/><circle cx="206" cy="117.4" r="0.6" opacity="0.1"/><circle cx="257.9" cy="85.7" r="0.9" opacity="0.1"/><circle cx="78" cy="221" r="0.7" opacity="0.1"/><circle cx="115.5" cy="193.4" r="0.6" opacity="0.1"/><circle cx="110.2" cy="208.6" r="0.7" opacity="0.1"/><circle cx="152.4" cy="202.3" r="1" opacity="0.1"/><circle cx="169.9" cy="198" r="0.7" opacity="0.1"/><circle cx="213.5" cy="186.6" r="0.9" opacity="0.1"/><circle cx="250.5" cy="183" r="0.9" opacity="0.1"/><circle cx="197.1" cy="62.5" r="0.5" opacity="0.1"/><circle cx="198.7" cy="109.1" r="0.4" opacity="0.1"/><circle cx="196" cy="147.7" r="0.5" opacity="0.1"/><circle cx="42.7" cy="236.1" r="0.8" opacity="0.1"/><circle cx="66.7" cy="227.2" r="0.7" opacity="0.1"/><circle cx="50.4" cy="301.4" r="0.5" opacity="0.1"/><circle cx="99.5" cy="273.3" r="0.4" opacity="0.1"/><circle cx="122.7" cy="257.3" r="0.5" opacity="0.1"/><circle cx="150.7" cy="237.1" r="0.4" opacity="0.1"/><circle cx="246.2" cy="224.2" r="0.4" opacity="0.1"/><circle cx="511.5" cy="162.7" r="0.8" opacity="0.1"/><circle cx="517.5" cy="186" r="0.5" opacity="0.1"/><circle cx="449.5" cy="94.7" r="0.7" opacity="0.1"/><circle cx="225.4" cy="340" r="0.7" opacity="0.1"/><circle cx="260.6" cy="332.8" r="0.5" opacity="0.1"/><circle cx="291.2" cy="336.5" r="0.7" opacity="0.1"/><circle cx="311.2" cy="341.5" r="0.9" opacity="0.1"/><circle cx="358.7" cy="371.1" r="0.5" opacity="0.1"/><circle cx="217.4" cy="293.6" r="0.6" opacity="0.1"/><circle cx="236.6" cy="292.9" r="0.5" opacity="0.1"/><circle cx="273.2" cy="282.9" r="0.4" opacity="0.1"/><circle cx="387.3" cy="312.8" r="0.7" opacity="0"/><circle cx="434.2" cy="256.6" r="0.4" opacity="0"/><circle cx="470" cy="293.3" r="0.6" opacity="0"/><circle cx="516.1" cy="316.2" r="0.4" opacity="0"/><circle cx="403.2" cy="367.4" r="0.5" opacity="0"/><circle cx="427.2" cy="353.4" r="0.3" opacity="0"/><circle cx="465.8" cy="336.9" r="0.6" opacity="0"/><circle cx="487.9" cy="332.8" r="0.5" opacity="0"/><circle cx="325.7" cy="227.8" r="0.8" opacity="0.1"/><circle cx="306.5" cy="247.4" r="0.7" opacity="0.1"/><circle cx="272.6" cy="284.6" r="1" opacity="0.1"/><circle cx="236.8" cy="321.9" r="0.7" opacity="0.1"/><circle cx="179" cy="301.7" r="0.4" opacity="0"/><circle cx="148.3" cy="298.9" r="0.4" opacity="0"/><circle cx="263.6" cy="176" r="0.4" opacity="0.1"/><circle cx="236.3" cy="164.2" r="0.6" opacity="0.1"/><circle cx="213.7" cy="155" r="0.5" opacity="0.1"/><circle cx="338.4" cy="275.9" r="0.4" opacity="0.1"/><circle cx="437" cy="76.9" r="0.8" opacity="0.1"/><circle cx="502.7" cy="131.5" r="0.6" opacity="0.1"/><circle cx="473.2" cy="150" r="0.5" opacity="0.1"/><circle cx="53.5" cy="216.4" r="0.6" opacity="0.1"/><circle cx="112.1" cy="78.4" r="0.4" opacity="0"/></g><g fill="#f4f4f4"><circle cx="273.2" cy="184.2" r="2.2" opacity="0.3"/><circle cx="244.2" cy="199.6" r="2.2" opacity="0.3"/><circle cx="220.2" cy="214.5" r="3.1" opacity="0.3"/><circle cx="175.7" cy="242.6" r="1.8" opacity="0.3"/><circle cx="135.6" cy="263.5" r="2.6" opacity="0.3"/><circle cx="95.9" cy="283.8" r="2.1" opacity="0.3"/><circle cx="72.4" cy="296" r="2.4" opacity="0.3"/><circle cx="54.1" cy="303.6" r="2" opacity="0.3"/><circle cx="252.3" cy="196.4" r="0.8" opacity="0.1"/><circle cx="226.9" cy="213" r="1.3" opacity="0.1"/><circle cx="498.3" cy="219.9" r="1.5" opacity="0.2"/><circle cx="446.6" cy="222.2" r="1.2" opacity="0.2"/><circle cx="411.5" cy="231.8" r="1.2" opacity="0.2"/><circle cx="391.4" cy="236.9" r="1.7" opacity="0.2"/><circle cx="337.7" cy="250.3" r="1.1" opacity="0.2"/><circle cx="310.3" cy="258.2" r="1.7" opacity="0.2"/><circle cx="274.2" cy="263.9" r="1.7" opacity="0.2"/><circle cx="239.4" cy="270.5" r="1.6" opacity="0.2"/><circle cx="198.8" cy="286.1" r="1.2" opacity="0.2"/><circle cx="147.8" cy="299.7" r="1.4" opacity="0.2"/><circle cx="109.9" cy="306.7" r="1.6" opacity="0.2"/><circle cx="53.2" cy="317.2" r="1.7" opacity="0.2"/><circle cx="498" cy="320.4" r="0.6" opacity="0.1"/><circle cx="475" cy="318.7" r="0.7" opacity="0.1"/><circle cx="418.9" cy="315.9" r="0.4" opacity="0.1"/><circle cx="388.3" cy="311.5" r="0.6" opacity="0.1"/><circle cx="364.9" cy="305.2" r="0.6" opacity="0.1"/><circle cx="313" cy="302" r="1.3" opacity="0.2"/><circle cx="285.6" cy="301" r="0.9" opacity="0.2"/><circle cx="268.4" cy="301" r="0.9" opacity="0.2"/><circle cx="237.3" cy="301.8" r="1" opacity="0.2"/><circle cx="193.8" cy="301.8" r="1.3" opacity="0.2"/><circle cx="158.8" cy="306.8" r="1.3" opacity="0.2"/><circle cx="133.3" cy="310.6" r="1" opacity="0.2"/><circle cx="96.7" cy="317.2" r="0.8" opacity="0.2"/><circle cx="67.3" cy="320.9" r="1.1" opacity="0.2"/><circle cx="68.2" cy="335.9" r="2.3" opacity="0.3"/><circle cx="118.9" cy="341" r="2.2" opacity="0.3"/><circle cx="144.3" cy="341.6" r="3.1" opacity="0.3"/><circle cx="192.8" cy="343.2" r="2" opacity="0.3"/><circle cx="241.6" cy="350.9" r="2.4" opacity="0.3"/><circle cx="292.7" cy="360.7" r="2" opacity="0.3"/><circle cx="313.4" cy="365.6" r="3.2" opacity="0.3"/><circle cx="342.6" cy="372.9" r="2.2" opacity="0.3"/><circle cx="64.5" cy="338.8" r="1.5" opacity="0.2"/><circle cx="91.1" cy="342.6" r="1.9" opacity="0.2"/><circle cx="121.3" cy="344.3" r="1.8" opacity="0.2"/><circle cx="164" cy="346.5" r="1.6" opacity="0.2"/><circle cx="185.4" cy="346.8" r="1.2" opacity="0.2"/><circle cx="220.6" cy="352.2" r="1.2" opacity="0.2"/><circle cx="262.1" cy="358.3" r="1.6" opacity="0.2"/><circle cx="300.3" cy="366.3" r="1.5" opacity="0.2"/><circle cx="331.4" cy="374.2" r="1.7" opacity="0.2"/><circle cx="94.9" cy="347.9" r="1" opacity="0.2"/><circle cx="118.7" cy="347.1" r="1.7" opacity="0.2"/><circle cx="171.4" cy="350.7" r="1.5" opacity="0.2"/><circle cx="226.8" cy="350.9" r="1.4" opacity="0.2"/><circle cx="45.3" cy="357.2" r="1.4" opacity="0.2"/><circle cx="100.6" cy="356.1" r="1.3" opacity="0.2"/><circle cx="126.4" cy="360.1" r="0.9" opacity="0.2"/><circle cx="91.1" cy="362" r="1" opacity="0.1"/><circle cx="115.1" cy="369.6" r="0.6" opacity="0.1"/><circle cx="134.4" cy="378.1" r="0.6" opacity="0.1"/><circle cx="114.3" cy="353.2" r="0.7" opacity="0.1"/><circle cx="147.1" cy="357.1" r="0.7" opacity="0.1"/><circle cx="179.9" cy="367.1" r="0.8" opacity="0.1"/><circle cx="514.8" cy="98.4" r="1.6" opacity="0.2"/><circle cx="466.2" cy="127.5" r="1.5" opacity="0.2"/><circle cx="444.5" cy="142.8" r="1.3" opacity="0.2"/><circle cx="419" cy="159" r="0.9" opacity="0.2"/><circle cx="392.2" cy="174.9" r="1.7" opacity="0.2"/><circle cx="358.2" cy="199.5" r="1.2" opacity="0.2"/><circle cx="340.4" cy="215.3" r="1.6" opacity="0.2"/><circle cx="318.9" cy="230.7" r="1" opacity="0.2"/><circle cx="305.9" cy="243.8" r="1.1" opacity="0.2"/><circle cx="284.4" cy="267" r="0.9" opacity="0.2"/><circle cx="254.6" cy="295.6" r="1.7" opacity="0.2"/><circle cx="222.5" cy="331" r="1.5" opacity="0.2"/><circle cx="174.2" cy="358.4" r="1.4" opacity="0.2"/><circle cx="510.2" cy="108.7" r="1.2" opacity="0.1"/><circle cx="475.9" cy="133.5" r="1.4" opacity="0.1"/><circle cx="447.7" cy="152.2" r="0.9" opacity="0.1"/><circle cx="409.9" cy="174.3" r="1" opacity="0.1"/><circle cx="392.4" cy="186.1" r="1.2" opacity="0.1"/><circle cx="367.6" cy="203.3" r="1" opacity="0.1"/><circle cx="346.8" cy="225.7" r="1.4" opacity="0.1"/><circle cx="313.3" cy="262.9" r="1.4" opacity="0.1"/><circle cx="288.5" cy="280.6" r="1.2" opacity="0.1"/><circle cx="258.2" cy="300.9" r="1.4" opacity="0.1"/><circle cx="223.8" cy="331.3" r="1.1" opacity="0.1"/><circle cx="484" cy="136.4" r="1.3" opacity="0.1"/><circle cx="452.3" cy="154.6" r="0.8" opacity="0.1"/><circle cx="357.2" cy="202.7" r="1.2" opacity="0.1"/><circle cx="339" cy="216.8" r="0.8" opacity="0.1"/><circle cx="300.6" cy="256" r="0.9" opacity="0.1"/><circle cx="267.8" cy="293.9" r="0.7" opacity="0.1"/><circle cx="319.8" cy="141" r="1.3" opacity="0.2"/><circle cx="323.6" cy="95.9" r="1.3" opacity="0.2"/><circle cx="315.4" cy="71" r="1" opacity="0.2"/><circle cx="330.6" cy="132.7" r="1.3" opacity="0.2"/><circle cx="364.1" cy="97" r="1.3" opacity="0.2"/><circle cx="325.5" cy="150" r="1.1" opacity="0.2"/><circle cx="348.1" cy="142.7" r="0.8" opacity="0.2"/><circle cx="406.6" cy="132.7" r="1.2" opacity="0.2"/><circle cx="457.2" cy="117.7" r="1.4" opacity="0.2"/><circle cx="333.7" cy="163.7" r="0.9" opacity="0.2"/><circle cx="357" cy="150.7" r="1.6" opacity="0.2"/><circle cx="406.1" cy="126.9" r="1" opacity="0.2"/><circle cx="422" cy="117.8" r="1" opacity="0.2"/><circle cx="283.3" cy="138.4" r="0.9" opacity="0.1"/><circle cx="301.1" cy="149.7" r="0.6" opacity="0.1"/><circle cx="260.5" cy="66.4" r="0.7" opacity="0.1"/><circle cx="266" cy="97.9" r="0.5" opacity="0.1"/><circle cx="276.9" cy="128.7" r="0.8" opacity="0.1"/><circle cx="279.7" cy="149.9" r="0.5" opacity="0.1"/><circle cx="281.7" cy="169.3" r="0.5" opacity="0.1"/><circle cx="208.7" cy="96.1" r="0.7" opacity="0.1"/><circle cx="228.7" cy="139.5" r="0.5" opacity="0.1"/><circle cx="240.3" cy="175.4" r="0.7" opacity="0.1"/><circle cx="218.3" cy="100.4" r="0.7" opacity="0.1"/><circle cx="261.2" cy="76.9" r="0.7" opacity="0.1"/><circle cx="279.9" cy="63.1" r="0.5" opacity="0.1"/><circle cx="217.3" cy="143.3" r="0.5" opacity="0.1"/><circle cx="237.3" cy="143.8" r="0.6" opacity="0.1"/><circle cx="268.8" cy="144.1" r="0.7" opacity="0.1"/><circle cx="286.5" cy="199.8" r="0.7" opacity="0.1"/><circle cx="295.3" cy="254.1" r="0.5" opacity="0.1"/><circle cx="298.6" cy="286.4" r="0.7" opacity="0.1"/><circle cx="306.5" cy="331.9" r="0.4" opacity="0.1"/><circle cx="320" cy="209.5" r="0.7" opacity="0.1"/><circle cx="309.6" cy="232.2" r="0.5" opacity="0.1"/><circle cx="383" cy="72.8" r="0.7" opacity="0.1"/><circle cx="367.7" cy="90.7" r="0.8" opacity="0.1"/><circle cx="374.4" cy="83.6" r="0.5" opacity="0.1"/><circle cx="54.2" cy="119.1" r="0.6" opacity="0.1"/><circle cx="91.7" cy="99.7" r="0.5" opacity="0.1"/><circle cx="136.8" cy="75.9" r="0.5" opacity="0.1"/><circle cx="152.1" cy="66.3" r="0.6" opacity="0.1"/><circle cx="49.1" cy="173.3" r="0.5" opacity="0.1"/><circle cx="79.6" cy="156.5" r="0.6" opacity="0.1"/><circle cx="106.6" cy="140.8" r="0.5" opacity="0.1"/><circle cx="154" cy="126.7" r="0.6" opacity="0.1"/><circle cx="180.2" cy="118.8" r="0.4" opacity="0.1"/><circle cx="63.4" cy="221.9" r="1" opacity="0.1"/><circle cx="94.9" cy="197.6" r="1" opacity="0.1"/><circle cx="139.1" cy="161.5" r="0.9" opacity="0.1"/><circle cx="162.1" cy="145.3" r="1" opacity="0.1"/><circle cx="204.8" cy="116.1" r="0.6" opacity="0.1"/><circle cx="256.8" cy="84.4" r="0.9" opacity="0.1"/><circle cx="76.8" cy="219.7" r="0.7" opacity="0.1"/><circle cx="114.3" cy="192.1" r="0.6" opacity="0.1"/><circle cx="109" cy="207.3" r="0.7" opacity="0.1"/><circle cx="151.2" cy="201" r="1" opacity="0.1"/><circle cx="168.7" cy="196.7" r="0.7" opacity="0.1"/><circle cx="212.3" cy="185.3" r="0.9" opacity="0.1"/><circle cx="249.4" cy="181.7" r="0.9" opacity="0.1"/><circle cx="196" cy="61.2" r="0.5" opacity="0.1"/><circle cx="197.6" cy="107.8" r="0.4" opacity="0.1"/><circle cx="194.9" cy="146.4" r="0.5" opacity="0.1"/><circle cx="41.5" cy="234.8" r="0.8" opacity="0.1"/><circle cx="65.6" cy="225.9" r="0.7" opacity="0.1"/><circle cx="49.3" cy="300.1" r="0.5" opacity="0.1"/><circle cx="98.3" cy="272" r="0.4" opacity="0.1"/><circle cx="121.6" cy="256" r="0.5" opacity="0.1"/><circle cx="149.5" cy="235.8" r="0.4" opacity="0.1"/><circle cx="245" cy="222.9" r="0.4" opacity="0.1"/><circle cx="510.3" cy="161.4" r="0.8" opacity="0.1"/><circle cx="516.3" cy="184.7" r="0.5" opacity="0.1"/><circle cx="448.4" cy="93.4" r="0.7" opacity="0.1"/><circle cx="224.2" cy="338.7" r="0.7" opacity="0.1"/><circle cx="259.5" cy="331.5" r="0.5" opacity="0.1"/><circle cx="290" cy="335.2" r="0.7" opacity="0.1"/><circle cx="310.1" cy="340.2" r="0.9" opacity="0.1"/><circle cx="357.5" cy="369.8" r="0.5" opacity="0.1"/><circle cx="216.3" cy="292.3" r="0.6" opacity="0.1"/><circle cx="235.4" cy="291.6" r="0.5" opacity="0.1"/><circle cx="272.1" cy="281.6" r="0.4" opacity="0.1"/><circle cx="386.2" cy="311.5" r="0.7" opacity="0.1"/><circle cx="433" cy="255.3" r="0.4" opacity="0.1"/><circle cx="468.9" cy="292" r="0.6" opacity="0.1"/><circle cx="514.9" cy="314.9" r="0.4" opacity="0.1"/><circle cx="402" cy="366.1" r="0.5" opacity="0"/><circle cx="426.1" cy="352.1" r="0.3" opacity="0"/><circle cx="464.6" cy="335.6" r="0.6" opacity="0"/><circle cx="486.8" cy="331.5" r="0.5" opacity="0"/><circle cx="324.5" cy="226.5" r="0.8" opacity="0.1"/><circle cx="305.3" cy="246.1" r="0.7" opacity="0.1"/><circle cx="271.4" cy="283.3" r="1" opacity="0.1"/><circle cx="235.6" cy="320.6" r="0.7" opacity="0.1"/><circle cx="177.8" cy="300.4" r="0.4" opacity="0.1"/><circle cx="147.2" cy="297.6" r="0.4" opacity="0.1"/><circle cx="262.5" cy="174.7" r="0.4" opacity="0.1"/><circle cx="235.1" cy="162.9" r="0.6" opacity="0.1"/><circle cx="212.6" cy="153.7" r="0.5" opacity="0.1"/><circle cx="337.2" cy="274.6" r="0.4" opacity="0.1"/><circle cx="435.8" cy="75.6" r="0.8" opacity="0.1"/><circle cx="501.6" cy="130.2" r="0.6" opacity="0.1"/><circle cx="472" cy="148.7" r="0.5" opacity="0.1"/><circle cx="52.3" cy="215.1" r="0.6" opacity="0.1"/><circle cx="111" cy="77.1" r="0.4" opacity="0.1"/></g></g>
<g filter="url(#bl1)"><circle cx="152.2" cy="66.9" r="3.2" fill="#1c1c1c" opacity="0.2"/><circle cx="151.1" cy="65.7" r="3.2" fill="#f4f4f4" opacity="0.4"/><circle cx="130.6" cy="110.2" r="1.7" fill="#1c1c1c" opacity="0.4"/><circle cx="129.5" cy="109" r="1.7" fill="#f4f4f4" opacity="0.6"/><circle cx="133.4" cy="111.3" r="1.5" fill="#1c1c1c" opacity="0.3"/><circle cx="132.3" cy="110.1" r="1.5" fill="#f4f4f4" opacity="0.6"/><circle cx="136.8" cy="113.4" r="1" fill="#1c1c1c" opacity="0.2"/><circle cx="135.7" cy="112.2" r="1" fill="#f4f4f4" opacity="0.4"/><circle cx="198.4" cy="175.2" r="2.8" fill="#1c1c1c" opacity="0.2"/><circle cx="197.3" cy="174" r="2.8" fill="#f4f4f4" opacity="0.4"/><circle cx="151.3" cy="200.6" r="3" fill="#1c1c1c" opacity="0.3"/><circle cx="150.2" cy="199.3" r="3" fill="#f4f4f4" opacity="0.4"/><circle cx="157.8" cy="166.7" r="1.9" fill="#1c1c1c" opacity="0.2"/><circle cx="156.7" cy="165.5" r="1.9" fill="#f4f4f4" opacity="0.3"/><circle cx="195.6" cy="121.5" r="1.5" fill="#1c1c1c" opacity="0.2"/><circle cx="194.5" cy="120.2" r="1.5" fill="#f4f4f4" opacity="0.3"/><circle cx="75" cy="106.4" r="1.5" fill="#1c1c1c" opacity="0.1"/><circle cx="73.9" cy="105.2" r="1.5" fill="#f4f4f4" opacity="0.2"/><circle cx="54.3" cy="139.4" r="1.5" fill="#1c1c1c" opacity="0.1"/><circle cx="53.2" cy="138.2" r="1.5" fill="#f4f4f4" opacity="0.2"/><circle cx="112.8" cy="200.6" r="1.8" fill="#1c1c1c" opacity="0.2"/><circle cx="111.7" cy="199.3" r="1.8" fill="#f4f4f4" opacity="0.3"/><circle cx="109.8" cy="116.9" r="1.3" fill="#1c1c1c" opacity="0.1"/><circle cx="108.7" cy="115.7" r="1.3" fill="#f4f4f4" opacity="0.2"/><circle cx="86.3" cy="246.3" r="1.8" fill="#1c1c1c" opacity="0.2"/><circle cx="85.2" cy="245.1" r="1.8" fill="#f4f4f4" opacity="0.3"/><circle cx="310.9" cy="65" r="2.6" fill="#1c1c1c" opacity="0.2"/><circle cx="309.8" cy="63.7" r="2.6" fill="#f4f4f4" opacity="0.4"/><circle cx="274.2" cy="111.2" r="1.8" fill="#1c1c1c" opacity="0.2"/><circle cx="273.1" cy="110" r="1.8" fill="#f4f4f4" opacity="0.3"/><circle cx="289.3" cy="123.4" r="1.8" fill="#1c1c1c" opacity="0.2"/><circle cx="288.2" cy="122.2" r="1.8" fill="#f4f4f4" opacity="0.3"/><circle cx="349.5" cy="102.7" r="1.8" fill="#1c1c1c" opacity="0.2"/><circle cx="348.4" cy="101.5" r="1.8" fill="#f4f4f4" opacity="0.3"/><circle cx="328.8" cy="95.1" r="1.4" fill="#1c1c1c" opacity="0.2"/><circle cx="327.7" cy="93.9" r="1.4" fill="#f4f4f4" opacity="0.3"/><circle cx="362.8" cy="138.5" r="2.2" fill="#1c1c1c" opacity="0.2"/><circle cx="361.7" cy="137.2" r="2.2" fill="#f4f4f4" opacity="0.3"/><circle cx="264.8" cy="168.6" r="1.3" fill="#1c1c1c" opacity="0.1"/><circle cx="263.7" cy="167.3" r="1.3" fill="#f4f4f4" opacity="0.2"/><circle cx="361.8" cy="121.5" r="1.4" fill="#1c1c1c" opacity="0.2"/><circle cx="360.7" cy="120.2" r="1.4" fill="#f4f4f4" opacity="0.3"/><circle cx="374" cy="210" r="1.8" fill="#1c1c1c" opacity="0.2"/><circle cx="372.9" cy="208.8" r="1.8" fill="#f4f4f4" opacity="0.3"/><circle cx="229" cy="187.4" r="1.8" fill="#1c1c1c" opacity="0.2"/><circle cx="227.9" cy="186.2" r="1.8" fill="#f4f4f4" opacity="0.3"/><circle cx="317.5" cy="245.4" r="1.6" fill="#1c1c1c" opacity="0.2"/><circle cx="316.4" cy="244.2" r="1.6" fill="#f4f4f4" opacity="0.3"/><circle cx="240.3" cy="334.8" r="1.9" fill="#1c1c1c" opacity="0.2"/><circle cx="239.2" cy="333.5" r="1.9" fill="#f4f4f4" opacity="0.4"/><circle cx="331.7" cy="347.1" r="1.9" fill="#1c1c1c" opacity="0.2"/><circle cx="330.6" cy="345.8" r="1.9" fill="#f4f4f4" opacity="0.3"/><circle cx="456.8" cy="262.9" r="1.5" fill="#1c1c1c" opacity="0.1"/><circle cx="455.7" cy="261.6" r="1.5" fill="#f4f4f4" opacity="0.2"/><circle cx="470.8" cy="271.9" r="1.4" fill="#1c1c1c" opacity="0.1"/><circle cx="469.7" cy="270.6" r="1.4" fill="#f4f4f4" opacity="0.2"/><circle cx="452.8" cy="281.9" r="1.3" fill="#1c1c1c" opacity="0.1"/><circle cx="451.7" cy="280.6" r="1.3" fill="#f4f4f4" opacity="0.2"/><circle cx="485.8" cy="279.9" r="1.3" fill="#1c1c1c" opacity="0.1"/><circle cx="484.7" cy="278.6" r="1.3" fill="#f4f4f4" opacity="0.2"/><circle cx="510.8" cy="293.9" r="1.3" fill="#1c1c1c" opacity="0.1"/><circle cx="509.7" cy="292.6" r="1.3" fill="#f4f4f4" opacity="0.2"/><circle cx="493.8" cy="314.9" r="1.4" fill="#1c1c1c" opacity="0.1"/><circle cx="492.7" cy="313.6" r="1.4" fill="#f4f4f4" opacity="0.2"/><circle cx="461.8" cy="319.4" r="1.4" fill="#1c1c1c" opacity="0.1"/><circle cx="460.7" cy="318.1" r="1.4" fill="#f4f4f4" opacity="0.2"/><circle cx="483.8" cy="324.9" r="1.4" fill="#1c1c1c" opacity="0.1"/><circle cx="482.7" cy="323.6" r="1.4" fill="#f4f4f4" opacity="0.2"/><circle cx="469.8" cy="354.4" r="1.8" fill="#1c1c1c" opacity="0.2"/><circle cx="468.7" cy="353.1" r="1.8" fill="#f4f4f4" opacity="0.3"/><circle cx="416.8" cy="228.9" r="1.8" fill="#1c1c1c" opacity="0.2"/><circle cx="415.7" cy="227.7" r="1.8" fill="#f4f4f4" opacity="0.3"/><circle cx="412.8" cy="235.9" r="1.4" fill="#1c1c1c" opacity="0.1"/><circle cx="411.7" cy="234.7" r="1.4" fill="#f4f4f4" opacity="0.2"/><circle cx="455.8" cy="223.4" r="1.6" fill="#1c1c1c" opacity="0.1"/><circle cx="454.7" cy="222.2" r="1.6" fill="#f4f4f4" opacity="0.2"/><circle cx="432.8" cy="160.9" r="2" fill="#1c1c1c" opacity="0.2"/><circle cx="431.7" cy="159.7" r="2" fill="#f4f4f4" opacity="0.3"/><circle cx="412.8" cy="168.9" r="1.8" fill="#1c1c1c" opacity="0.1"/><circle cx="411.7" cy="167.7" r="1.8" fill="#f4f4f4" opacity="0.3"/><circle cx="440.8" cy="228.9" r="1.5" fill="#1c1c1c" opacity="0.1"/><circle cx="439.7" cy="227.7" r="1.5" fill="#f4f4f4" opacity="0.2"/><circle cx="372.8" cy="208.9" r="1.6" fill="#1c1c1c" opacity="0.1"/><circle cx="371.7" cy="207.7" r="1.6" fill="#f4f4f4" opacity="0.2"/><circle cx="300.8" cy="150.9" r="1.5" fill="#1c1c1c" opacity="0.1"/><circle cx="299.7" cy="149.7" r="1.5" fill="#f4f4f4" opacity="0.2"/><circle cx="59" cy="229.4" r="2.2" fill="#1c1c1c" opacity="0.2"/><circle cx="57.9" cy="228.2" r="2.2" fill="#f4f4f4" opacity="0.4"/><circle cx="105.8" cy="279.9" r="1.6" fill="#1c1c1c" opacity="0.1"/><circle cx="104.7" cy="278.6" r="1.6" fill="#f4f4f4" opacity="0.2"/><circle cx="180.8" cy="242.9" r="1.4" fill="#1c1c1c" opacity="0.1"/><circle cx="179.7" cy="241.7" r="1.4" fill="#f4f4f4" opacity="0.2"/><circle cx="250.8" cy="270.9" r="1.4" fill="#1c1c1c" opacity="0.1"/><circle cx="249.7" cy="269.6" r="1.4" fill="#f4f4f4" opacity="0.2"/><circle cx="350.8" cy="248.9" r="1.4" fill="#1c1c1c" opacity="0.1"/><circle cx="349.7" cy="247.7" r="1.4" fill="#f4f4f4" opacity="0.2"/><circle cx="290.8" cy="302.9" r="1.3" fill="#1c1c1c" opacity="0.1"/><circle cx="289.7" cy="301.6" r="1.3" fill="#f4f4f4" opacity="0.2"/><circle cx="170.8" cy="348.9" r="1.6" fill="#1c1c1c" opacity="0.1"/><circle cx="169.7" cy="347.6" r="1.6" fill="#f4f4f4" opacity="0.2"/></g>
<g filter="url(#bl2)">
<path d="M284 183.5 Q289 176 293 169 Q299 160.5 309 157.5 Q315 156.5 320 161 Q326 167 327.5 176 Q328.5 184 326 188 Q320 192.5 311 191.5 Q298 189.5 284 183.5 Z" fill="#2c2c2c" opacity="0.45" transform="translate(1.6,1.8)"/>
<path d="M284 183.5 Q289 176 293 169 Q299 160.5 309 157.5 Q315 156.5 320 161 Q326 167 327.5 176 Q328.5 184 326 188 Q320 192.5 311 191.5 Q298 189.5 284 183.5 Z" fill="url(#somag)" opacity="0.97"/>
<ellipse cx="319.5" cy="181" rx="7.5" ry="9" fill="#606060" opacity="0.55"/>
<ellipse cx="312" cy="186" rx="10" ry="4.5" fill="#6a6a6a" opacity="0.45"/>
<ellipse cx="303" cy="171" rx="9.5" ry="5.5" fill="#a8a8a8" opacity="0.75" transform="rotate(-38 303 171)"/>
</g>
<g filter="url(#bl2)"><ellipse cx="299.5" cy="168.5" rx="7.5" ry="4.2" fill="#f4f4f4" opacity="0.7" transform="rotate(-42 299.5 168.5)"/>
<path d="M287 181.5 L262 189.5 L262 192 L289 186 Z" fill="#9a9a9a" opacity="0.45"/></g>
<g clip-path="url(#somaclip)"><rect x="280" y="152" width="52" height="44" filter="url(#texw)" opacity="0.17"/><rect x="280" y="152" width="52" height="44" filter="url(#texk)" opacity="0.17"/></g>
<g filter="url(#bl1)"><path d="M290 178 Q294 168.5 301.5 162.5 Q306 159.5 310.5 158.5" stroke="#fff" stroke-width="2.0" fill="none" opacity="0.62" stroke-linecap="round"/>
<path d="M296 187.5 Q310 193 324.5 190.5 Q328.5 186 328.5 178" stroke="#222" stroke-width="1.6" fill="none" opacity="0.35"/></g>
<g filter="url(#bl2)">
<ellipse cx="479" cy="103" rx="17" ry="12.5" fill="#333" opacity="0.5" transform="rotate(20 479 103)"/>
<ellipse cx="474" cy="98" rx="16" ry="11.5" fill="#9a9a9a" opacity="0.95" transform="rotate(20 474 98)"/>
<ellipse cx="467" cy="96" rx="7.5" ry="7" fill="#b6b6b6" opacity="0.8"/>
<ellipse cx="485" cy="105" rx="7" ry="6.5" fill="#5e5e5e" opacity="0.6"/>
<ellipse cx="494.5" cy="82" rx="10" ry="9" fill="#b8b8b8" opacity="0.95"/>
<ellipse cx="491" cy="78" rx="5.5" ry="5" fill="#e0e0e0" opacity="0.9"/>
<ellipse cx="500" cy="79" rx="4" ry="5" fill="#d8d8d8" opacity="0.8"/>
<ellipse cx="493" cy="131" rx="9" ry="8" fill="#989898" opacity="0.55"/>
<ellipse cx="429.5" cy="65.5" rx="8" ry="4.5" fill="#a4a4a4" opacity="0.85"/>
<ellipse cx="431" cy="65" rx="3" ry="2.6" fill="#e6e6e6" opacity="0.9"/>
<ellipse cx="424" cy="64" rx="2.6" ry="2.4" fill="#d0d0d0" opacity="0.8"/>
</g>
<g clip-path="url(#cellclip)"><rect x="452" y="66" width="60" height="56" filter="url(#texw)" opacity="0.17"/><rect x="452" y="66" width="60" height="56" filter="url(#texk)" opacity="0.20"/></g>
<g filter="url(#bl1)"><path d="M457 85.8 L484.5 88.6" stroke="#f4f4f4" stroke-width="2.2" opacity="0.9"/>
<path d="M508 98 L522 92" stroke="#ddd" stroke-width="3" opacity="0.5"/></g>
<polygon points="56,330 124,336 200,340 250,348 246,356 200,352 160,353 80,352 56,350" fill="#fff" opacity="0.08" filter="url(#bl2)"/>
<g filter="url(#bl2)">
<ellipse cx="46" cy="341" rx="22" ry="13" fill="#a8a8a8" opacity="0.8"/>
<ellipse cx="52.5" cy="336" rx="6" ry="8.5" fill="#fafafa" opacity="0.95"/>
<ellipse cx="37.5" cy="337" rx="4" ry="8" fill="#eaeaea" opacity="0.9"/>
<ellipse cx="38" cy="312" rx="6" ry="4" fill="#cfcfcf" opacity="0.75"/>
<path d="M34 362 Q45 359 55 352" stroke="#e8e8e8" stroke-width="2" fill="none" opacity="0.8"/>
<ellipse cx="80" cy="343" rx="22" ry="6" fill="#b8b8b8" opacity="0.35"/>
</g>
<g filter="url(#bl2)">
<ellipse cx="383" cy="389" rx="29" ry="9.5" fill="#a6a6a6" opacity="0.92"/>
<ellipse cx="397" cy="383.5" rx="9.5" ry="4" fill="#fcfcfc" opacity="0.97"/>
<ellipse cx="358.5" cy="385" rx="3.6" ry="6" fill="#f0f0f0" opacity="0.95"/>
<ellipse cx="372" cy="384" rx="8" ry="4" fill="#c4c4c4" opacity="0.8"/>
</g>
<rect x="34" y="56" width="487.6" height="334.6" filter="url(#grain)" opacity="0.16"/>
<rect x="34.5" y="56.5" width="486.6" height="333.6" fill="none" stroke="#303030" stroke-width="1.2" opacity="0.45"/>
</g>
<text class="b" transform="translate(444.7,384.4) scale(1,1.06)" font-size="30">400X</text>
<text class="b" x="608" y="38" font-size="51">B</text>
<g class="ax" stroke-width="4.1">
<path d="M735.6 55 V439.2 H1331.6"/>
<path d="M723.2 92.2 H735.6"/>
<path d="M723.2 143.3 H735.6"/>
<path d="M723.2 194.5 H735.6"/>
<path d="M723.2 245.7 H735.6"/>
<path d="M723.2 296.8 H735.6"/>
<path d="M723.2 348 H735.6"/>
<path d="M723.2 399.1 H735.6"/>
<path d="M863.9 439.2 V451.8"/>
<path d="M1018.9 439.2 V451.8"/>
<path d="M1174.5 439.2 V451.8"/>
<path d="M1329.7 439.2 V451.8"/>
</g>
<text x="696.3" y="105.1" font-size="27.5" text-anchor="middle">40</text>
<text x="696.3" y="156.2" font-size="27.5" text-anchor="middle">20</text>
<text x="699" y="207.4" font-size="27.5" text-anchor="middle">0</text>
<text x="696.3" y="258.6" font-size="27.5" text-anchor="middle">-20</text>
<text x="696.3" y="309.7" font-size="27.5" text-anchor="middle">-40</text>
<text x="696.3" y="360.9" font-size="27.5" text-anchor="middle">-60</text>
<text x="696.3" y="412" font-size="27.5" text-anchor="middle">-80</text>
<text x="734.2" y="477.2" font-size="27.5" text-anchor="middle">0.1</text>
<text x="863.9" y="477.2" font-size="27.5" text-anchor="middle">0.2</text>
<text x="1018.9" y="477.2" font-size="27.5" text-anchor="middle">0.3</text>
<text x="1174.5" y="477.2" font-size="27.5" text-anchor="middle">0.4</text>
<text x="1329.7" y="477.2" font-size="27.5" text-anchor="middle">0.5</text>
<text x="1032.6" y="511.5" font-size="31" text-anchor="middle">Time [s]</text>
<text transform="translate(658.2,245.3) rotate(-90)" font-size="31.4" text-anchor="middle">Membrane potential [mV]</text>
<text x="1021.2" y="74.6" font-size="31" text-anchor="middle">Current injection</text>
<rect x="862.2" y="85.4" width="312.6" height="6.6" fill="#000"/>
<path d="M737 194.3 H1323.6" stroke="#000" stroke-width="1.6" stroke-dasharray="2.2 1.1" fill="none"/>
<g class="tr" stroke-width="2.1">
<polyline points="737.8,339.1 739.1,339 740.3,339.4 741.5,338.8 742.7,338.4 744,338.3 745.2,337.5 746.4,337.5 747.7,338.3 748.9,339.3 750.2,339 751.5,339.5 752.7,339.7 754,341.1 755.3,342 756.5,341.4 757.8,342.5 759,343.2 760.3,343.2 761.6,343.2 762.8,342.7 764.1,341.8 765.4,341.9 766.6,341.1 767.9,340.7 769.2,340.4 770.4,339.8 771.7,339.9 772.9,339.8 774.2,340.5 775.5,340.4 776.7,340.6 778,340.5 779.3,340.7 780.5,340.6 781.8,340.2 783,341.1 784.3,341.6 785.6,341.7 786.8,341.7 788.1,341.2 789.4,341 790.6,341 791.9,340.8 793.1,341.9 794.4,341.9 795.7,342.7 796.9,342.1 798.2,342.6 799.5,342.5 800.7,341.2 802,340.7 803.3,341.3 804.5,340.9 805.8,341.3 807,340.6 808.3,339.7 809.6,339.8 810.8,340 812.1,339.2 813.4,338.4 814.6,338.2 815.9,338.8 817.1,338.7 818.4,337.6 819.7,337.3 820.9,337 822.2,336.7 823.5,337.6 824.7,337.1 826,337.4 827.2,337.3 828.5,337.2 829.8,338 831,337.6 832.3,338.3 833.6,338 834.8,338.3 836.1,338.3 837.4,338.5 838.6,339.5 839.9,339.7 841.1,339 842.4,339.5 843.7,338.7 844.9,338.6 846.2,339.2 847.5,339.1 848.7,338.3 850,339.1 851.2,338.4 852.5,337.7 853.8,337.9 855,337.2 856.3,336.6 857.6,335.8 858.8,335.2 860.1,335.3 861.3,334.7 862.6,334.7 863.9,334.4 865.5,328 866.8,324 868,320 869.2,315 870.5,310 871.9,304.5 873.3,299 875.2,289 876.7,279 877.5,266.5 878.3,228.9 879.2,160.8 879.9,110.6 880.4,99.9 880.9,109.5 882,145.8 883.7,195.4 885.4,245.1 887.2,275.7 889,287.2 890.9,291.2 892.1,290.8 893.4,291.2 894.6,290.8 895.8,291.4 897,291.4 898.3,291 899.5,290.6 900.7,291.2 902,288.1 903.3,285.5 904.6,283.4 906,281.5 907.3,279 908.5,277.3 909.7,276.7 910.9,274.8 912.1,272.9 913.3,271.7 914.5,270.7 915.7,269.1 916.9,267.8 918.1,266.8 919.3,266 920.5,264.3 921.7,263.2 922.9,262.8 924.2,261.3 925.6,259.2 926.9,257.2 928.2,255 929.5,252.4 930.8,249.9 932.1,247.6 933.4,246.8 934.7,243.6 936,240.6 937.3,236 938.6,232.9 939.9,229.4 941.2,225.9 942.9,220.4 944.6,215.6 946.5,211.2 948.5,215.4 950,220.1 951.5,224.9 953,229.2 954.3,232.3 955.6,235.5 956.9,238.9 958.2,241.3 959.5,244.6 960.7,246.8 961.9,248.8 963.1,250.1 964.3,252.1 965.6,254.2 966.8,255 968,256 969.2,256.7 970.4,257.9 971.6,259.1 972.8,259.4 974,261 975.2,262.8 976.5,263.5 977.8,263.8 979.1,263.8 980.4,264.5 981.7,264.9 982.9,265.1 984.2,265 985.5,263.6 986.8,263.6 988.1,262.3 989.4,262.2 990.7,261.7 992,260.8 993.2,260.8 994.5,260.2 995.7,259.8 996.9,259.8 998.2,258.5 999.4,257.3 1000.6,256.8 1001.8,256.8 1003,255.9 1004.2,255.1 1005.4,255.5 1006.6,255.1 1007.8,254.3 1009,254.3 1010.2,253.2 1011.4,252.8 1012.6,251.7 1013.8,251.2 1015.1,251.4 1016.3,251.5 1017.5,251.3 1018.7,250.3 1019.9,249.9 1021.1,249.2 1022.3,248.3 1023.5,248.3 1024.7,248.5 1025.9,248.5 1027.1,248.1 1028.3,248.1 1029.5,246.9 1030.7,246 1032,245.8 1033.2,245.2 1034.4,245.2 1035.6,245.5 1036.8,246 1038,246.1 1039.2,246 1040.4,246.7 1041.6,247.4 1042.8,247 1044,246.3 1045.2,246 1046.4,247.1 1047.6,246.5 1048.9,247.2 1050.1,247.5 1051.3,247.3 1052.5,247.9 1053.7,247.4 1054.9,247.5 1056.1,248.2 1057.3,248.1 1058.5,249.4 1059.7,249.4 1060.9,249.4 1062.1,249.5 1063.4,249.5 1064.7,248.8 1066,248.4 1067.3,247.9 1068.6,247.5 1069.9,247.1 1071.2,246.2 1072.4,244.6 1073.7,243.9 1075,242.8 1076.3,241.6 1077.6,241.8 1077.7,242.8 1078.9,241.6 1080.2,240.8 1081.4,240.2 1082.7,240 1083.9,239.3 1085.2,238.8 1086.4,238.4 1087.7,237.3 1088.9,237.6 1090.2,237.9 1091.5,236.8 1092.7,237.4 1094,237.3 1095.2,236.4 1096.5,236.4 1097.7,236.6 1099,238.3 1100.2,238.9 1101.5,240.1 1102.8,241.8 1104,243 1105.3,244.5 1106.5,245.1 1107.8,246.2 1109,246 1110.3,246.9 1111.5,247.8 1112.8,248.2 1114,248.7 1115.3,248.5 1116.6,249.6 1117.8,250.6 1119.1,251.3 1120.3,251.2 1121.6,251.8 1122.8,251.6 1124.1,251.8 1125.3,251.7 1126.6,250.7 1127.9,249.6 1129.1,249.4 1130.4,249.3 1131.6,249.4 1132.9,248.8 1134.1,247.7 1135.4,248.1 1136.6,247 1137.9,247.4 1139.1,246.5 1140.4,246.1 1141.7,246.8 1142.9,246.3 1144.2,246.1 1145.4,246.6 1146.7,247.1 1147.9,247.6 1149.2,247.7 1150.4,248.2 1151.7,248.3 1153,249.2 1154.2,248.8 1155.5,249 1156.7,249.8 1158,250.2 1159.2,251.3 1160.5,252 1161.7,252.4 1163,253.4 1164.2,253 1165.5,252.4 1166.8,252.2 1168,252.6 1169.3,252.9 1170.5,251.9 1171.8,252.3 1173,252.6 1174.3,251.5 1175.5,258.4 1176.8,265.3 1178.1,272 1179.3,278.7 1180.6,285.6 1181.8,288.4 1183.1,293.1 1184.3,296.5 1185.6,299.9 1186.8,303 1188.1,305.5 1189.3,308 1190.6,310.9 1191.9,311.3 1193.1,312.9 1194.4,314.1 1195.6,316.1 1196.9,317.7 1198.1,318.2 1199.4,318.9 1200.6,319.2 1201.9,320.2 1203.2,321.7 1204.4,322.9 1205.7,323.4 1206.9,323.4 1208.2,323.5 1209.4,324.3 1210.7,325.4 1211.9,325 1213.2,326 1214.4,325.6 1215.7,325.9 1217,326.3 1218.2,327.4 1219.5,327.6 1220.7,328 1222,328.8 1223.2,328.6 1224.5,329.7 1225.7,329.6 1227,329.7 1228.3,329.4 1229.5,329 1230.8,329.3 1232,329.2 1233.3,329 1234.5,328.9 1235.8,329 1237,328.4 1238.3,328.2 1239.5,328.6 1240.8,328.7 1242.1,328.9 1243.3,329.6 1244.6,329.6 1245.8,330.1 1247.1,329.6 1248.3,330.1 1249.6,330.6 1250.8,331.1 1252.1,330.6 1253.4,330.4 1254.6,330.9 1255.9,330.1 1257.1,330.7 1258.4,330.7 1259.6,329.6 1260.9,329.1 1262.1,329.4 1263.4,328.8 1264.6,328.2 1265.9,328.8 1267.2,328.5 1268.4,328.7 1269.7,327.8 1270.9,327.7 1272.2,327.9 1273.4,327 1274.7,326.7 1275.9,327.1 1277.2,327.6 1278.5,327.8 1279.7,326.7 1281,326.7 1282.2,327.1 1283.5,326.8 1284.7,327 1286,326.3 1287.2,325.8 1288.5,325.5 1289.7,325.3 1291,325.9 1292.3,326.1 1293.5,326.3 1294.8,325.7 1296,325.5 1297.3,325.3 1298.5,326.2 1299.8,327.4 1301,328.2 1302.3,327.7 1303.6,327.7 1304.8,329.3 1306.1,329.7 1307.3,330.6 1308.6,330.7 1309.8,331.2 1311.1,331.8 1312.3,331.3 1313.6,331.1 1314.8,330 1316.1,330.2 1317.4,330.3 1318.6,329.2 1319.9,328.8 1321.1,328.9 1322.5,328.5 1323.8,328 1325.2,327.7 1326.6,328 1327.9,327.4 1329.3,328.3 1330.7,328.1"/>
<polyline points="737.8,347.3 739.1,347.7 740.3,348.1 741.5,347.6 742.7,347.2 744,347.6 745.2,347.8 746.4,348.8 747.7,348.7 748.9,348.4 750.2,348.1 751.5,347.9 752.7,346.9 754,346.7 755.3,346.1 756.5,346.6 757.8,345.4 759,345.7 760.3,344.5 761.6,344.6 762.8,344 764.1,344.4 765.4,345.5 766.6,345 767.9,345.1 769.2,346.6 770.4,347 771.7,346.8 772.9,347.8 774.2,348.1 775.5,347.1 776.7,347 778,346.6 779.3,346.6 780.5,347 781.8,346.5 783,347.1 784.3,346.4 785.6,346.2 786.8,347.8 788.1,348.3 789.4,349 790.6,349.9 791.9,350.1 793.1,350.2 794.4,349.8 795.7,350.8 796.9,351.7 798.2,352.3 799.5,352.3 800.7,351.9 802,351.6 803.3,351.8 804.5,351.9 805.8,351.1 807,350.8 808.3,350.8 809.6,351 810.8,351.5 812.1,351 813.4,349.8 814.6,350.2 815.9,349.7 817.1,349.4 818.4,348.6 819.7,348.6 820.9,348.4 822.2,348.9 823.5,348 824.7,348.2 826,347.7 827.2,348.1 828.5,347.3 829.8,347.7 831,348.1 832.3,348.9 833.6,348.6 834.8,349.2 836.1,349.3 837.4,349.6 838.6,350.2 839.9,351.6 841.1,352 842.4,353.2 843.7,352.9 844.9,354.2 846.2,354.4 847.5,354.5 848.7,355.7 850,355.9 851.2,354.6 852.5,354.1 853.8,354.4 855,353.8 856.3,353.2 857.6,352.4 858.8,351.8 860.1,352.2 861.3,352.7 862.6,352.9 863.9,351.5 866,343 867.2,337 868.5,331 870,324.5 871.5,318 873,311.5 874.5,305 875.8,299 877,293 879,281 879.8,268.3 880.6,230.3 881.5,161.5 882.2,110.8 882.7,99.9 883.2,109.8 884.3,147.4 886,198.9 887.7,250.5 889.5,282.2 891.3,294.9 893.2,297.6 894.8,297.9 896.4,298.9 897.9,299.6 899.2,298.4 900.4,298.5 901.6,297.6 902.8,296.5 904,296 905.2,296.2 906.4,295.3 907.6,294.7 908.8,294.6 910,294.3 911.2,293.7 912.4,292.6 913.6,292 914.9,291.9 916.1,291.4 917.3,290.6 918.6,289.6 919.8,288.9 921.1,288.7 922.4,288.2 923.7,286.8 925,286.9 926.3,286.9 927.6,286.5 928.9,286.2 930.1,285.5 931.4,284.2 932.7,283.6 934,282.2 935.3,280.8 936.6,280 937.9,279.3 939.2,279.5 940.4,279 941.7,278.2 943,277.5 944.3,276.2 945.6,275.8 946.9,275.5 948.2,274.6 949.5,273.6 950.7,273 952,272.3 953.3,272.1 954.6,270.9 955.9,270 957.2,269.1 958.5,268.8 959.8,268.2 961,267.3 962.3,266.8 963.6,265.2 965,261.8 966.4,259.5 967.8,257 969.1,253.1 970.5,250 971.8,246.2 973.1,242.9 974.4,235.9 975.7,228.9 977,222 978.4,213.5 979.9,205 981.4,199 983.3,205 984.7,212.8 986.1,220.7 987.4,227.6 988.7,234.6 990,241.6 991.4,246.8 992.7,252 994,257.8 995.3,259.1 996.6,261 997.9,263.6 999.2,265.8 1000.5,267 1001.8,269 1003.1,271.3 1004.4,273 1005.7,274.1 1007,275.1 1008.3,276.5 1009.6,277.1 1011,278 1012.3,278.4 1013.6,279.7 1014.9,280.1 1016.2,281.1 1017.5,281.8 1018.8,281.8 1020.1,281.6 1021.4,281.7 1022.7,282.3 1024,282.2 1025.3,281.9 1026.6,283 1027.9,282.8 1029.2,283.7 1030.6,283.7 1031.8,283 1033,283.1 1034.2,283 1035.4,281.9 1036.6,280.9 1037.8,280.9 1039,281 1040.2,280.5 1041.4,280.4 1042.6,279.5 1043.8,279.2 1045,278.3 1046.2,277.9 1047.5,277.4 1048.7,277 1050,276.6 1051.2,276.8 1052.5,275.7 1053.7,275.1 1055,274.6 1056.2,275.2 1057.5,274.6 1058.7,273.5 1060,273.8 1061.2,273.8 1062.5,273.6 1063.8,272.5 1065,272.4 1066.3,271.5 1067.5,270.6 1068.8,271 1070,270.9 1071.8,264.9 1073,264.2 1074.2,261.9 1075.4,260.5 1076.6,258.7 1077.8,257.4 1079,256.1 1080.2,255.5 1081.5,254 1082.7,251.8 1084,249.7 1085.3,247.9 1086.6,246.8 1087.9,245 1089.2,242.3 1091.5,237.3 1092.7,236.8 1094,236.2 1095.2,235.7 1096.5,235.4 1097.7,237.4 1099,238.8 1100.2,240.6 1101.5,244.1 1102.8,248 1104,251.5 1105.3,255.2 1106.5,257.1 1107.8,259.4 1109,260.8 1110.3,263.4 1111.5,265 1112.8,267.2 1114,269.1 1115.3,271.3 1116.6,271.4 1117.8,271.3 1119.1,271.3 1120.3,271.8 1121.6,272.4 1122.8,273 1124.1,272.4 1125.3,272.2 1126.6,272.3 1127.9,272.4 1129.1,272.6 1130.4,272.8 1131.6,272.9 1132.9,272.7 1134.1,273.3 1135.4,273.4 1136.6,273.9 1137.9,274.1 1139.1,273.7 1140.4,273.8 1141.7,272.4 1142.9,271.9 1144.2,272.5 1145.4,272.1 1146.7,271.5 1147.9,271.8 1149.2,271.1 1150.4,270.6 1151.7,269.8 1153,269 1154.2,268.2 1155.5,268.2 1156.7,268.5 1158,268.4 1159.2,267.8 1160.5,267.4 1161.7,266.2 1163,265.2 1164.2,264.8 1165.5,263.7 1166.8,262.7 1168,260.7 1169.3,259.5 1170.5,258.7 1171.8,257.6 1173,256.3 1174.3,254 1175.7,260.9 1177,267.9 1178.8,279.1 1180.6,290.4 1181.8,295.1 1183.1,299.9 1184.3,304.6 1185.6,309.4 1186.8,312.2 1188.1,315.1 1189.3,318.3 1190.6,321.8 1191.9,322.7 1193.1,324.5 1194.4,326.7 1195.6,328.2 1196.9,328.9 1198.1,330.3 1199.4,331.2 1200.6,333.3 1201.9,334.9 1203.2,335.8 1204.4,336.2 1205.7,336.6 1206.9,336.9 1208.2,336.8 1209.4,336.8 1210.7,337 1211.9,338.1 1213.2,337.8 1214.4,337.9 1215.7,338.1 1217,337.6 1218.2,337.6 1219.5,337.3 1220.7,337.3 1222,337.3 1223.2,337.3 1224.5,338.1 1225.7,337.5 1227,337.3 1228.3,337.6 1229.5,337.3 1230.8,337.3 1232,337.5 1233.3,336.7 1234.5,337.2 1235.8,336.5 1237,336.4 1238.3,337.1 1239.5,337.7 1240.8,337.5 1242.1,336.7 1243.3,336.6 1244.6,336.3 1245.8,336.9 1247.1,336.3 1248.3,335.9 1249.6,336.4 1250.8,336.5 1252.1,336.5 1253.4,336.3 1254.6,336.9 1255.9,336.4 1257.1,337.5 1258.4,337.5 1259.6,337.9 1260.9,338.2 1262.1,339.2 1263.4,340 1264.6,339.9 1265.9,340.6 1267.2,340.8 1268.4,340.5 1269.7,340.5 1270.9,340.3 1272.2,340.3 1273.4,339.7 1274.7,339.2 1275.9,338.5 1277.2,339.3 1278.5,339.5 1279.7,338.9 1281,339.4 1282.2,339.5 1283.5,338.5 1284.7,338.9 1286,338.5 1287.2,338.1 1288.5,337.8 1289.7,337.8 1291,337.3 1292.3,337 1293.5,336.9 1294.8,337.1 1296,337 1297.3,336.8 1298.5,337.7 1299.8,337.5 1301,337.5 1302.3,337.3 1303.6,337.4 1304.8,336.1 1306.1,335.3 1307.3,335.7 1308.6,335.6 1309.8,335.5 1311.1,334.6 1312.3,333.6 1313.6,332.7 1314.8,333.3 1316,333.3 1317.3,332.8 1318.5,332.9 1319.7,332 1320.9,331.8 1322.1,332.2 1323.3,331.1 1324.6,331.2 1325.8,330.5 1327,331 1328.2,331.2 1329.4,330.8 1330.7,330.1"/>
<polyline points="737.8,351.4 739.1,352 740.3,352.4 741.5,352.9 742.8,352.2 744,352 745.2,351.9 746.5,352 747.7,352.9 748.9,352.5 750.2,352.5 751.5,351.8 752.7,351.4 754,351.3 755.3,351.6 756.5,351.2 757.8,350 759,349.6 760.3,349.1 761.6,349.9 762.8,350.3 764.1,350.4 765.4,350.4 766.6,350.3 767.9,350.5 769.2,350.3 770.4,349.4 771.7,349.8 772.9,349.6 774.2,350 775.5,349.9 776.7,349.8 778,349.7 779.3,349.8 780.5,349.7 781.8,349.4 783,350.4 784.3,350.9 785.6,351.5 786.8,351.4 788.1,351.3 789.4,351.6 790.6,350.9 791.9,351.4 793.1,351.5 794.4,351.2 795.7,351.1 796.9,351.6 798.2,351.6 799.5,351.9 800.7,352.4 802,352.4 803.3,352.1 804.5,352.6 805.8,352.5 807,352.3 808.3,352.2 809.6,352.3 810.8,351.9 812.1,352.5 813.4,353.2 814.6,352.7 815.9,352.9 817.1,353.3 818.4,352.2 819.7,351.8 820.9,352.5 822.2,353 823.5,352.9 824.7,352.2 826,352.2 827.2,352.8 828.5,353.2 829.8,353.5 831,352.9 832.3,353.6 833.6,353.4 834.8,353.9 836.1,353.5 837.4,354.6 838.6,354.7 839.9,355.5 841.1,355.4 842.4,356.3 843.7,357 844.9,357.7 846.2,358 847.5,358.1 848.7,357.5 850,357 851.2,356.5 852.5,356.9 853.8,356.1 855,355.7 856.3,355.2 857.6,355.6 858.8,355.5 860.1,355.3 861.3,354.3 862.6,354.2 863.9,354.3 866,347 867.5,340.5 869,334 870.5,327.5 872,321 873.8,314 875.5,307 877,301 878.5,295 879.9,289 881.3,283 882.1,270.2 882.9,231.7 883.8,162.2 884.5,110.9 885,99.9 885.5,109.8 886.6,147.2 888.3,198.4 890,249.7 891.8,281.2 893.6,294.4 895.5,297.5 896.9,297.1 898.2,297.6 899.6,298.2 901,297.8 902.4,298.1 903.7,298.1 905,297.4 906.2,297 907.4,296.5 908.7,296.3 909.9,295.5 911.1,295.5 912.3,294.9 913.6,295.3 914.8,295.2 916,294 917.3,294.4 918.6,293.5 919.8,293.2 921.1,292.9 922.4,292.2 923.7,291.6 925,291.2 926.3,290.4 927.6,290.8 928.9,289.6 930.1,289.7 931.4,288.5 932.7,287.7 934,287.2 935.3,286 936.6,285.3 937.9,285 939.2,284.7 940.4,285 941.7,285 943,283.3 944.3,283 945.6,281.9 946.9,282.1 948.2,281.2 949.5,281.1 950.7,280.1 952,278.6 953.3,277.3 954.6,276.6 955.9,276.7 957.1,275.3 958.3,274.6 959.5,273.7 960.7,272.8 961.9,272.6 963.1,271.2 964.3,270.8 965.6,270.1 966.8,269.5 968,268.1 969.2,267.4 970.4,265.8 971.6,264.7 972.8,263.6 974,262.9 975.2,262 976.7,257.1 978.1,252.7 979.6,249.4 980.9,244.8 982.2,240.2 983.5,235.7 984.8,231.1 986.1,222.4 987.4,213.7 988.7,205 990,200.4 991.4,195.8 993.4,202.4 995.3,215.4 997,227.2 998.7,238.9 1000.2,248.1 1001.8,257.6 1003.1,261.1 1004.4,264.9 1005.7,268.3 1007,271.2 1008.3,275 1009.6,277.8 1011,279.1 1012.3,281.5 1013.6,282.6 1014.9,283.7 1016.2,285.6 1017.5,286.8 1018.8,287.5 1020.1,288.6 1021.4,290.2 1022.7,291.8 1023.9,292.7 1025.1,292.1 1026.3,292.6 1027.5,292.8 1028.7,292.2 1029.9,292.7 1031.2,292.6 1032.4,292.1 1033.6,291.4 1034.8,291.4 1036,291.9 1037.2,291.6 1038.4,290.9 1039.6,290.6 1040.8,290.4 1042,289.8 1043.3,289.8 1044.5,288.9 1045.7,289.5 1046.9,288.7 1048.1,288 1049.3,288.2 1050.6,287.8 1051.8,288.2 1053,287.8 1054.2,287.4 1055.4,287.5 1056.6,286.5 1057.8,286.7 1059.1,286.4 1060.3,285.8 1061.5,286.2 1062.7,284.8 1063.9,285.2 1065.1,284.2 1066.4,284.6 1067.6,283.6 1068.8,282.9 1070,283.4 1070.1,282.1 1071.4,281 1072.6,280.6 1073.9,280.3 1075.1,279.3 1076.4,279 1077.7,277.9 1078.9,277.7 1080.2,277.8 1081.4,277 1082.7,276.2 1083.9,275.1 1085.2,275.1 1086.4,274.4 1087.7,274.4 1088.9,273.8 1090.2,272.2 1091.5,272.3 1092.7,272 1094,271.3 1095.2,270.7 1096.5,269.8 1097.7,269 1099,268.5 1100.2,267.9 1101.5,266.9 1102.8,266 1104,266.2 1105.3,265.9 1106.5,264.8 1107.8,264.9 1109,264.6 1110.3,264.2 1111.5,263.4 1112.8,262.6 1114,261 1115.3,260.3 1116.6,258.9 1117.8,257.7 1119.1,256.4 1120.3,255.9 1121.6,253 1122.8,251 1124.1,247.9 1125.3,245.6 1126.6,242.8 1128,236.9 1129.4,231 1130.9,225.2 1132.6,215.8 1134.4,206.1 1135.9,203.5 1137.4,200.6 1138.6,204.8 1139.9,207.6 1141.7,217.7 1143.4,227.7 1144.8,236.1 1146.1,244.4 1147.4,252.8 1148.9,258.2 1150.3,263.7 1151.7,268.5 1153,271.6 1154.2,273.2 1155.5,276.1 1156.7,277.7 1158,279.5 1159.2,281.2 1160.5,281.2 1161.7,281.7 1163,282.3 1164.2,283 1165.5,284.2 1166.8,284.2 1168,284.2 1169.3,284 1170.5,284.9 1171.8,284.5 1173,284.6 1174.3,285.4 1175.5,291.7 1176.8,298 1178.1,302.2 1179.3,306.3 1180.6,311.2 1181.8,313.9 1183.1,315.5 1184.3,317.4 1185.6,320.4 1186.8,323 1188.1,325.6 1189.3,327.6 1190.6,328.6 1191.9,330.6 1193.1,332.1 1194.4,333.6 1195.6,334.9 1196.9,336.5 1198.1,338.5 1199.4,340.3 1200.6,342.5 1201.9,342.1 1203.2,342.6 1204.4,342.1 1205.7,342.7 1206.9,342.5 1208.2,343.4 1209.4,344.2 1210.7,343.6 1211.9,344.2 1213.2,343.8 1214.4,343.8 1215.7,343.7 1216.9,344 1218.1,343.7 1219.3,344.5 1220.5,344.7 1221.7,344.6 1222.9,345 1224.1,344.5 1225.3,344.4 1226.5,344.5 1227.8,344 1229,345.1 1230.2,344.5 1231.4,344.2 1232.6,345.1 1233.8,345.6 1235,345.4 1236.2,345.2 1237.4,344.8 1238.6,344.4 1239.8,344.9 1241,344.9 1242.2,344.7 1243.4,345.7 1244.6,345 1245.8,345.2 1247.1,345 1248.3,344.6 1249.6,343 1250.8,342.8 1252.1,342.1 1253.4,341.4 1254.6,341.2 1255.9,340.5 1257.1,339.4 1258.4,338.8 1259.6,339.4 1260.9,340.2 1262.1,341.5 1263.4,342.4 1264.6,342.9 1265.9,343.1 1267.2,344.8 1268.4,345.5 1269.7,345.5 1270.9,345.4 1272.2,345.7 1273.4,345.7 1274.7,346.4 1275.9,346.4 1277.2,346.4 1278.5,346.8 1279.7,346.5 1281,346.5 1282.2,346.9 1283.5,347 1284.7,347.2 1286,347.5 1287.2,347.2 1288.5,347.1 1289.7,346.6 1291,346.4 1292.3,346.2 1293.5,346 1294.8,346.3 1296,345 1297.3,344.6 1298.5,344.8 1299.8,344.3 1301,344.4 1302.3,343.3 1303.6,343.4 1304.8,342.4 1306.1,341.8 1307.3,340.3 1308.6,339.7 1309.8,339.6 1311.1,339.1 1312.3,338.2 1313.6,337.2 1314.8,335.7 1316.1,335.6 1317.3,335.5 1318.5,335.9 1319.7,335.9 1321,335.6 1322.2,336.2 1323.4,335.4 1324.6,336.2 1325.8,335.3 1327,336.1 1328.2,336 1329.4,335.7 1330.7,335.6"/>
<polyline points="737.8,354.4 739.1,354.9 740.3,355 741.5,355.4 742.8,354.7 744,354.2 745.2,354.6 746.4,354.7 747.7,354.2 748.9,354.3 750.2,353.8 751.5,354 752.7,353 754,352.5 755.3,353.2 756.5,352.6 757.8,352 759,352.7 760.3,352.9 761.6,352.3 762.8,352.6 764.1,352.9 765.4,352.4 766.6,352.9 767.9,352.4 769.2,352.5 770.4,352.2 771.7,352.7 772.9,354.4 774.2,354.6 775.5,355.9 776.7,355.9 778,356.5 779.3,356.4 780.5,355.9 781.8,354.6 783,354.4 784.3,354.1 785.6,353.1 786.8,352.3 788.1,353.1 789.4,353 790.6,352.4 791.9,352.4 793.1,352.1 794.4,352.7 795.7,352.5 796.9,352.2 798.2,353.2 799.5,352.9 800.7,353.1 802,353 803.3,354.2 804.5,354 805.8,354.7 807,354.5 808.3,355.2 809.6,355.8 810.8,356 812.1,356 813.4,356.2 814.6,356.3 815.9,356.6 817.1,356.1 818.4,356.5 819.7,356.2 820.9,356.8 822.2,357.2 823.5,356.1 824.7,355.6 826,356.1 827.2,356 828.5,355.2 829.8,355.7 831,356.2 832.3,356.1 833.6,356.1 834.8,356.6 836.1,357.5 837.4,357.1 838.6,357.2 839.9,357.2 841.1,358 842.4,358.3 843.7,358.3 844.9,358.7 846.2,358.5 847.5,359 848.7,360.3 850,360.6 851.2,360.5 852.5,362 853.8,362.4 855,362.8 856.3,363.2 857.6,363.9 858.8,364.8 860.1,365.5 861.3,367.1 862.6,367.3 863.9,368.2 866,360 867.5,353.5 869,347 870.3,342.3 871.7,337.7 873,333.1 874.2,329.7 875.5,326.7 876.8,323.2 878,319.4 879.2,316.9 880.5,313.6 881.8,310.7 883,308.6 884.2,306.4 885.5,304.6 886.7,302 887.9,300.6 889.3,299 890.6,296.9 892,296.1 893.3,294 894.6,291.9 896.2,289 897,275.6 897.8,235.5 898.7,162.8 899.4,109.3 899.9,97.8 900.4,108 901.5,146.7 903.2,199.8 904.9,252.8 906.7,285.4 908.5,298.3 910.4,301.4 911.8,303 913.1,304.8 914.5,306.6 915.9,309.3 917.3,310.8 918.6,311.5 919.8,311.4 921.1,312 922.4,312.4 923.7,312.3 925,313.2 926.3,313.4 927.6,313.4 928.9,312.8 930.1,313.1 931.4,313.2 932.7,313.6 934,314.6 935.3,315.1 936.6,314.3 937.9,314.9 939.2,315.7 940.4,315.6 941.7,313.9 943,313.8 944.3,312.6 945.6,312.3 946.9,311.6 948.2,310.7 949.5,309.9 950.7,307.7 952,307.1 953.3,305.6 954.6,304.1 955.9,303.2 957.2,303.2 958.6,302.1 959.9,302.1 961.2,302.3 962.5,301.9 963.9,301.5 965.2,300.8 966.5,301.3 967.8,300.3 969.1,299.9 970.5,299.4 971.8,297.8 973.1,298.2 974.4,296.9 975.7,297.1 977,296 978.3,294.9 979.6,293.5 980.9,291.6 982.2,290 983.5,288.4 984.8,287.8 986.1,285.6 987.7,280.7 989.3,276.8 990.8,257.2 991.9,220.7 992.9,155.3 994,108.8 995,142.3 996.6,194.5 998.1,231.1 999.7,257.2 1001.8,288.6 1003.1,297.7 1004.4,307.3 1005.7,310 1007,313.3 1008.3,316.9 1009.6,316.8 1010.8,316.7 1012,316.6 1013.2,318 1014.4,318.4 1015.6,318.7 1016.8,319.2 1018,319.2 1019.3,319.5 1020.5,320 1021.7,320.4 1022.9,321.8 1024.1,321.8 1025.3,321.8 1026.6,322.6 1027.9,322.4 1029.2,321.5 1030.6,321.9 1031.9,322 1033.2,322 1034.5,322 1035.8,321.5 1037.1,320.8 1038.4,321.2 1039.7,321.3 1041,321.4 1042.2,320.8 1043.5,320.7 1044.8,321.1 1046.1,320.9 1047.4,321.1 1048.6,321 1049.9,321.4 1051.2,321 1052.5,321 1053.8,321.5 1055.1,321 1056.3,320.6 1057.6,321.1 1058.8,320.7 1060.1,321.5 1061.3,321.1 1062.6,321.9 1063.8,321.7 1065.1,321.1 1066.4,321.4 1067.6,321.8 1068.9,321.7 1070.1,321.9 1071.4,321.7 1072.6,322.4 1073.9,321.6 1075.1,322 1076.4,321 1077.7,321.2 1078.9,320.6 1080.2,320.4 1081.4,320.9 1082.7,321.5 1083.9,320.9 1085.2,320.7 1086.4,320.7 1087.7,320.8 1088.9,320.5 1090.2,320.3 1091.5,320.6 1092.7,320.2 1094,319.5 1095.2,319.7 1096.5,319.9 1097.7,319 1099,317.9 1100.2,317.5 1101.5,318 1102.8,317.1 1104,316.5 1105.3,316.9 1106.5,316.1 1107.8,316.6 1109,315.9 1110.3,315.7 1111.5,315.7 1112.8,315 1114,315.4 1115.3,315.1 1116.6,315.3 1117.8,315.3 1119.1,314.2 1120.3,314.6 1121.6,315.3 1122.8,315.1 1124.1,315.7 1125.3,315.6 1126.6,316.3 1127.9,317.1 1129.1,317.2 1130.4,317.7 1131.6,317.6 1132.9,318.8 1134.1,318.5 1135.4,318.5 1136.6,317.2 1137.9,317.3 1139.1,316.3 1140.4,316.3 1141.7,315.6 1142.9,316.1 1144.2,315 1145.4,314.8 1146.7,314.5 1147.9,314 1149.2,313.4 1150.4,313.8 1151.7,314.4 1153,313.7 1154.2,314 1155.5,313.3 1156.7,312.8 1158,312.7 1159.2,313.3 1160.5,313.2 1161.7,312.9 1163,311.7 1164.2,311.7 1165.5,310.9 1166.8,310.5 1168,310.6 1169.3,310.4 1170.5,310 1171.8,310.3 1173,310.5 1174.3,315.5 1175.5,320.6 1176.8,325.6 1178.1,330.6 1179.3,336.2 1180.6,338.3 1181.8,340.5 1183.1,343.5 1184.3,345.9 1185.6,347.9 1186.8,349.2 1188.1,351 1189.3,351.4 1190.6,353.5 1191.9,354.6 1193.1,356.2 1194.4,356.8 1195.6,357.5 1196.9,358.5 1198.1,359.4 1199.4,361.5 1200.6,361.9 1201.9,362.8 1203.2,364.4 1204.4,364.6 1205.7,365.1 1206.9,365.7 1208.2,366.3 1209.4,366.6 1210.7,368.1 1211.9,369 1213.2,369.3 1214.4,370.6 1215.7,371.1 1217,371.3 1218.2,372.9 1219.5,373 1220.7,374.3 1222,375.3 1223.2,375.1 1224.5,376.6 1225.7,377.1 1227,377.6 1228.3,378.8 1229.5,378.9 1230.8,378.9 1232,379 1233.3,380.4 1234.5,380.8 1235.8,380.6 1237,380.2 1238.3,380.2 1239.5,379.9 1240.8,379.5 1242.1,378.3 1243.3,377.9 1244.6,376.6 1245.8,375.3 1247.1,375.1 1248.3,373.8 1249.6,374.2 1250.8,373.2 1252.1,372.5 1253.4,371.6 1254.6,370.9 1255.9,370.6 1257.1,371.6 1258.4,371.2 1259.6,371.7 1260.9,372 1262.1,373.5 1263.4,373.7 1264.6,374 1265.9,375.1 1267.2,374.8 1268.4,374.6 1269.7,374.6 1270.9,374.5 1272.2,375.1 1273.4,374.9 1274.7,375.1 1275.9,375.4 1277.2,375.9 1278.5,376.1 1279.7,375.9 1281,376.6 1282.2,376.9 1283.5,377.1 1284.7,377 1286,376.6 1287.2,376.3 1288.5,376.9 1289.7,376.7 1291,377.1 1292.3,376.8 1293.5,376.7 1294.8,376.2 1296,377 1297.3,376 1298.5,375.5 1299.8,375.2 1301,374.9 1302.3,374.6 1303.6,373.7 1304.8,372.3 1306.1,372.2 1307.3,370.6 1308.6,370 1309.8,370.1 1311.1,369.7 1312.3,368.8 1313.6,369.1 1314.8,368.3 1316.1,367.8 1317.4,367.9 1318.6,368.9 1319.9,368.2 1321.1,368.2 1322.5,368.8 1323.8,368.8 1325.2,369.9 1326.6,369.5 1327.9,369.4 1329.3,370.8 1330.7,370.8"/>
<polyline points="737.8,360 739.1,359.4 740.3,360.4 741.5,360.2 742.7,361.5 743.9,361 745.2,362.2 746.4,362.6 747.7,363.2 748.9,363.9 750.2,363.3 751.5,363.3 752.7,364 754,363.3 755.3,362.9 756.5,362.5 757.8,363 759,363.2 760.3,363.1 761.6,362.1 762.8,362.5 764.1,362 765.4,361.3 766.6,361.2 767.9,361 769.2,360.4 770.4,360.7 771.7,360.4 772.9,360.6 774.2,361.7 775.5,362.2 776.7,362.3 778,363.3 779.3,364.3 780.5,364.3 781.8,365.5 783,365.1 784.3,365.5 785.6,366.1 786.8,368 788.1,368.9 789.4,369.8 790.6,370 791.9,370 793.1,370.5 794.4,369.6 795.7,369.1 796.9,368.7 798.2,369.1 799.5,369.8 800.7,369.6 802,368.6 803.3,367.9 804.5,366.6 805.8,366.7 807,365.5 808.3,364.3 809.6,363.5 810.8,363.4 812.1,361.7 813.4,363.2 814.6,363.4 815.9,364.1 817.1,364.3 818.4,365.9 819.7,366.9 820.9,367.2 822.2,367.1 823.5,368 824.7,368.5 826,369.8 827.2,370.9 828.5,371.5 829.8,371.4 831,371.4 832.3,372.9 833.6,374 834.8,373.8 836.1,374.5 837.4,375.1 838.6,376.4 839.9,375.7 841.1,375.5 842.4,376.6 843.7,376.9 844.9,377 846.2,377.6 847.5,377.8 848.7,378.1 850,376.8 851.2,375.5 852.5,374.4 853.8,374 855,373.8 856.3,373 857.6,372.5 858.8,372.4 860.1,372.3 861.3,371.9 862.6,371 863.9,370.7 866,364.6 867.3,360.9 868.7,357 870,351.8 871.2,349.1 872.5,345.9 873.8,342.8 875,339.9 876.2,337 877.4,334.6 878.6,333.2 879.8,330.3 881,328.6 882.4,326.5 883.8,324 885.2,321.7 886.6,320 888,318.3 889.4,316.3 890.8,314.1 892.2,312.4 893.6,311.7 895,310.4 896.4,308.2 897.8,307.5 899.2,306.1 900.6,304.3 902,303.5 903.2,301.7 904.4,300.3 905.6,299.4 906.8,299.1 908,298.1 909.2,297 910.5,296.6 911.8,295.1 913,294.5 914.2,292.5 915.5,292.2 917.4,290 918.2,276.7 919,236.8 919.9,164.5 920.6,111.3 921.1,99.9 921.6,110.4 922.7,150.2 924.4,204.7 926.1,259.2 927.9,292.7 929.7,305.8 931.6,309.3 932.8,310.8 934.1,311.8 935.3,313.8 936.6,315.6 937.9,315.5 939.2,316.4 940.4,317.1 941.7,316.7 943,316.1 944.3,315.5 945.6,314.9 946.9,314.7 948.2,315.6 949.5,313.8 950.7,313.7 952,312.8 953.3,312 954.6,310.1 955.9,309.5 957.1,308.3 958.3,308 959.5,307.7 960.7,307.1 961.9,306.1 963.1,305.8 964.3,304.3 965.6,303.1 966.8,303.2 968,301.7 969.2,301.1 970.4,300.4 971.6,300.4 972.8,299.3 974,298.7 975.2,297.9 976.5,296.8 977.8,295.6 979.1,294.5 980.4,293.6 981.7,292.4 982.9,291.3 984.2,290.9 985.5,290.2 986.8,288.2 988.7,279.4 990,276.6 991.4,274.7 992.7,273.7 994,271.3 995.7,267.1 997.4,262.5 999.7,246.8 1001.8,220.7 1003.9,184.1 1006,152.7 1007.8,176.2 1010.2,215.4 1012.3,246.8 1013.6,258.5 1014.9,270.3 1016.2,279.4 1017.5,289.1 1018.8,290.5 1020.1,293.5 1021.4,295.3 1022.7,297.4 1024,300.2 1025.3,302.1 1026.6,302 1027.9,301.6 1029.2,301.5 1030.6,302.3 1031.9,302.4 1033.2,302.7 1034.5,303 1035.8,303.2 1037.1,302.8 1038.4,303.5 1039.7,302.8 1041,301.8 1042.3,302.1 1043.6,302.1 1044.9,300.8 1046.2,301.1 1047.5,300.7 1048.8,299.7 1050.1,299.5 1051.5,299.7 1052.7,298.3 1053.9,298.1 1055.2,297.2 1056.4,296.3 1057.6,296.7 1058.9,296.8 1060.1,296 1061.4,295.6 1062.6,294.6 1063.8,293.8 1065.1,293.5 1066.3,293.3 1067.5,292.8 1068.8,292 1070,291.2 1070.1,290.5 1071.4,290.9 1072.6,291.1 1073.9,291.1 1075.1,290.4 1076.4,290.2 1077.7,290.9 1078.9,290.4 1080.2,290.5 1081.4,289.7 1082.7,289.4 1083.9,289.3 1085.2,289.9 1086.4,289.6 1087.7,290 1088.9,289.4 1090.2,289.9 1091.5,289.9 1092.7,289.2 1094,288.6 1095.2,288.3 1096.5,288.3 1097.7,287.7 1099,287.3 1100.2,287.9 1101.5,288.2 1102.8,287.1 1104,286.9 1105.3,286.9 1106.5,287.3 1107.8,286.9 1109,286.6 1110.3,286.7 1111.5,286.7 1112.8,286.6 1114,286.3 1115.3,286.4 1116.6,285.2 1117.8,285.7 1119.1,285 1120.3,284.8 1121.6,284.7 1122.8,284.8 1124.1,284.9 1125.3,284.8 1126.6,284.4 1127.9,284.1 1129.1,284.4 1130.4,284.8 1131.6,284.5 1132.9,283.8 1134.1,284.7 1135.4,285.3 1136.6,285.6 1137.9,285.5 1139.1,285.2 1140.4,284.6 1141.7,285.6 1142.9,285.5 1144.2,285 1145.4,285.6 1146.7,285.1 1147.9,285.4 1149.2,285.9 1150.4,286.4 1151.7,286.1 1153,285.7 1154.2,285.7 1155.5,286.5 1156.7,285.8 1158,285.6 1159.2,285.8 1160.5,286.8 1161.7,287.2 1163,287.6 1164.2,286.5 1165.5,286.6 1166.8,285.7 1168,285.6 1169.3,285.6 1170.5,285 1171.8,284.7 1173,284.3 1174.3,283.4 1175.5,289.4 1176.8,295.5 1178.1,300.5 1179.3,305.5 1180.6,311.6 1181.8,314.9 1183.1,318.1 1184.3,321.1 1185.6,323.9 1186.8,326.5 1188.1,328.5 1189.3,329.4 1190.6,331.6 1191.9,333.3 1193.1,334.1 1194.4,336.1 1195.6,337.6 1196.9,338.7 1198.1,338.8 1199.4,339.6 1200.6,340.4 1201.9,342.4 1203.2,342.9 1204.4,343 1205.7,343.5 1206.9,343.3 1208.2,343.5 1209.4,343.7 1210.7,343.4 1211.9,344.1 1213.2,344.1 1214.4,344.2 1215.7,344.3 1217,344.4 1218.2,343.8 1219.5,344.8 1220.7,345.4 1222,344.6 1223.2,344.7 1224.5,344.5 1225.7,344.5 1227,345.2 1228.3,345.5 1229.5,345.3 1230.8,345.8 1232,346.5 1233.3,346.1 1234.5,346.7 1235.8,347.1 1237,347.7 1238.3,348.3 1239.5,348.5 1240.8,348 1242.1,346.7 1243.3,346.1 1244.6,345.3 1245.8,345.7 1247.1,344.8 1248.3,344.4 1249.6,344.6 1250.8,344.2 1252.1,344.7 1253.4,344.4 1254.6,344.1 1255.9,343.2 1257.1,342.8 1258.4,343.2 1259.6,343.5 1260.9,344 1262.1,344.9 1263.4,345.2 1264.6,345.8 1265.9,345.6 1267.2,345.3 1268.4,345.6 1269.7,346.6 1270.9,346.2 1272.2,346 1273.4,345.8 1274.7,347.2 1275.9,346.8 1277.2,346.5 1278.5,346.8 1279.7,346.6 1281,347.5 1282.2,347.7 1283.5,347.3 1284.7,347.4 1286,346.3 1287.2,346.8 1288.5,346.7 1289.7,346.7 1291,345.8 1292.3,346.4 1293.5,346.6 1294.8,345.9 1296,345.2 1297.3,345 1298.5,345.1 1299.8,344.7 1301,344.5 1302.3,345.4 1303.6,345.7 1304.8,345.5 1306.1,346.3 1307.3,346.7 1308.6,346 1309.8,346.4 1311.1,346.5 1312.3,346.5 1313.5,346.5 1314.8,347.2 1316,347.2 1317.2,346.7 1318.4,346.2 1319.6,346 1320.9,346.3 1322.1,346.7 1323.3,346.8 1324.5,346.7 1325.8,346.9 1327,346.6 1328.2,347.4 1329.4,346.8 1330.7,346.9"/>
<polyline points="737.8,381.9 739.1,382.3 740.3,382.6 741.5,383 742.7,383.3 744,384 745.2,384 746.4,384.7 747.7,383.4 748.9,383 750.2,382.6 751.5,381.8 752.7,382 754,381.8 755.3,382.4 756.5,382.9 757.8,382.1 759,382.7 760.3,382.8 761.6,382.7 762.8,381.7 764.1,381.1 765.4,380.6 766.6,379.5 767.9,378.4 769.2,377.6 770.4,376.7 771.7,376.7 772.9,375.6 774.2,374.2 775.5,373.1 776.7,372.3 778,370.3 779.3,368.2 780.5,368.8 781.8,368.7 783,368.3 784.3,367.6 785.6,366.5 786.8,365.7 788.1,365.2 789.4,365 790.6,364 791.9,364.2 793.1,364.1 794.4,362.8 795.7,363.1 796.9,362.5 798.2,362.5 799.5,361.9 800.7,361.8 802,361.2 803.3,360.9 804.5,360.4 805.8,359.4 807,358.9 808.3,358.6 809.6,359.5 810.8,360.2 812.1,361.1 813.4,362 814.6,362 815.9,362 817.1,362.4 818.4,363.3 819.7,363.6 820.9,363.7 822.2,363.6 823.5,362.5 824.7,361.6 826,361 827.2,360.6 828.5,360.1 829.8,360.5 831,361 832.3,360.7 833.6,361.6 834.8,362.6 836.1,363 837.4,362.6 838.6,363.3 839.9,363.4 841.1,363.6 842.4,363.7 843.7,364.8 844.9,366.1 846.2,365.9 847.5,365.2 848.7,365 850,364.2 851.2,364.2 852.5,364.4 853.8,363.9 855,362.9 856.3,362.1 857.6,362.1 858.8,362.7 860.1,363.3 861.3,363 862.6,362.2 863.9,361.9 865.4,359.8 867,357.2 868.2,354.8 869.5,352.9 870.8,351.5 872,348.7 873.3,347.6 874.6,346.1 876,343.9 877.3,341.5 878.6,339.4 879.8,338.4 881.1,337.4 882.3,336.2 883.5,334 884.8,332.4 886,330.2 887.4,329 888.7,327.7 890,326.1 891.4,324.6 892.8,324.4 894.1,322.7 895.4,321.7 896.7,320.8 898,319.7 899.3,318.7 900.5,317.6 901.8,316.5 903.1,314.8 904.4,314.3 905.7,313.5 907,313.5 908.3,312.8 909.6,312.5 910.9,312.8 912.1,312.7 913.4,311.6 914.7,311.3 916,310.8 917.3,311.3 918.6,311.6 919.9,311.9 921.2,312.1 922.4,312.7 923.7,313.6 925,314.2 926.3,314.1 927.6,314.5 928.9,315.2 930.1,315 931.4,316.3 932.7,315.9 934,316.8 935.3,316.8 936.6,318.2 937.9,318.7 939.2,318.5 940.4,319 941.7,319.9 943,320.5 944.3,320.6 945.6,320.9 946.9,321.3 948.2,321.9 949.5,321.6 950.7,321.6 952,322 953.3,321.8 954.6,321.3 955.9,321.6 957.2,321.5 958.5,322.1 959.8,322.4 961,322.5 962.3,321.3 963.6,320.5 964.9,321.2 966.2,321.2 967.5,321.5 968.8,321.2 970.1,321.2 971.4,319.9 972.6,319.1 973.9,319.3 975.2,319.4 976.5,318.4 977.8,318.9 979.1,318 980.4,317.3 981.7,317.1 982.9,316.5 984.2,315.9 985.5,315.4 986.8,315 988,314.9 989.3,315.5 990.5,315.9 991.7,316 992.9,315.4 994.2,315.6 995.4,314.6 996.6,315.1 997.9,314.6 999.1,313.9 1000.3,313.8 1001.5,313.7 1002.7,314.5 1003.9,314.4 1005.2,313.9 1006.4,314 1007.6,314 1008.8,315.2 1010,315.2 1011.3,316.1 1012.6,316.5 1013.8,316.7 1015.1,317.5 1016.4,317.9 1017.7,317.6 1019,319 1020.3,319.1 1021.6,319.8 1022.9,320 1024.1,321.2 1025.4,320.9 1026.7,320.6 1028,320.6 1029.3,321.3 1030.6,322.5 1031.9,322.6 1033.2,323.6 1034.4,322.5 1035.6,323 1036.8,322 1038,322.4 1039.2,321.5 1040.4,321.5 1041.6,321.4 1042.8,321.8 1044,321.5 1045.2,322.1 1046.4,321.4 1047.6,322.4 1048.9,322.4 1050.1,322.6 1051.3,323.5 1052.5,323.1 1053.8,323.6 1055.1,324.1 1056.3,324.2 1057.6,324.3 1058.9,325 1060.2,325.3 1061.5,326.2 1062.8,326.6 1064.1,326.6 1065.4,327.7 1066.6,328.8 1067.9,329.2 1069.2,329.7 1070.4,330.5 1071.6,332.3 1072.8,333 1074.1,334.2 1075.3,334.4 1076.5,336.1 1077.8,337.6 1079,337.9 1080.2,338.6 1081.5,340 1082.7,340.7 1084,340.8 1085.2,339.8 1086.5,339.4 1087.7,340.4 1089,340.2 1090.2,341 1091.5,340.6 1092.7,341 1094,340.4 1095.2,341.2 1096.5,340.9 1097.7,340.1 1099,339.8 1100.2,339.3 1101.5,339.5 1102.8,340.3 1104,340.7 1105.3,340.7 1106.5,339.9 1107.8,339.9 1109,339.8 1110.3,339.8 1111.5,339.9 1112.8,339.7 1114,339.1 1115.3,337.9 1116.6,336.9 1117.8,336.6 1119.1,336 1120.3,336.1 1121.6,335.1 1122.8,334.5 1124.1,335.2 1125.3,334.7 1126.6,334.5 1127.9,334.3 1129.1,334.3 1130.4,334.5 1131.6,335.6 1132.9,335.5 1134.1,335.2 1135.4,335.7 1136.6,335.5 1137.9,334.7 1139.1,334.3 1140.4,334.2 1141.7,334.3 1142.9,333.8 1144.2,333.8 1145.4,333.8 1146.7,334.3 1147.9,334 1149.2,333.3 1150.4,332.7 1151.7,332.2 1153,332.2 1154.2,332.9 1155.5,333.2 1156.7,332 1158,332 1159.2,332.1 1160.5,332.3 1161.7,332 1163,331.6 1164.2,330.5 1165.5,330.1 1166.8,330.6 1168,330.6 1169.3,330.3 1170.5,329.2 1171.8,329 1173,328.8 1174.3,332 1175.5,335.5 1176.8,338 1178.1,340.6 1179.3,342.5 1180.6,344.6 1181.8,347.3 1183.1,348.6 1184.3,349.9 1185.6,351.6 1186.8,353.1 1188.1,354.8 1189.3,355.8 1190.6,356.1 1191.9,356.9 1193.1,358.1 1194.4,359.5 1195.6,361.6 1196.9,362.1 1198.1,362.2 1199.4,363.7 1200.6,364 1201.9,364.7 1203.2,365.7 1204.4,366.6 1205.7,366.8 1206.9,367.6 1208.2,367.8 1209.4,369.6 1210.7,370.8 1211.9,371.7 1213.2,371.7 1214.4,372.7 1215.7,373.3 1217,373.4 1218.2,373.9 1219.5,375.4 1220.7,376 1222,376.7 1223.2,376.6 1224.5,377.6 1225.7,378.8 1227,378.9 1228.3,379.4 1229.5,381 1230.8,381.3 1232,382.1 1233.3,383.5 1234.5,384.4 1235.8,384.6 1237,384.8 1238.3,384.9 1239.5,384.9 1240.8,385.8 1242.1,385.9 1243.3,386.4 1244.6,387.2 1245.8,386.7 1247.1,386.3 1248.3,386.2 1249.6,386.9 1250.8,386.8 1252.1,386.7 1253.4,387.1 1254.6,387.6 1255.9,388.2 1257.1,387.2 1258.4,387.2 1259.6,386.7 1260.9,387 1262.1,387.6 1263.4,387.4 1264.6,387.5 1265.9,387.4 1267.2,388.3 1268.4,388.5 1269.7,388.4 1270.9,387.8 1272.2,387.7 1273.4,387.2 1274.7,386 1275.9,385.2 1277.2,385.9 1278.5,385.5 1279.7,385.4 1281,384.9 1282.2,385 1283.5,383.9 1284.7,383.1 1286,382.7 1287.2,383 1288.5,382.8 1289.7,382.5 1291,381.7 1292.3,381.8 1293.5,381.7 1294.8,381.4 1296,382.6 1297.3,382.9 1298.5,383.1 1299.8,382.7 1301,383.1 1302.3,383.4 1303.6,382.7 1304.8,383.4 1306.1,383.6 1307.3,382 1308.6,381 1309.8,380.2 1311.1,380.3 1312.3,379.4 1313.6,378.6 1314.8,377.8 1316.1,377.7 1317.3,377.8 1318.5,378.3 1319.7,378 1321,378.7 1322.2,379 1323.4,378.9 1324.6,379.7 1325.8,379.6 1327,379.5 1328.2,379.1 1329.4,379 1330.7,379.5"/>
<polyline points="877.8,283 878.6,270.4 879.4,232.5 880.3,163.9 881,113.3 881.5,102.5 882,112.1 883.1,148.7 884.8,198.8 886.5,248.8 888.3,279.6 890.1,292.1 892,295"/>
<polyline points="880.2,283 881,270.3 881.8,232.2 882.7,163.2 883.4,112.4 883.9,101.5 884.4,111.2 885.5,147.9 887.2,198.2 888.9,248.6 890.7,279.5 892.5,292.1 894.4,295"/>
<polyline points="882.5,283 883.3,270.4 884.1,232.6 885,164.2 885.8,113.8 886.2,103 886.7,112.6 887.8,149.1 889.5,199 891.2,248.9 893,279.6 894.8,292.1 896.7,295"/>
</g>
<text class="b" x="-1" y="588.8" font-size="52">C</text>
<g class="ax" stroke-width="4.1">
<path d="M115.5 595.4 V877.0 H549.1"/>
<path d="M107.7 597.4 H115.5"/>
<path d="M107.7 653.4 H115.5"/>
<path d="M107.7 709.4 H115.5"/>
<path d="M107.7 765.4 H115.5"/>
<path d="M107.7 821.4 H115.5"/>
<path d="M107.7 876.7 H115.5"/>
<path d="M115.5 877.0 V885.3"/>
<path d="M177.2 877.0 V885.3"/>
<path d="M238.8 877.0 V885.3"/>
<path d="M300.4 877.0 V885.3"/>
<path d="M362.1 877.0 V885.3"/>
<path d="M423.8 877.0 V885.3"/>
<path d="M485.4 877.0 V885.3"/>
<path d="M547 877.0 V885.3"/>
</g>
<g class="ax" stroke-width="3.2">
<path d="M110.6 625.4 H115.5"/>
<path d="M110.6 681.4 H115.5"/>
<path d="M110.6 737.4 H115.5"/>
<path d="M110.6 793.4 H115.5"/>
<path d="M110.6 849.4 H115.5"/>
</g>
<text x="84.8" y="606" font-size="26.5" text-anchor="middle">1.2</text>
<text x="84.8" y="662" font-size="26.5" text-anchor="middle">0.8</text>
<text x="84.8" y="718" font-size="26.5" text-anchor="middle">0.4</text>
<text x="84.8" y="774" font-size="26.5" text-anchor="middle">0.0</text>
<text x="84.8" y="830" font-size="26.5" text-anchor="middle">-0.4</text>
<text x="84.8" y="885.4" font-size="26.5" text-anchor="middle">-0.8</text>
<text x="115.2" y="910.3" font-size="26.5" text-anchor="middle">0</text>
<text x="176.8" y="910.3" font-size="26.5" text-anchor="middle">10</text>
<text x="238.5" y="910.3" font-size="26.5" text-anchor="middle">20</text>
<text x="300.1" y="910.3" font-size="26.5" text-anchor="middle">30</text>
<text x="361.8" y="910.3" font-size="26.5" text-anchor="middle">40</text>
<text x="423.4" y="910.3" font-size="26.5" text-anchor="middle">50</text>
<text x="485.1" y="910.3" font-size="26.5" text-anchor="middle">60</text>
<text x="546.8" y="910.3" font-size="26.5" text-anchor="middle">70</text>
<text x="321" y="943.5" font-size="30.7" text-anchor="middle">Time [ms]</text>
<text transform="translate(49.5,733) rotate(-90)" font-size="30.5" text-anchor="middle">Current [nA]</text>
<g class="tr" stroke-width="1.5">
<polyline points="185.4,767.4 187.7,730.6 189.1,705.5 190.4,680.4 191.9,673.7 193.5,667.6 195.2,662.4 197,658.2 198.5,656.3 200,653 201.5,649.2 202.9,648.7 204.3,646.3 205.7,645.2 207.1,643.8 208.6,642.1 210.1,641.4 211.5,638.9 213,637.6 214.2,635.9 215.5,636.2 216.8,634.3 218,633.6 219.2,633.4 220.5,632.9 221.9,631.1 223.2,631.4 224.6,631.2 225.9,629.8 227.3,629.7 228.6,628.3 230,627.2 231.3,626.6 232.7,626.4 234,627.1 235.3,626.6 236.6,627.2 237.9,627.1 239.3,625.6 240.6,625.1 241.9,624.2 243.2,624.8 244.4,625 245.7,625.1 247,624.1 248.3,624.6 249.5,623.8 250.8,624.8 252.1,624.5 253.4,623.7 254.6,624.9 255.9,625.3 257.2,624.4 258.5,625 259.7,624 261,624 262.3,624 263.6,624.4 264.8,623.2 266.1,622.5 267.4,622.3 268.7,622.5 270,623.3 271.3,623.5 272.5,622.4 273.8,622.9 275.1,622.1 276.4,621.3 277.7,621.7 279,622.6 280.2,623 281.5,622.2 282.8,622.4 284.1,621.3 285.4,620.6 286.7,621.7 288,621.6 289.2,620.5 290.5,620.3 291.8,620.9 293.1,619.7 294.4,619.3 295.7,620.2 296.9,619.5 298.2,619.4 299.5,619.3 300.8,619.3 302.1,619.1 303.4,618.9 304.6,619.9 305.9,620.4 307.2,621 308.5,619.6 309.8,619.2 311,620.3 312.3,619.9 313.6,620.6 314.9,620.1 316.2,620 317.4,620.6 318.7,620.4 320,620.5 321.2,619.6 322.5,620.7 323.8,620.8 325,620.1 326.2,620.2 327.5,620.6 328.8,621.3 330,619.9 331.2,620.9 332.5,620.8 333.8,619.7 335,619.7 336.2,620.4 337.5,619.6 338.8,620.1 340,620.2 341.3,620.3 342.5,619.3 343.8,618.7 345.1,620.2 346.3,619.4 347.6,619 348.9,619.5 350.1,618.7 351.4,619.6 352.7,620.1 353.9,619.5 355.2,619.6 356.5,619.5 357.7,619.7 359,618.9 360.3,618.3 361.6,618.2 362.8,619.8 364.1,620.7 365.4,619.9 366.7,620.4 367.9,619.7 369.2,620.2 370.5,620 371.8,620.4 373.1,621.2 374.3,621.6 375.6,622 376.9,622.1 378.2,621.5 379.4,620.7 380.7,621.5 382,621.7 383.3,620.8 384.5,621 385.8,620.4 387.1,621.6 388.4,622.5 389.7,621.3 390.9,621.9 392.2,622.7 393.5,623.2 394.8,623.2 396,622.1 397.3,622.4 398.6,622.2 399.9,622.5 401.1,622.2 402.4,621.7 403.7,622.2 405,621.5 406.2,621.2 407.5,621.9 408.8,622.5 410,621.6 411.3,621 412.6,621.4 413.9,620.9 415.1,622.3 416.4,621.7 417.7,620.9 418.9,621.3 420.2,621.6 421.5,621.6 422.7,621.8 424,620.9 425.3,620.6 426.6,621.3 427.8,620.6 429.1,620.9 430.4,620.7 431.6,621.6 432.9,621.5 434.2,621.6 435.5,621.1 436.7,621.2 438,621.2 439.3,621.3 440.6,621.7 441.8,621.8 443.1,622.3 444.4,622 445.7,621.6 447,621.1 448.2,621 449.5,620.8 450.8,621 452.1,622.3 453.4,622.9 454.6,622.6 455.9,623.6 457.2,623 458.5,623 459.8,623.7 461,623.1 462.3,623.3 463.6,623.3 464.9,624.1 466.2,623.5 467.4,623.8 468.7,624.6 470,625 471.3,625.7 472.6,625.2 473.9,625.3 475.3,624.7 476.6,624.7 477.9,625.6 479.2,626.5 480.5,626 481.8,625.3 483.2,626.1 484.5,625.4 485.8,625.5 487.1,626.5 487.3,768 488,787.8 489.5,800.4 490.8,804 492,800.4 493.5,797.4 495,793.8 496.5,791.6 498,789.4 499.5,787.6 501,785.8 502.5,784.4 504,783.2 505.5,782 507,781.3 508.5,780.5 510,780.2 511.5,779.4 513,778.6 514.5,778.1 516,777.9 517.5,778 519,777 520.5,777 522,776.9 523.5,776.2 525,776.5 526.5,776.3 528,776.1 529.5,775.4 531,775.8 532.5,775.1 534,775.4 535.5,775.2 537,774.9 538.5,774.9 540,774.8 541.5,774.7 543,774.3 544.5,774.6 546,774.3 547.5,774 547.6,772"/>
<polyline points="187,767 188.2,753.5 189.5,740 191,720 192.5,700 193.9,690.2 195.4,680.8 196.7,676.2 197.9,672.5 199.2,668.2 200.4,664.4 201.9,662.6 203.5,661.2 205,658.9 206.4,657.2 207.8,656 209.1,656.1 210.5,654.7 211.8,654.8 213,654.6 214.2,653.2 215.5,653.6 216.8,652.2 218,652.8 219.3,653 220.6,651.7 221.9,651.9 223.3,651.9 224.6,650.5 225.9,650.7 227.2,649.6 228.5,650.6 229.8,650.5 231.1,650.9 232.4,649.3 233.7,648.9 235,649.2 236.3,649.2 237.6,648.3 238.9,649.1 240.2,649.3 241.5,648.3 242.8,647.4 244.1,647.8 245.4,647.5 246.7,647.7 248,647.4 249.3,646.9 250.6,645.9 251.9,645.4 253.2,645.7 254.5,646.2 255.8,645.7 257.1,645.9 258.4,645.5 259.7,645.8 261,645.4 262.3,644.4 263.6,643.4 264.9,642.7 266.2,642.1 267.5,643.2 268.8,643.7 270.1,643.6 271.4,642.1 272.7,642.3 274,641.3 275.3,642.1 276.6,641.9 277.8,641.9 279.1,641.5 280.4,640.8 281.7,641.2 282.9,641.5 284.2,640.1 285.5,639.7 286.8,639.9 288,639.8 289.3,639.1 290.6,638.8 291.9,639.4 293.1,638.3 294.4,637.5 295.7,637.9 297,637.2 298.2,637.9 299.5,637.1 300.8,637.7 302.1,637 303.4,637.6 304.6,637.6 305.9,637.6 307.2,636.6 308.5,635.9 309.8,635.3 311,635.3 312.3,636.2 313.6,635.5 314.9,635.4 316.2,636 317.4,635.5 318.7,635.5 320,635.3 321.2,636.1 322.5,635.4 323.8,636.8 325,636.7 326.2,636.8 327.5,636.6 328.8,636.4 330,637.2 331.2,637.4 332.5,637.4 333.8,635.9 335,636.2 336.2,637.1 337.5,636.9 338.8,636.6 340,636.7 341.2,635.9 342.5,636.6 343.8,637.1 345,636.1 346.2,636.4 347.5,636.8 348.8,636.6 350,637.1 351.2,637.9 352.5,638.3 353.8,637.4 355,636.7 356.2,637.7 357.5,637.8 358.8,638.3 360,638.7 361.2,637.8 362.5,638 363.8,637.6 365,638.4 366.2,638.6 367.5,637.9 368.8,638.1 370,638.4 371.2,637.9 372.5,637.7 373.8,638.1 375,637.6 376.2,638.2 377.5,639.4 378.8,639.8 380,638.6 381.2,639.5 382.5,639.7 383.8,639.8 385,638.6 386.2,639.4 387.5,638.7 388.8,639.6 390,639.1 391.2,638.9 392.5,638.5 393.8,639.6 395,639 396.2,639.9 397.5,639.7 398.8,638.9 400,639.5 401.2,639.6 402.5,638.7 403.8,639.8 405,639.3 406.2,638.6 407.5,639.7 408.8,640.1 410,639.7 411.2,639.2 412.5,639.6 413.8,639.9 415,640.3 416.2,640.1 417.5,640.2 418.8,640.5 420,639.7 421.2,639.3 422.5,639.7 423.8,640.5 425,641 426.2,641.3 427.5,640.8 428.8,641 430,640.1 431.2,640.1 432.5,639.6 433.8,640.8 435,641.8 436.2,641.6 437.5,641.8 438.8,641.1 440,641.7 441.2,640.6 442.5,640.7 443.8,640.7 445,641.7 446.2,640.9 447.5,640.5 448.8,640.2 450,641.5 451.2,641.2 452.5,642.2 453.8,641.6 455,642.4 456.2,641.5 457.5,642.5 458.8,643.2 460,643.3 461.3,643.1 462.6,643.4 463.9,643.6 465.2,643.8 466.5,642.7 467.7,643.2 469,643.4 470.3,642.7 471.6,642 472.9,643.1 474.2,642.9 475.5,642.9 476.8,643.6 478.1,643.2 479.4,642.6 480.6,643.2 481.9,643.2 483.2,642.8 484.5,643.4 485.8,644.1 487.1,643.3 487.3,768 488,785.6 488.8,796.8 489.3,800 490.5,797.7 492,794.7 493.5,792.3 495,789.6 496.5,787.6 498,785.8 499.5,784.3 501,782.9 502.5,782.2 504,780.9 505.5,780.3 507,779.4 508.5,778.4 510,777.6 511.5,777.1 513,776.4 514.5,776.3 516,775.5 517.5,775.1 519,775.3 520.5,774.6 522,774.7 523.5,774.4 525,773.9 526.5,773.4 528,773.1 529.5,773 531,773.1 532.5,772.8 534,772.4 535.5,772.1 537,772.2 538.5,772.1 540,771.7 541.5,771.7 543,771.6 544.5,771.6 546,771.5 547.5,771.5 547.6,768.4"/>
<polyline points="188.5,767 189.8,757.5 191,748 192.5,736.5 194,725 195.5,716.1 197,708.1 198.5,701 200,695.2 201.3,691.6 202.5,688.8 203.8,686.6 205.2,684.6 206.6,683.2 208,682.7 209.4,682.3 210.9,681.1 212.4,680.9 213.8,680.9 215.2,679.2 216.5,679.7 217.9,679.4 219.3,678.4 220.6,677.3 222,678 223.3,677.2 224.6,676.2 226,675.6 227.3,676.6 228.6,676.6 229.9,676.8 231.3,676.7 232.6,676.1 233.9,676.5 235.2,675.4 236.5,675 237.8,675.2 239.1,674.7 240.4,674.8 241.7,674.1 243,673.9 244.3,672.4 245.6,671.8 246.9,671.4 248.2,670.7 249.5,670.5 250.8,670 252.1,669.9 253.4,670.4 254.7,669.9 256,669.6 257.3,668.9 258.6,668.8 259.8,669.9 261.1,669.9 262.3,669.8 263.6,668.9 264.8,669.4 266.1,668.6 267.3,668.5 268.6,669.6 269.8,669.5 271.1,669.2 272.4,669.3 273.6,669.5 274.9,669.5 276.1,668.4 277.4,667.5 278.6,667.5 279.9,667.4 281.1,667.1 282.4,668.4 283.6,668.8 284.9,668 286.1,668.1 287.4,667.7 288.7,668.5 289.9,668.1 291.2,667.5 292.4,667.2 293.7,667.7 294.9,667.3 296.2,667.8 297.4,668.6 298.7,668.1 299.9,667.6 301.2,668.8 302.4,668.4 303.7,667.5 305,667 306.2,666.8 307.5,667.8 308.7,668.6 310,668.3 311.2,667.5 312.5,667.7 313.7,669 315,668.7 316.2,669.5 317.5,669.7 318.7,668.2 320,668.8 321.2,668.8 322.5,668.5 323.8,667.8 325,668.1 326.2,667.2 327.5,667.3 328.8,667.3 330,668.2 331.2,668.4 332.5,667.3 333.8,667.1 335,666.3 336.2,667.3 337.5,667.6 338.8,666.6 340,666.7 341.2,666.7 342.5,665.9 343.8,666.6 345,666.6 346.2,667 347.5,666.7 348.8,665.6 350,665.6 351.2,665 352.5,666.5 353.8,667.1 355,667.3 356.2,666.4 357.5,665.5 358.8,666.5 360,667.2 361.2,665.9 362.5,666 363.8,665.3 365,666.2 366.2,666.7 367.5,665.7 368.8,665.8 370,666.1 371.2,665.6 372.5,666.5 373.8,666.2 375,665.5 376.2,665.9 377.5,666.4 378.8,665.6 380,665.4 381.2,666.6 382.5,666.5 383.8,666 385,665.8 386.2,665 387.5,664.7 388.8,664.7 390,665.2 391.2,664.7 392.5,664.4 393.8,663.9 395,664.7 396.2,664.3 397.5,665.3 398.8,665.7 400,664.4 401.2,664 402.5,664.6 403.8,664 405,663.5 406.2,664.7 407.5,664.6 408.8,664.3 410,664.7 411.2,664.9 412.5,663.8 413.8,663.1 415,663.3 416.2,663.3 417.5,663.4 418.8,663.9 420,664 421.2,664.7 422.5,663.3 423.8,663.3 425,663.1 426.2,664 427.5,663.3 428.8,662.9 430,663.2 431.2,663.3 432.5,663 433.8,662.9 435,664.1 436.2,663.8 437.5,664.5 438.8,664.2 440,663.1 441.2,664.4 442.5,664.7 443.8,665.2 445,665.3 446.2,665.2 447.5,663.9 448.8,663.9 450,663.3 451.2,663.4 452.5,662.8 453.8,663.2 455,664.5 456.2,663.8 457.5,664.4 458.8,664.1 460,663.9 461.3,664.9 462.6,665.4 463.9,664.9 465.2,664.9 466.5,663.9 467.7,663.6 469,664.8 470.3,664.7 471.6,664.5 472.9,664.9 474.2,663.7 475.5,664.2 476.8,664.3 478.1,665 479.4,664 480.6,665.1 481.9,664 483.2,663.6 484.5,664.2 485.8,664.7 487.1,664.5 487.3,768 488,784 490.4,794.1 492.5,797 493.7,794.4 495.2,791.7 496.7,789.1 498.2,787.3 499.7,785.4 501.2,783.6 502.7,782.5 504.2,781 505.7,779.6 507.2,778.6 508.7,777.9 510.2,777.2 511.7,776.2 513.2,775.9 514.7,775.1 516.2,774.8 517.7,773.9 519.2,773.7 520.7,773.1 522.2,773 523.7,772.6 525.2,772.4 526.7,772 528.2,772.2 529.7,771.8 531.2,771.4 532.7,771.3 534.2,770.9 535.7,771.3 537.2,771.1 538.7,770.7 540.2,770.3 541.7,770.7 543.2,770.1 544.7,769.8 546.2,770 547.6,766.9"/>
<polyline points="190,768 191.2,762 192.5,756 193.8,749 195,742 197,731.2 198.5,726 200,721.1 201.3,717.8 202.5,715.7 203.8,713.4 205.2,712.7 206.6,710.9 208,709.6 209.4,708.3 210.9,706.7 212.4,706.8 213.8,706.3 215.2,705.1 216.5,703.7 217.9,703.4 219.3,703 220.6,703 222,702.4 223.3,701.9 224.6,701.5 226,700.8 227.3,699.7 228.6,698.9 229.9,700.1 231.3,700.3 232.6,699.1 233.9,699.5 235.2,698.9 236.5,697.6 237.7,698.2 239,697.9 240.3,698.2 241.6,697.7 242.8,696.2 244.1,696.3 245.4,696.5 246.7,696.7 247.9,695.5 249.2,695.1 250.5,695.1 251.8,693.9 253,694.5 254.3,694.5 255.6,692.9 256.9,693 258.1,692.5 259.4,691.7 260.7,691.9 262,692.9 263.2,692.6 264.5,691.6 265.8,691.8 267.1,692.5 268.3,693.2 269.6,693 270.9,691.7 272.1,692.8 273.4,692.6 274.7,691.6 276,691.1 277.2,690.8 278.5,691.8 279.8,691.3 281,692.3 282.3,691.4 283.6,691.8 284.9,691.9 286.1,691.1 287.4,690.7 288.7,692.2 289.9,693.2 291.2,692.1 292.4,692.7 293.7,693.5 294.9,693.8 296.2,694 297.5,693.1 298.7,693.3 300,693.1 301.2,693.9 302.5,693.8 303.8,694.1 305,694.3 306.3,693.6 307.5,693.8 308.8,692.8 310.1,692.6 311.3,693.9 312.6,693.6 313.8,694 315.1,694 316.3,693.4 317.6,693.8 318.9,694.4 320.2,693.5 321.6,693 322.9,692.3 324.2,691.9 325.5,692.8 326.8,692.9 328.1,693.4 329.5,692.9 330.8,693.2 332.1,691.8 333.4,690.9 334.7,690.5 336,690.5 337.4,691.5 338.7,690.5 340,690.3 341.2,689.6 342.5,689.1 343.8,689.9 345,690.4 346.2,690.4 347.5,691.2 348.8,691.5 350,691.8 351.2,691.2 352.5,690.3 353.8,689.6 355,690.5 356.2,689.7 357.5,689.1 358.8,690 360,689.4 361.2,690.1 362.5,689.6 363.8,689.7 365,689 366.2,689.4 367.5,689.4 368.8,689.3 370,689 371.2,689.7 372.5,690.3 373.8,689.6 375,689 376.2,689.1 377.5,689.9 378.8,689.5 380,690 381.2,689.1 382.5,689.9 383.8,689.1 385,688.9 386.2,689.7 387.5,689.6 388.8,689.8 390,689.2 391.2,689.6 392.5,689.1 393.8,689.1 395,689.1 396.2,689.9 397.5,689.9 398.8,689.6 400,689.9 401.2,689.6 402.5,689.6 403.8,689.2 405,689.1 406.2,688.3 407.5,689.3 408.8,689.1 410,689.4 411.2,689.1 412.5,687.8 413.8,687.3 415,688.5 416.2,688.7 417.5,689.1 418.8,689.3 420,688.1 421.2,689 422.5,688.7 423.8,688.8 425,688.5 426.2,687.8 427.5,687.9 428.8,688 430,687.7 431.2,687.6 432.5,687.8 433.8,687.5 435,687.2 436.2,688.3 437.5,688 438.8,687.9 440,688.6 441.2,688.8 442.5,688.5 443.8,688 445,688.7 446.2,688 447.5,688.1 448.8,688 450,689.1 451.2,688.3 452.5,688.5 453.8,688.5 455,687.6 456.2,687.4 457.5,688.7 458.8,689.1 460,688.3 461.3,687.8 462.6,689 463.9,689 465.2,689.2 466.5,689.7 467.7,688.7 469,688.7 470.3,689.5 471.6,688.5 472.9,688.2 474.2,689.2 475.5,689.7 476.8,689.3 478.1,688.4 479.4,689.3 480.6,688.7 481.9,689.3 483.2,688.7 484.5,688.2 485.8,688.9 487.1,689 487.3,768 488,781.8 489.7,790.5 491.1,793 492.3,790.8 493.8,788.4 495.3,786.2 496.8,784.4 498.3,782.6 499.8,781.2 501.3,780 502.8,779.4 504.3,777.9 505.8,777.3 507.3,776.6 508.8,776.1 510.3,775.4 511.8,775.2 513.3,774.9 514.8,774.2 516.3,773.6 517.8,773.7 519.3,773.4 520.8,772.9 522.3,772.9 523.8,772.7 525.3,772.5 526.8,771.8 528.3,771.7 529.8,771.9 531.3,771.4 532.8,771.2 534.3,770.9 535.8,771.3 537.3,770.8 538.8,770.7 540.3,770.9 541.8,770.4 543.3,770.8 544.8,770.2 546.3,770.7 547.6,768.2"/>
<polyline points="192,768.8 193.5,763 195,757 196.8,748.9 198.7,740 200.3,735.6 202,731.7 203.3,730 204.6,728.7 205.8,728 207.1,727.9 208.6,727 210.1,725.5 211.5,724.3 213,723.8 214.2,722.8 215.5,721.6 216.8,722.2 218,721.9 219.2,720.5 220.5,719.5 221.8,719.1 223,720.4 224.3,719.3 225.5,719.7 226.8,720.4 228,718.9 229.3,718.7 230.6,718.6 231.8,719.3 233.1,718.2 234.3,717.7 235.6,717.3 236.8,716.6 238.1,717.3 239.3,717.9 240.6,717.3 241.9,716.2 243.2,716.9 244.4,717.2 245.7,717.1 247,716.3 248.3,716.9 249.5,716.6 250.8,716.4 252.1,716.1 253.4,715.3 254.6,715.2 255.9,715.7 257.2,715.7 258.5,715 259.7,715.4 261,715.6 262.3,714.1 263.6,713.5 264.8,713.3 266.1,712.7 267.4,713.7 268.7,714.1 270,714.1 271.3,714.9 272.5,714.1 273.8,713.4 275.1,712.9 276.4,713.1 277.7,714.1 279,714.2 280.2,713.2 281.5,713.4 282.8,712.8 284.1,713.6 285.4,713 286.7,712.9 288,713.6 289.2,714.4 290.5,714.4 291.8,713.7 293.1,714.1 294.4,713.6 295.7,712.8 296.9,712.9 298.2,713.8 299.5,714.1 300.8,713.4 302.1,714.3 303.3,714.7 304.6,713.8 305.9,714.7 307.1,713.8 308.4,712.9 309.7,713.3 310.9,714.2 312.2,714.1 313.4,714 314.7,713.8 316,713.3 317.2,713.1 318.5,713.1 319.8,713.4 321,714.3 322.3,713.1 323.6,712.8 324.8,714 326.1,714 327.4,712.9 328.6,713 329.9,713.5 331.1,714.2 332.4,713 333.7,713.9 334.9,714.1 336.2,713.2 337.5,713.3 338.7,713.9 340,713 341.2,713.5 342.5,713.4 343.8,712.4 345,712.3 346.2,712.5 347.5,712 348.8,713.3 350,712.6 351.2,712.2 352.5,712.7 353.8,712.8 355,712.4 356.2,712.2 357.5,712.4 358.8,713.3 360,712.1 361.2,713.1 362.5,713.6 363.8,713.4 365,713.5 366.2,712.7 367.5,713.4 368.8,713.3 370,713.1 371.2,712.6 372.5,711.9 373.8,712.4 375,712.7 376.2,711.4 377.5,711.4 378.8,711.8 380,711.3 381.2,710.9 382.5,710.8 383.8,710.4 385,710.4 386.2,710.9 387.5,711.3 388.8,711.8 390,711.4 391.2,710.8 392.5,712 393.8,712.1 395,712.2 396.2,712.2 397.5,711.5 398.8,711.7 400,711.2 401.2,711.6 402.5,712.1 403.8,710.8 405,711.6 406.2,710.8 407.5,710.1 408.8,709.9 410,710.7 411.2,711.6 412.5,712.2 413.8,711 415,710.9 416.2,711.8 417.5,712.2 418.8,712.2 420,711.1 421.2,710.6 422.5,710.1 423.8,710.1 425,710.3 426.2,711.2 427.5,711.3 428.8,710.5 430,710.1 431.2,710.4 432.5,711.3 433.8,711 435,711.5 436.2,711.5 437.5,711.8 438.8,711.3 440,710.8 441.2,710.7 442.5,711.3 443.8,710.6 445,710 446.2,711 447.5,710.8 448.8,711 450,710.2 451.2,709.5 452.5,709.5 453.8,709.9 455,709.3 456.2,709.5 457.5,710.9 458.8,710.6 460,709.6 461.3,710.6 462.6,710.2 463.9,709.7 465.2,710.3 466.5,710.7 467.7,710.2 469,710.7 470.3,711.2 471.6,710.5 472.9,710.4 474.2,709.4 475.5,710 476.8,709.8 478.1,710.3 479.4,710.8 480.6,710.2 481.9,710.5 483.2,711.2 484.5,710.1 485.8,710.7 487.1,710.2 487.3,768 488,779.5 489,786.9 489.7,789 490.9,787.2 492.4,785.6 493.9,784.6 495.4,783.3 496.9,781.8 498.4,780.9 499.9,780.1 501.4,779.7 502.9,778.7 504.4,778 505.9,777.7 507.4,776.9 508.9,776.8 510.4,776.2 511.9,776.4 513.4,775.8 514.9,775.9 516.4,775.3 517.9,775 519.4,775.3 520.9,775.1 522.4,774.3 523.9,774.8 525.4,774.6 526.9,774.5 528.4,774.2 529.9,774.2 531.4,774.1 532.9,773.7 534.4,773.4 535.9,773.8 537.4,773.9 538.9,773.2 540.4,773.6 541.9,773.4 543.4,773.2 544.9,773.4 546.4,773.3 547.6,771.7"/>
<polyline points="194,769.6 195.5,764.8 197,759.1 198.7,754.6 200.4,749.5 201.8,747.7 203.2,746.7 204.6,745.1 206,744 207.3,744.2 208.6,742.7 209.9,742.6 211.2,741.3 212.5,741.6 213.8,741.2 215.2,740 216.5,740.4 217.9,740.1 219.3,738.6 220.6,738.2 222,738.4 223.3,738.9 224.6,737.7 226,737.1 227.3,737.7 228.6,738.3 229.9,736.9 231.3,736 232.6,736.8 233.9,736.3 235.2,736.1 236.5,736.9 237.8,737 239.1,736.9 240.3,737.1 241.6,737 242.9,737 244.2,736.6 245.5,736.3 246.8,735.1 248.1,736 249.4,736.4 250.6,735.5 251.9,735.6 253.2,734.4 254.5,734.6 255.8,734.9 257.1,734.4 258.4,734.4 259.7,735.1 261,734.1 262.2,734.1 263.5,733.4 264.8,733.5 266.1,734.5 267.4,734.4 268.7,733.3 269.9,734.2 271.2,734.3 272.4,734.1 273.7,733.5 274.9,733.2 276.2,732.8 277.4,733.4 278.7,732.6 279.9,733.8 281.2,732.8 282.4,733.3 283.7,733.4 284.9,733.1 286.2,732.7 287.4,732.8 288.7,732.6 290,733.7 291.2,733.6 292.5,733.3 293.7,733.4 295,733.1 296.2,732.2 297.5,731.5 298.7,733 300,733.4 301.2,732.2 302.5,732.5 303.7,733 305,733.4 306.2,732 307.5,731.4 308.8,731.7 310,732.2 311.2,731.5 312.5,732.4 313.8,732.9 315,732.6 316.2,733.2 317.5,732.7 318.8,733.3 320,732.7 321.2,732.5 322.5,732.3 323.8,732.9 325,733.5 326.2,732.3 327.5,732.7 328.8,733.4 330,733.5 331.2,732.6 332.5,732.5 333.8,733.4 335,732.6 336.2,733.7 337.5,733.1 338.8,733.1 340,733.5 341.2,733.5 342.5,733.4 343.8,733.8 345,733.6 346.2,734 347.5,733.7 348.8,733.4 350,732.2 351.2,733.2 352.5,732.4 353.8,732 355,731.4 356.2,732.2 357.5,732.1 358.8,732.6 360,733.1 361.2,733.6 362.5,733.6 363.8,733.6 365,732.8 366.2,731.7 367.5,732.5 368.8,733.3 370,732.7 371.2,733.2 372.5,732.8 373.8,732.2 375,732.8 376.2,731.6 377.5,731.6 378.8,732.1 380,731.3 381.2,731.7 382.5,731.6 383.8,731.2 385,731.4 386.2,732.1 387.5,732.3 388.8,732.3 390,732.6 391.2,732 392.5,732.1 393.8,731.2 395,731.8 396.2,732.1 397.5,732.2 398.8,732.5 400,733.1 401.2,732.8 402.5,733.2 403.8,732.7 405,731.8 406.2,732.4 407.5,732.3 408.8,732.2 410,731.2 411.2,731.5 412.5,731.3 413.8,731.6 415,732.4 416.2,731.7 417.5,730.7 418.8,730.4 420,731 421.2,731.9 422.5,730.8 423.8,731 425,730.9 426.2,731 427.5,731.5 428.8,731.4 430,731 431.2,731.9 432.5,732.2 433.8,732.5 435,731.2 436.2,731.3 437.5,730.8 438.8,730.2 440,731.6 441.2,731.7 442.5,731.4 443.8,731.8 445,732.1 446.2,731.6 447.5,730.6 448.8,731.6 450,731.4 451.2,731.1 452.5,730.5 453.8,730.8 455,731.6 456.2,732.2 457.5,730.9 458.8,730.2 460,731.5 461.3,731.3 462.6,731.4 463.9,731.5 465.2,731 466.5,730.8 467.7,731.5 469,731.4 470.3,730.2 471.6,729.6 472.9,730.9 474.2,731 475.5,731.3 476.8,731 478.1,731.3 479.4,730.7 480.6,730.4 481.9,730.2 483.2,730 484.5,731.2 485.8,731.6 487.1,730.6 487.3,768 488,777.9 488.9,784.2 489.4,786 490.6,784.6 492.1,782.8 493.6,781.4 495.1,779.9 496.6,779 498.1,778.2 499.6,777.2 501.1,776.3 502.6,776 504.1,775.1 505.6,774.4 507.1,774.1 508.6,773.9 510.1,773.9 511.6,773.2 513.1,773.2 514.6,772.6 516.1,772.3 517.6,772.7 519.1,772.3 520.6,772 522.1,772 523.6,771.5 525.1,771.9 526.6,771.4 528.1,771.8 529.6,771.1 531.1,771.2 532.6,771 534.1,771.2 535.6,770.7 537.1,770.6 538.6,770.7 540.1,770.5 541.6,771 543.1,770.4 544.6,770.5 546.1,770.6 547.6,769.2"/>
<polyline points="198,771.7 199.3,768.5 200.7,765.9 202,763.8 203.3,761.5 204.6,760.2 205.8,758.9 207.1,758.3 208.6,756 210.1,754.4 211.5,753.6 213,753.7 214.2,753.8 215.5,752.2 216.8,752.7 218,752 219.2,752.2 220.5,752.1 221.8,750.4 223,751.1 224.3,750.5 225.5,749.4 226.8,749.4 228,748.5 229.3,749.3 230.6,749.1 231.8,748.1 233.1,747.8 234.3,748 235.6,748.5 236.8,747.8 238.1,746.9 239.3,746.9 240.6,746.2 241.9,746.5 243.2,747.6 244.5,746.8 245.7,746.7 247,747.5 248.3,746.8 249.6,746.3 250.9,746.2 252.2,746.9 253.4,747.4 254.7,747.6 256,746.5 257.3,746.3 258.6,745.9 259.9,746.6 261.2,746.5 262.4,747.2 263.7,747.2 265,747.2 266.3,746.4 267.6,746.7 268.9,745.9 270.1,745.6 271.4,746.8 272.7,746.1 274,745.5 275.3,746.5 276.6,745.9 277.9,745.9 279.2,746.3 280.4,747.2 281.7,745.9 283,746.4 284.3,745.5 285.6,746.4 286.9,746.1 288.2,745.4 289.5,745.6 290.8,746.2 292,745.4 293.3,745.5 294.6,746.3 295.9,746.8 297.2,746.8 298.5,746.3 299.8,746.5 301.1,745.5 302.3,745.4 303.6,745.3 304.9,744.8 306.2,744.4 307.5,744.2 308.8,745.9 310,745.7 311.2,745.5 312.5,746 313.8,746.5 315,747.1 316.2,747.4 317.5,746 318.8,745.7 320,745.9 321.2,745.8 322.5,746.3 323.8,746 325,747.1 326.2,746.6 327.5,747.4 328.8,748 330,747.8 331.2,747 332.5,746.2 333.8,747.6 335,748.2 336.2,747.7 337.5,746.7 338.8,747.5 340,747.1 341.2,747.2 342.5,748.2 343.8,748.6 345,748.7 346.2,747.3 347.5,747.7 348.8,747.8 350,748.1 351.2,746.9 352.5,748.1 353.8,747.2 355,746.5 356.2,747.4 357.5,748 358.8,748.3 360,747.2 361.2,747 362.5,747.4 363.8,747.8 365,748.3 366.2,747.1 367.5,747.8 368.8,747.3 370,747.3 371.2,746.9 372.5,747.4 373.8,747.2 375,747.8 376.2,747.5 377.5,747 378.8,747.2 380,747.2 381.2,747.2 382.5,748.6 383.8,748.5 385,749 386.2,748.8 387.5,749.4 388.8,748.7 390,748.4 391.2,747.8 392.5,747.5 393.8,748.6 395,748.4 396.2,748.6 397.5,749.2 398.8,748.8 400,747.9 401.2,748.5 402.5,749 403.8,749.5 405,748.8 406.2,747.8 407.5,748.4 408.8,749 410,747.8 411.2,748.7 412.5,749.2 413.8,748 415,748.5 416.2,747.7 417.5,748.1 418.8,747.6 420,748.2 421.2,747.9 422.5,748.2 423.8,748.6 425,749.1 426.2,748.7 427.5,747.9 428.8,747.9 430,748 431.2,748 432.5,747.7 433.8,749 435,748.5 436.2,747.5 437.5,747.5 438.8,748.5 440,748.9 441.2,748.7 442.5,747.7 443.8,747.8 445,748.9 446.2,748 447.5,747.5 448.8,747.9 450,747.3 451.2,748.7 452.5,749.2 453.8,748.2 455,749.1 456.2,749.7 457.5,749.6 458.8,749.6 460,748.3 461.3,747.9 462.6,748.2 463.9,747.8 465.2,748.8 466.5,748.5 467.7,748.8 469,748.5 470.3,749.4 471.6,748.7 472.9,749.3 474.2,749.7 475.5,749.4 476.8,748.2 478.1,749.3 479.4,748.3 480.6,747.7 481.9,748.9 483.2,748.2 484.5,747.5 485.8,748.8 487.1,748.7 487.3,768 488,776.2 489.1,781.5 489.9,783 491.1,781.9 492.6,780.9 494.1,779.7 495.6,778.9 497.1,778.5 498.6,777.5 500.1,776.6 501.6,776.5 503.1,775.6 504.6,775.5 506.1,774.6 507.6,774.6 509.1,774.2 510.6,773.9 512.1,773.8 513.6,773.4 515.1,772.9 516.6,772.7 518.1,772.2 519.6,772.5 521.1,772.1 522.6,771.7 524.1,772 525.6,771.9 527.1,771.3 528.6,771.6 530.1,771.5 531.6,771 533.1,771.3 534.6,770.8 536.1,770.7 537.6,771.1 539.1,771.1 540.6,770.8 542.1,771 543.6,770.7 545.1,770.8 546.6,770.5 547.6,768.7"/>
<polyline points="202,769.7 203.3,768.4 204.7,767.1 206,765.6 207.3,764.5 208.7,763 210,761 211.2,760.8 212.5,759.6 213.8,758.9 215,758.6 216.2,759.5 217.5,758.7 218.8,758.2 220,758.4 221.2,758.6 222.5,758 223.8,757 225,757 226.2,756.6 227.5,757.5 228.8,756.1 230,756 231.2,756.5 232.5,756.5 233.8,756.4 235,756.6 236.2,755.7 237.5,756.3 238.8,756.7 240,755.1 241.2,755 242.5,754.9 243.8,754.9 245,755.2 246.2,754.8 247.5,755.3 248.8,756 250,756.4 251.2,756.5 252.5,755.3 253.8,755.7 255,755.9 256.2,755.7 257.5,755.7 258.8,754.9 260,755.5 261.2,754.7 262.5,754.9 263.8,754.4 265,754.7 266.2,753.9 267.5,754 268.8,754.9 270,754.4 271.2,755 272.5,755.4 273.8,755.2 275,755.1 276.2,754.3 277.5,754.4 278.8,755.3 280,755.8 281.2,755.3 282.5,754.8 283.8,755.6 285,755.2 286.2,755.5 287.5,754.2 288.8,754 290,754.9 291.2,754.9 292.5,755.3 293.8,754.9 295,755.6 296.2,754.3 297.5,754.1 298.8,754.7 300,754.8 301.2,755.1 302.5,754.9 303.8,755.2 305,755.6 306.2,754.9 307.5,754 308.8,753.9 310,754.1 311.2,755.4 312.5,756.1 313.8,755.9 315,754.8 316.2,755.7 317.5,754.6 318.8,754.1 320,755.1 321.2,754.7 322.5,754.7 323.8,754.4 325,753.7 326.2,753.6 327.5,753.4 328.8,753.3 330,753.2 331.2,753.5 332.5,754.2 333.8,754.5 335,755.2 336.2,755.6 337.5,755.3 338.8,755.2 340,754.1 341.2,753.6 342.5,754.9 343.8,755.6 345,754.9 346.2,755.5 347.5,755.9 348.8,754.8 350,753.9 351.2,753.6 352.5,753.4 353.8,753.2 355,754 356.2,753.9 357.5,755 358.8,754.9 360,754.9 361.2,755.3 362.5,755.2 363.8,755.8 365,754.4 366.2,754.5 367.5,754.7 368.8,755.5 370,754.9 371.2,754.4 372.5,754.1 373.8,755 375,754.7 376.2,753.9 377.5,755.1 378.8,754.1 380,754.2 381.2,754.9 382.5,755.3 383.8,754.8 385,754.7 386.2,755.1 387.5,753.9 388.8,754.7 390,755.1 391.2,754.7 392.5,753.8 393.8,753.6 395,754.6 396.2,753.8 397.5,753.2 398.8,753 400,753.6 401.2,753.9 402.5,753.7 403.8,754.1 405,754.5 406.2,755.2 407.5,755.6 408.8,754.3 410,754.6 411.2,753.6 412.5,753.4 413.8,753.8 415,753.2 416.2,754.2 417.5,754.9 418.8,754.9 420,754.7 421.2,754.5 422.5,754.9 423.8,754.6 425,754.2 426.2,754.5 427.5,755.1 428.8,755 430,753.8 431.2,754.7 432.5,754.4 433.8,753.9 435,754.8 436.2,754.5 437.5,754 438.8,753.2 440,754.4 441.3,754.9 442.5,754.9 443.8,754.2 445.1,753.8 446.4,754.6 447.6,755.1 448.9,754.8 450.2,754 451.5,753.4 452.7,753.2 454,754.2 455.3,754.7 456.5,755.2 457.8,754.5 459.1,754.8 460.4,754 461.6,754.4 462.9,753.5 464.2,753.7 465.5,753 466.7,754.2 468,754.1 469.3,754.3 470.6,754.8 471.8,754 473.1,753.6 474.4,754.6 475.6,754.2 476.9,754.1 478.2,754.9 479.5,754.5 480.7,754.3 482,753.8 483.3,753 484.6,753.7 485.8,754.6 487.1,754 487.3,768 488,774.6 489.2,778.8 490.1,780 491.3,779.3 492.8,777.9 494.3,777.3 495.8,776.7 497.3,776.2 498.8,775.3 500.3,775.2 501.8,774.8 503.3,774.7 504.8,773.8 506.3,774.3 507.8,773.5 509.3,773.8 510.8,773.4 512.3,773.5 513.8,772.9 515.3,772.9 516.8,772.6 518.3,773 519.8,772.7 521.3,772.4 522.8,772.4 524.3,772.2 525.8,772.2 527.3,772.4 528.8,772.3 530.3,772.4 531.8,771.9 533.3,772.4 534.8,772.5 536.3,772.3 537.8,772.3 539.3,772.3 540.8,771.7 542.3,772 543.8,771.7 545.3,772.1 546.8,771.9 547.6,771.3"/>
<polyline points="206,769.1 207.2,767.6 208.5,767.6 209.8,766.4 211,766.7 212.2,765 213.5,764.9 214.8,763.3 216,763.7 217.3,763.8 218.5,762.2 219.8,762.4 221.1,761.5 222.4,761.4 223.6,761.9 224.9,760.7 226.2,760.1 227.5,759.4 228.7,758.9 230,759.3 231.2,759 232.5,758.7 233.8,759.7 235,759.3 236.2,759.2 237.5,759.2 238.8,760.1 240,759.4 241.2,759.8 242.5,760.5 243.8,760.1 245,759.4 246.2,758.7 247.5,759.3 248.8,758.7 250,758.8 251.2,759.6 252.5,760 253.8,759.1 255,758.9 256.2,758.6 257.5,758.4 258.8,758.7 260,758.1 261.2,757.8 262.5,757.7 263.8,758 265,758.6 266.2,758.4 267.5,758.6 268.8,759.3 270,759.7 271.2,759.2 272.5,759.8 273.8,758.4 275,758.9 276.2,759.3 277.5,758.9 278.8,758.8 280,758.4 281.2,759.2 282.5,758.5 283.8,758.9 285,759.3 286.2,759.8 287.5,760.2 288.8,758.9 290,758.3 291.2,758.2 292.5,759.2 293.8,759.2 295,759.5 296.2,759.1 297.5,759.1 298.8,759.9 300,759.2 301.2,758.9 302.5,759.2 303.8,759.8 305,760.1 306.2,759.6 307.5,758.4 308.8,757.9 310,757.5 311.2,757.3 312.5,758.4 313.8,758.4 315,757.9 316.2,759 317.5,759.1 318.8,759 320,759.6 321.2,758.5 322.5,758.6 323.8,758.9 325,758.8 326.2,758.3 327.5,759.1 328.8,759.6 330,760.2 331.2,759.7 332.5,758.7 333.8,758.2 335,757.6 336.2,759.1 337.5,758.8 338.8,758.4 340,757.6 341.2,757.8 342.5,759.2 343.8,759.3 345,758.2 346.2,758 347.5,759.2 348.8,758.6 350,759.1 351.2,759.2 352.5,758.1 353.8,759.1 355,759.5 356.2,759.9 357.5,758.5 358.8,758.1 360,758 361.2,758.9 362.5,758.9 363.8,759.6 365,759.6 366.2,758.3 367.5,758.6 368.8,757.8 370,758.8 371.2,757.7 372.5,757.7 373.8,758.3 375,759.1 376.2,758.1 377.5,758.9 378.8,757.9 380,758 381.2,758.8 382.5,758.5 383.8,758.8 385,758.6 386.2,758.8 387.5,759.2 388.8,758.8 390,758 391.2,757.3 392.5,757.7 393.8,757.5 395,757.6 396.2,757.4 397.5,757.3 398.8,758.7 400,758.2 401.2,759 402.5,757.8 403.8,758.1 405,758.9 406.2,758.8 407.5,758 408.8,758.4 410,758.4 411.2,758.4 412.5,758.4 413.8,758.7 415,759 416.2,757.7 417.5,758.8 418.8,758.7 420,758.2 421.2,757.4 422.5,757.3 423.8,756.9 425,758 426.2,757.5 427.5,757 428.8,757.5 430,758.2 431.2,757.5 432.5,758.4 433.8,759.1 435,758.9 436.2,757.7 437.5,758.3 438.8,758.9 440,758.3 441.3,758.8 442.5,758.1 443.8,757.2 445.1,758.2 446.4,757.6 447.6,758.5 448.9,758.6 450.2,758.1 451.5,758.2 452.7,758.1 454,757.7 455.3,758.3 456.5,758.7 457.8,757.7 459.1,758 460.4,758.4 461.6,758.1 462.9,758.5 464.2,759 465.5,758.9 466.7,757.7 468,758.6 469.3,758.9 470.6,758 471.8,758.4 473.1,757.3 474.4,758 475.6,758 476.9,758.6 478.2,758 479.5,758.2 480.7,758.5 482,758.6 483.3,757.7 484.6,756.8 485.8,757 487.1,757.6 487.3,768 488,773.5 490.3,777 492.3,778 493.5,777.3 495,776.2 496.5,775.6 498,774.7 499.5,774.3 501,774.3 502.5,774.1 504,773.4 505.5,773.5 507,773.1 508.5,773 510,773.1 511.5,772.6 513,772.4 514.5,772.5 516,772.8 517.5,772.3 519,772.6 520.5,772.1 522,772.4 523.5,772.4 525,772 526.5,771.9 528,771.8 529.5,771.8 531,771.8 532.5,772 534,772.2 535.5,771.7 537,772.2 538.5,771.6 540,771.8 541.5,772 543,772.1 544.5,772 546,772.1 547.5,771.4 547.6,771.4"/>
<polyline points="210,767.2 211.2,767.1 212.5,766.3 213.8,767 215,766.7 216.2,765.5 217.5,764.7 218.8,765.5 220,764.6 221.2,765.1 222.5,764.9 223.8,764.5 225,764.8 226.2,764.5 227.5,764.2 228.8,763.7 230,763.1 231.2,762.6 232.5,762.8 233.8,762.8 235,763.4 236.2,762.8 237.5,762.6 238.8,763.6 240,763.4 241.2,763.3 242.5,763.3 243.8,763.6 245,762.4 246.2,762.8 247.5,761.6 248.8,761.3 250,761.8 251.2,761.6 252.5,761.7 253.8,761.3 255,761.2 256.2,761.5 257.5,761.9 258.8,762.3 260,762.1 261.2,761.8 262.5,762.8 263.8,762.9 265,762.5 266.2,762.3 267.5,761.4 268.8,761.1 270,760.7 271.2,762.2 272.5,762.6 273.8,761.4 275,762 276.2,761.7 277.5,762.1 278.8,761.9 280,761.5 281.2,760.9 282.5,760.8 283.8,761.2 285,761.9 286.2,761.2 287.5,761.4 288.8,762.5 290,761.4 291.2,761.4 292.5,762.3 293.8,762.3 295,762.9 296.2,762.6 297.5,762.5 298.8,761.6 300,761.5 301.2,761.7 302.5,762.4 303.8,762.4 305,761.8 306.2,762.5 307.5,762.4 308.8,762.5 310,761.5 311.2,761.2 312.5,761.6 313.8,761.5 315,761.2 316.2,762.2 317.5,762.8 318.8,762.6 320,763.1 321.2,762.8 322.5,762.2 323.8,761.2 325,761.6 326.2,762.4 327.5,762.2 328.8,762.4 330,761.8 331.2,760.8 332.5,761.3 333.8,761.2 335,761.5 336.2,762.5 337.5,762.9 338.8,763.1 340,762.6 341.2,762.2 342.5,762 343.8,762.6 345,761.2 346.2,760.5 347.5,760.3 348.8,760.9 350,762.2 351.2,762.7 352.5,762.2 353.8,762.8 355,762.6 356.2,762.7 357.5,761.7 358.8,760.9 360,760.7 361.2,761.8 362.5,762.4 363.8,762.2 365,761.2 366.2,761.2 367.5,761 368.8,761.4 370,762 371.2,762.5 372.5,762.2 373.8,761.5 375,761.3 376.2,760.9 377.5,760.5 378.8,760.1 380,760.1 381.2,761.6 382.5,761.6 383.8,762.5 385,762 386.2,761.3 387.5,761 388.8,761.2 390,761.6 391.2,761.2 392.5,761.8 393.8,760.7 395,761.4 396.2,760.9 397.5,760.5 398.8,761.6 400,762 401.3,761.2 402.5,760.5 403.8,761.4 405,762.2 406.3,761.1 407.6,762.1 408.8,762.3 410.1,761.3 411.4,760.5 412.6,761.3 413.9,761.1 415.1,760.8 416.4,762 417.7,760.9 418.9,760.8 420.2,761.2 421.5,762.1 422.7,760.8 424,760.2 425.2,760 426.5,760.1 427.8,760.4 429,760.7 430.3,760.7 431.6,760.4 432.8,760.9 434.1,760.4 435.3,760.4 436.6,760 437.9,759.7 439.1,760.3 440.4,760.6 441.7,761.1 442.9,761.9 444.2,762 445.4,760.8 446.7,761.4 448,761.4 449.2,761.8 450.5,760.5 451.8,760.3 453,761.5 454.3,762 455.5,760.8 456.8,760.3 458.1,760 459.3,760.1 460.6,761.4 461.9,760.9 463.1,760.9 464.4,761.7 465.6,761.8 466.9,760.8 468.2,761.1 469.4,760.6 470.7,760.1 472,760.4 473.2,761.4 474.5,761.1 475.7,761.7 477,761.2 478.3,760.2 479.5,761.4 480.8,760.2 482.1,761.2 483.3,760.8 484.6,761.3 485.8,761.9 487.1,760.7 487.3,768 488,772.4 489.1,775.2 489.8,776 491,775 492.5,774.3 494,773.2 495.5,772.6 497,771.9 498.5,772 500,771.2 501.5,770.7 503,770.5 504.5,770.5 506,769.9 507.5,770 509,769.6 510.5,769.3 512,769.6 513.5,768.9 515,769.4 516.5,768.9 518,769.1 519.5,768.8 521,768.4 522.5,768.4 524,768.3 525.5,768.3 527,768.3 528.5,768.3 530,768.2 531.5,768.5 533,768.3 534.5,768 536,767.9 537.5,768.3 539,768.2 540.5,768.4 542,767.8 543.5,767.9 545,768.3 546.5,767.8 547.6,767.4"/>
<polyline stroke-width="1.0" points="487.3,768 488,786.1 488.8,797.7 489.3,801 490.5,797.4 492,794 493.5,790.7 495,787.9 496.5,785.8 498,783.6 499.5,782.2 501,780.6 502.5,779 504,778.2 505.5,777.2 507,776.4 508.5,775.5 510,775.2 511.5,774.3 513,773.9 514.5,773.4 516,773 517.5,772.6 519,772.6 520.5,772.3 522,771.6 523.5,771.7 525,771.1 526.5,771.3 528,770.9 529.5,770.8 531,770.8 532.5,770.6 534,770.4 535.5,770 537,769.7 538.5,769.9 540,769.8 541.5,769.9 543,769.8 544.5,769.2 546,769.2 547.5,769.4 547.6,766.9"/>
<polyline stroke-width="1.0" points="487.3,768 488,784.5 489.5,795 490.6,798 491.8,795.6 493.3,793.5 494.8,791.6 496.3,789.3 497.8,788 499.3,785.9 500.8,785 502.3,783.6 503.8,782.8 505.3,782 506.8,781.4 508.3,780.4 509.8,780 511.3,779.1 512.8,778.4 514.3,778.2 515.8,778 517.3,777.6 518.8,776.8 520.3,776.6 521.8,776.3 523.3,776.2 524.8,776.2 526.3,775.6 527.8,775.2 529.3,775.6 530.8,775.4 532.3,775.2 533.8,774.5 535.3,774.5 536.8,774.3 538.3,774.7 539.8,774 541.3,773.9 542.8,773.9 544.3,774.2 545.8,773.6 547.3,774.1 547.6,771.1"/>
<polyline stroke-width="1.0" points="487.3,768 488,782.9 489.8,792.3 491.2,795 492.4,792.8 493.9,790.9 495.4,788.7 496.9,787.1 498.4,785.3 499.9,784 501.4,782.7 502.9,781.2 504.4,780 505.9,779.6 507.4,778.3 508.9,777.8 510.4,777.4 511.9,776.4 513.4,775.7 514.9,775.3 516.4,774.7 517.9,774.7 519.4,774 520.9,773.4 522.4,773.5 523.9,772.9 525.4,772.6 526.9,772.2 528.4,772.6 529.9,772 531.4,772 532.9,771.7 534.4,771.8 535.9,771.1 537.4,771.3 538.9,771.3 540.4,770.8 541.9,770.7 543.4,770.5 544.9,770.4 546.4,770.7 547.6,767"/>
<polyline stroke-width="1.0" points="487.3,768 488,780.6 489.7,788.7 491.2,791 492.4,788 493.9,785.3 495.4,782.9 496.9,781.2 498.4,779.2 499.9,778.5 501.4,776.8 502.9,775.9 504.4,775.6 505.9,775.2 507.4,774.5 508.9,774 510.4,773.2 511.9,772.8 513.4,772.6 514.9,772.3 516.4,772 517.9,771.9 519.4,771.7 520.9,771.5 522.4,771.7 523.9,771.6 525.4,770.9 526.9,771.1 528.4,771.1 529.9,770.5 531.4,771.1 532.9,770.7 534.4,770.5 535.9,770.4 537.4,770.7 538.9,770.3 540.4,770.2 541.9,770.5 543.4,769.9 544.9,770 546.4,770.3 547.6,768.9"/>
<polyline stroke-width="1.0" points="487.3,768 488,778.5 489.7,785.1 491,787 492.2,785.6 493.7,784.3 495.2,782.5 496.7,781.8 498.2,780.4 499.7,779.2 501.2,778.8 502.7,777.7 504.2,777.5 505.7,776.7 507.2,775.9 508.7,775.9 510.2,775 511.7,775.1 513.2,774.1 514.7,774 516.2,773.9 517.7,773.4 519.2,773.2 520.7,772.8 522.2,773 523.7,773 525.2,772.4 526.7,772.5 528.2,772.3 529.7,772.2 531.2,772.3 532.7,771.9 534.2,771.7 535.7,771.6 537.2,771.7 538.7,771.8 540.2,771.7 541.7,771.2 543.2,770.9 544.7,771.5 546.2,770.9 547.6,769.1"/>
<polyline stroke-width="1.0" points="487.3,768 488,776.8 490,782.4 491.7,784 492.9,782.4 494.4,780.5 495.9,778.9 497.4,777 498.9,775.9 500.4,775 501.9,774.3 503.4,773.2 504.9,773 506.4,772.1 507.9,771.9 509.4,771.4 510.9,770.8 512.4,770.6 513.9,770.5 515.4,770.2 516.9,769.8 518.4,770 519.9,769.4 521.4,769.2 522.9,768.9 524.4,769.4 525.9,769.1 527.4,768.9 528.9,768.7 530.4,768.4 531.9,768.2 533.4,768.5 534.9,768.5 536.4,768.6 537.9,767.9 539.4,767.8 540.9,767.7 542.4,767.7 543.9,768.1 545.4,768 546.9,768 547.6,766.6"/>
<polyline stroke-width="1.0" points="487.3,768 488,775.1 490.2,779.7 492,781 493.2,779.9 494.7,778.8 496.2,778.3 497.7,777.3 499.2,776.8 500.7,776.3 502.2,775.2 503.7,774.9 505.2,774.4 506.7,774.1 508.2,774.2 509.7,773.4 511.2,773.2 512.7,772.8 514.2,772.6 515.7,772.3 517.2,772.1 518.7,772.5 520.2,772.3 521.7,771.9 523.2,772.1 524.7,772.1 526.2,771.5 527.7,771.7 529.2,771.2 530.7,771.2 532.2,771.2 533.7,771.2 535.2,771.3 536.7,771 538.2,770.9 539.7,771.2 541.2,770.8 542.7,771 544.2,771 545.7,771.1 547.2,770.6 547.6,769.5"/>
<polyline stroke-width="1.0" points="487.3,768 488,774 488.9,777.9 489.5,779 490.7,778.4 492.2,777.1 493.7,776.5 495.2,776 496.7,774.9 498.2,774.7 499.7,774.4 501.2,773.7 502.7,773.1 504.2,772.6 505.7,772.8 507.2,772.1 508.7,772.2 510.2,771.7 511.7,771.2 513.2,771.2 514.7,771 516.2,771 517.7,770.6 519.2,770.7 520.7,770.6 522.2,770.3 523.7,770.6 525.2,770.2 526.7,770.4 528.2,770.3 529.7,770.1 531.2,770 532.7,770 534.2,769.5 535.7,769.9 537.2,770 538.7,769.7 540.2,769.7 541.7,769.7 543.2,769.5 544.7,769.7 546.2,769.6 547.6,768.2"/>
<polyline stroke-width="1.0" points="487.3,768 488,773 490.3,776.1 492.4,777 493.6,775.9 495.1,775.2 496.6,774.1 498.1,773.5 499.6,773.3 501.1,773 502.6,772.2 504.1,771.9 505.6,771.5 507.1,771.6 508.6,771.3 510.1,771 511.6,770.9 513.1,771.1 514.6,771.1 516.1,771 517.6,771 519.1,770.6 520.6,770.5 522.1,770.8 523.6,770.7 525.1,770.6 526.6,770.2 528.1,770.2 529.6,770.6 531.1,770.2 532.6,770.3 534.1,770.5 535.6,770.4 537.1,770.5 538.6,769.9 540.1,770.3 541.6,770.1 543.1,770.3 544.6,770 546.1,770.4 547.6,770 547.6,769.8"/>
<polyline stroke-width="1.0" points="487.3,768 488,771.9 490,774.3 491.6,775 492.8,774.4 494.3,773.7 495.8,773.1 497.3,772.9 498.8,772.4 500.3,772.1 501.8,772.1 503.3,771.8 504.8,771.8 506.3,771.1 507.8,770.9 509.3,770.7 510.8,770.8 512.3,770.5 513.8,770.8 515.3,770.5 516.8,770.7 518.3,770.2 519.8,770.5 521.3,770 522.8,770.3 524.3,770.3 525.8,769.8 527.3,769.8 528.8,769.5 530.3,769.9 531.8,769.8 533.3,769.8 534.8,769.4 536.3,769.3 537.8,769.8 539.3,769.4 540.8,769.9 542.3,769.7 543.8,769.3 545.3,769.7 546.8,769.7 547.6,768.8"/>
<polyline stroke-width="1.0" points="487.3,768 488,771.3 488.8,773.4 489.4,774 490.6,774 492.1,773.4 493.6,773.1 495.1,773 496.6,772.4 498.1,772.5 499.6,772.2 501.1,771.7 502.6,771.9 504.1,771.7 505.6,771.7 507.1,771.6 508.6,771.4 510.1,771.3 511.6,771.4 513.1,770.8 514.6,770.7 516.1,771 517.6,771 519.1,771.1 520.6,770.9 522.1,770.8 523.6,771 525.1,770.4 526.6,770.4 528.1,770.9 529.6,770.7 531.1,770.6 532.6,770.5 534.1,770.2 535.6,770.4 537.1,770.2 538.6,770.2 540.1,770.4 541.6,770.1 543.1,770.6 544.6,770.1 546.1,770 547.6,770.3 547.6,769.9"/>
<polyline stroke-width="1.0" points="487.3,768 488,770.8 489.9,772.5 491.6,773 492.8,772.4 494.3,772.5 495.8,771.9 497.3,771.6 498.8,771.9 500.3,771.8 501.8,771.3 503.3,771.2 504.8,770.7 506.3,770.5 507.8,770.5 509.3,770.3 510.8,770.6 512.3,770.1 513.8,770.3 515.3,769.9 516.8,769.9 518.3,770 519.8,770 521.3,769.8 522.8,769.9 524.3,769.9 525.8,769.6 527.3,769.8 528.8,769.4 530.3,769.8 531.8,769.9 533.3,769.9 534.8,769.9 536.3,769.6 537.8,769.9 539.3,769.7 540.8,769.6 542.3,769.2 543.8,769.1 545.3,769.3 546.8,769.7 547.6,768.9"/>
<polyline points="181.6,766 184.1,789.8 186.2,837.2 187.8,861 188.9,843.9 190.3,808.8 191.7,782.1 193.3,769.8 196.6,766"/>
<polyline points="181.4,766 183.7,788.5 185.8,833.5 187.2,856 188.2,839.8 189.4,806.5 190.7,781.3 192.2,769.6 195.2,766"/>
<polyline points="181.8,766 184.4,787 186.7,829 188.3,850 189.4,834.9 190.8,803.8 192.2,780.3 193.8,769.4 197.1,766"/>
<polyline points="181.1,766 183.3,786 185.2,826 186.6,846 187.6,831.6 188.8,802 190.1,779.6 191.6,769.2 194.6,766"/>
<polyline points="181.6,766 184,784 186.1,820 187.6,838 188.6,825 189.8,798.4 191.1,778.2 192.6,768.9 195.6,766"/>
<polyline points="181.2,766 183.2,782.5 184.9,815.5 186.2,832 187.1,820.1 188.2,795.7 189.3,777.2 190.7,768.6 193.4,766"/>
<polyline points="181.5,766 183.7,779.5 185.6,806.5 187,820 188,810.3 189.2,790.3 190.5,775.2 192,768.2 195,766"/>
<polyline points="181,766 182.9,778.2 184.6,802.8 185.8,815 186.7,806.2 187.8,788 189,774.3 190.3,768 193,766"/>
<polyline points="181.5,766 183.5,774.5 185.2,791.5 186.5,800 187.4,793.9 188.5,781.3 189.7,771.8 191,767.4 193.7,766"/>
<polyline points="180.9,766 182.7,773.2 184.3,787.8 185.4,795 186.2,789.8 187.2,779 188.2,770.9 189.4,767.2 191.8,766"/>
<polyline points="181,766 183,770.8 184.8,780.2 186,785 186.9,781.6 188,774.5 189.2,769.2 190.5,766.8 193.2,766"/>
<polyline points="182.9,766 186.3,789.2 189.3,835.7 191.4,858.9 192.7,842.2 194.3,807.8 196,781.8 197.9,769.7 201.8,766"/>
<polyline points="184.5,766 188.1,774.5 191.2,791.5 193.5,800 194.9,793.9 196.7,781.3 198.4,771.8 200.5,767.4 204.7,766"/>
<polyline points="190.9,772 195.7,783 199.9,805 202.9,816 205.7,807 209.2,788.5 212.7,774.5 216.9,768 225.3,766"/>
<polyline points="187.5,766 191.5,772 195,784 197.5,790 199.5,785.7 202,776.8 204.5,770.1 207.5,767 213.5,766"/>
<polyline points="193,770 198.6,773 203.5,779 207,782 210.2,779.1 214.2,773.2 218.2,768.7 223,766.6 232.6,766"/>
<polyline points="262,765.6 268,765.4 270.9,765.2 273,770 274.7,776.3 277.2,772 280,770.2 283.5,769 288,767.2 294,765.8 300,765.4"/>
<polyline points="179.6,765 179.8,694.6 180.1,765"/>
</g>
<g class="tr">
<polyline stroke-width="2" points="117.5,765 119,765 120.6,765.1 122.1,765.2 123.7,765.2 125.2,765.3 126.8,764.8 128.3,764.8 129.9,765.1 131.4,765 133,765.2 134.5,764.8 136.1,764.8 137.6,764.7 139.2,764.8 140.7,764.8 142.3,764.6 143.8,764.5 145.4,764.6 146.9,764.9 148.5,765 150,764.7 151.5,764.9 153.1,764.7 154.6,764.8 156.1,764.6 157.6,764.4 159.2,764.8 160.7,764.6 162.2,764.5 163.7,764.9 165.3,765 166.8,764.8 168.3,765 169.8,764.9 171.4,764.9 172.9,764.7 174.4,764.9 175.9,764.9 177.5,765 179,764.7"/>
<path d="M181 764 L183 759 L186 756 L190 757.5 L196 759.5 L210 761.5 L240 762.6 L300 763 L487 762.4 L487 766.6 L300 767.2 L240 767.6 L210 768 L196 768.6 L190 769.5 L184 770 Z" fill="#000" stroke="none"/>
<path d="M488.6 765 L547.8 764.4 L547.8 773.5 L530 773.2 L512 772.2 L498 771.5 L490 771.6 L488.6 775 Z" fill="#000" stroke="none"/>
<path d="M487.1 687 V804" stroke-width="2.6"/>
<path d="M181.2 768 L181.8 800 L184 835 L187.6 861.5 L188.9 845 L189.5 810 L190 768 Z" fill="#000" stroke="none"/>
</g>
<g stroke="#fff" stroke-width="0.7" fill="none" opacity="0.8"><path d="M188.4 800 L188.9 840"/></g>
<text class="b" x="606" y="587.6" font-size="51">D</text>
<g class="ax" stroke-width="4.2">
<path d="M812.7 595.2 V875.9 H1241.6"/>
<path d="M804.2 597.3 H812.7"/>
<path d="M804.2 652.5 H812.7"/>
<path d="M804.2 707.6 H812.7"/>
<path d="M804.2 762.8 H812.7"/>
<path d="M804.2 818 H812.7"/>
<path d="M804.2 873.1 H812.7"/>
<path d="M817.3 875.9 V884.6"/>
<path d="M887.7 875.9 V884.6"/>
<path d="M958.1 875.9 V884.6"/>
<path d="M1028.4 875.9 V884.6"/>
<path d="M1098.8 875.9 V884.6"/>
<path d="M1169.2 875.9 V884.6"/>
<path d="M1239.5 875.9 V884.6"/>
</g>
<g class="ax" stroke-width="3.2">
<path d="M807.4 624.9 H812.7"/>
<path d="M807.4 680.1 H812.7"/>
<path d="M807.4 735.2 H812.7"/>
<path d="M807.4 790.4 H812.7"/>
<path d="M807.4 845.5 H812.7"/>
</g>
<text x="781" y="606.6" font-size="26" text-anchor="middle">1.2</text>
<text x="781" y="661.8" font-size="26" text-anchor="middle">0.8</text>
<text x="781" y="716.9" font-size="26" text-anchor="middle">0.4</text>
<text x="781" y="772.1" font-size="26" text-anchor="middle">0.0</text>
<text x="781" y="827.3" font-size="26" text-anchor="middle">-0.4</text>
<text x="781" y="883.9" font-size="26" text-anchor="middle">-0.8</text>
<text x="818.3" y="908.6" font-size="26" text-anchor="middle">-80</text>
<text x="888.7" y="908.6" font-size="26" text-anchor="middle">-60</text>
<text x="959.1" y="908.6" font-size="26" text-anchor="middle">-40</text>
<text x="1029.4" y="908.6" font-size="26" text-anchor="middle">-20</text>
<text x="1098.8" y="908.6" font-size="26" text-anchor="middle">0</text>
<text x="1169.2" y="908.6" font-size="26" text-anchor="middle">20</text>
<text x="1239.5" y="908.6" font-size="26" text-anchor="middle">40</text>
<text x="1017" y="948" font-size="31" text-anchor="middle">Vhold [mV]</text>
<text transform="translate(750.5,742.5) rotate(-90)" font-size="30.3" text-anchor="middle">Current [nA]</text>
<path d="M1098.8 599.5 V874" stroke="#000" stroke-width="2.2" stroke-dasharray="3.1 1.6" fill="none"/>
<path d="M815 763.2 H1238" stroke="#000" stroke-width="1.5" stroke-dasharray="4.3 2.3" fill="none"/>
<polyline points="852.5,762.6 877.1,762.6 901.8,762.4 926.4,762.2 951,761.6 975.7,761 1000.3,773.9 1024.9,812.2 1049.5,854.7 1074.2,856.6 1098.8,835.2 1123.4,801.5 1148.1,780.4 1172.7,760.6 1197.3,742.1 1221.9,721.7" fill="none" stroke="#333" stroke-width="1.6"/>
<g fill="#4a4a4a" stroke="#3c3c3c" stroke-width="0.6"><circle cx="852.5" cy="762.6" r="4.7"/><circle cx="877.1" cy="762.6" r="4.7"/><circle cx="901.8" cy="762.4" r="4.7"/><circle cx="926.4" cy="762.2" r="4.7"/><circle cx="951" cy="761.6" r="4.7"/><circle cx="975.7" cy="761" r="4.7"/><circle cx="1000.3" cy="773.9" r="4.7"/><circle cx="1024.9" cy="812.2" r="4.7"/><circle cx="1049.5" cy="854.7" r="4.7"/><circle cx="1074.2" cy="856.6" r="4.7"/><circle cx="1098.8" cy="835.2" r="4.7"/><circle cx="1123.4" cy="801.5" r="4.7"/><circle cx="1148.1" cy="780.4" r="4.7"/><circle cx="1172.7" cy="760.6" r="4.7"/><circle cx="1197.3" cy="742.1" r="4.7"/><circle cx="1221.9" cy="721.7" r="4.7"/></g>
<polyline points="852.5,761.8 877.1,761.8 901.8,761.6 926.4,761.4 951,760.6 975.7,759.3 1000.3,757.7 1024.9,755.1 1049.5,752.5 1074.2,747 1098.8,729.5 1123.4,707.8 1148.1,688 1172.7,663 1197.3,640.6 1221.9,624.1" fill="none" stroke="#bdbdbd" stroke-width="1.7"/>
<g fill="#cccccc" stroke="#b4b4b4" stroke-width="0.7"><circle cx="852.5" cy="761.8" r="4.8"/><circle cx="877.1" cy="761.8" r="4.8"/><circle cx="901.8" cy="761.6" r="4.8"/><circle cx="926.4" cy="761.4" r="4.8"/><circle cx="951" cy="760.6" r="4.8"/><circle cx="975.7" cy="759.3" r="4.8"/><circle cx="1000.3" cy="757.7" r="4.8"/><circle cx="1024.9" cy="755.1" r="4.8"/><circle cx="1049.5" cy="752.5" r="4.8"/><circle cx="1074.2" cy="747" r="4.8"/><circle cx="1098.8" cy="729.5" r="4.8"/><circle cx="1123.4" cy="707.8" r="4.8"/><circle cx="1148.1" cy="688" r="4.8"/><circle cx="1172.7" cy="663" r="4.8"/><circle cx="1197.3" cy="640.6" r="4.8"/><circle cx="1221.9" cy="624.1" r="4.8"/></g>
<text x="1239.9" y="631" font-size="37">I</text><text x="1250.6" y="638.2" font-size="17.5" stroke="#000" stroke-width="0.5">K+</text>
<text x="1239.9" y="737.8" font-size="37">I</text><text x="1250.6" y="746" font-size="17.5" stroke="#000" stroke-width="0.5">Na+</text>
</svg>
</body></html>
